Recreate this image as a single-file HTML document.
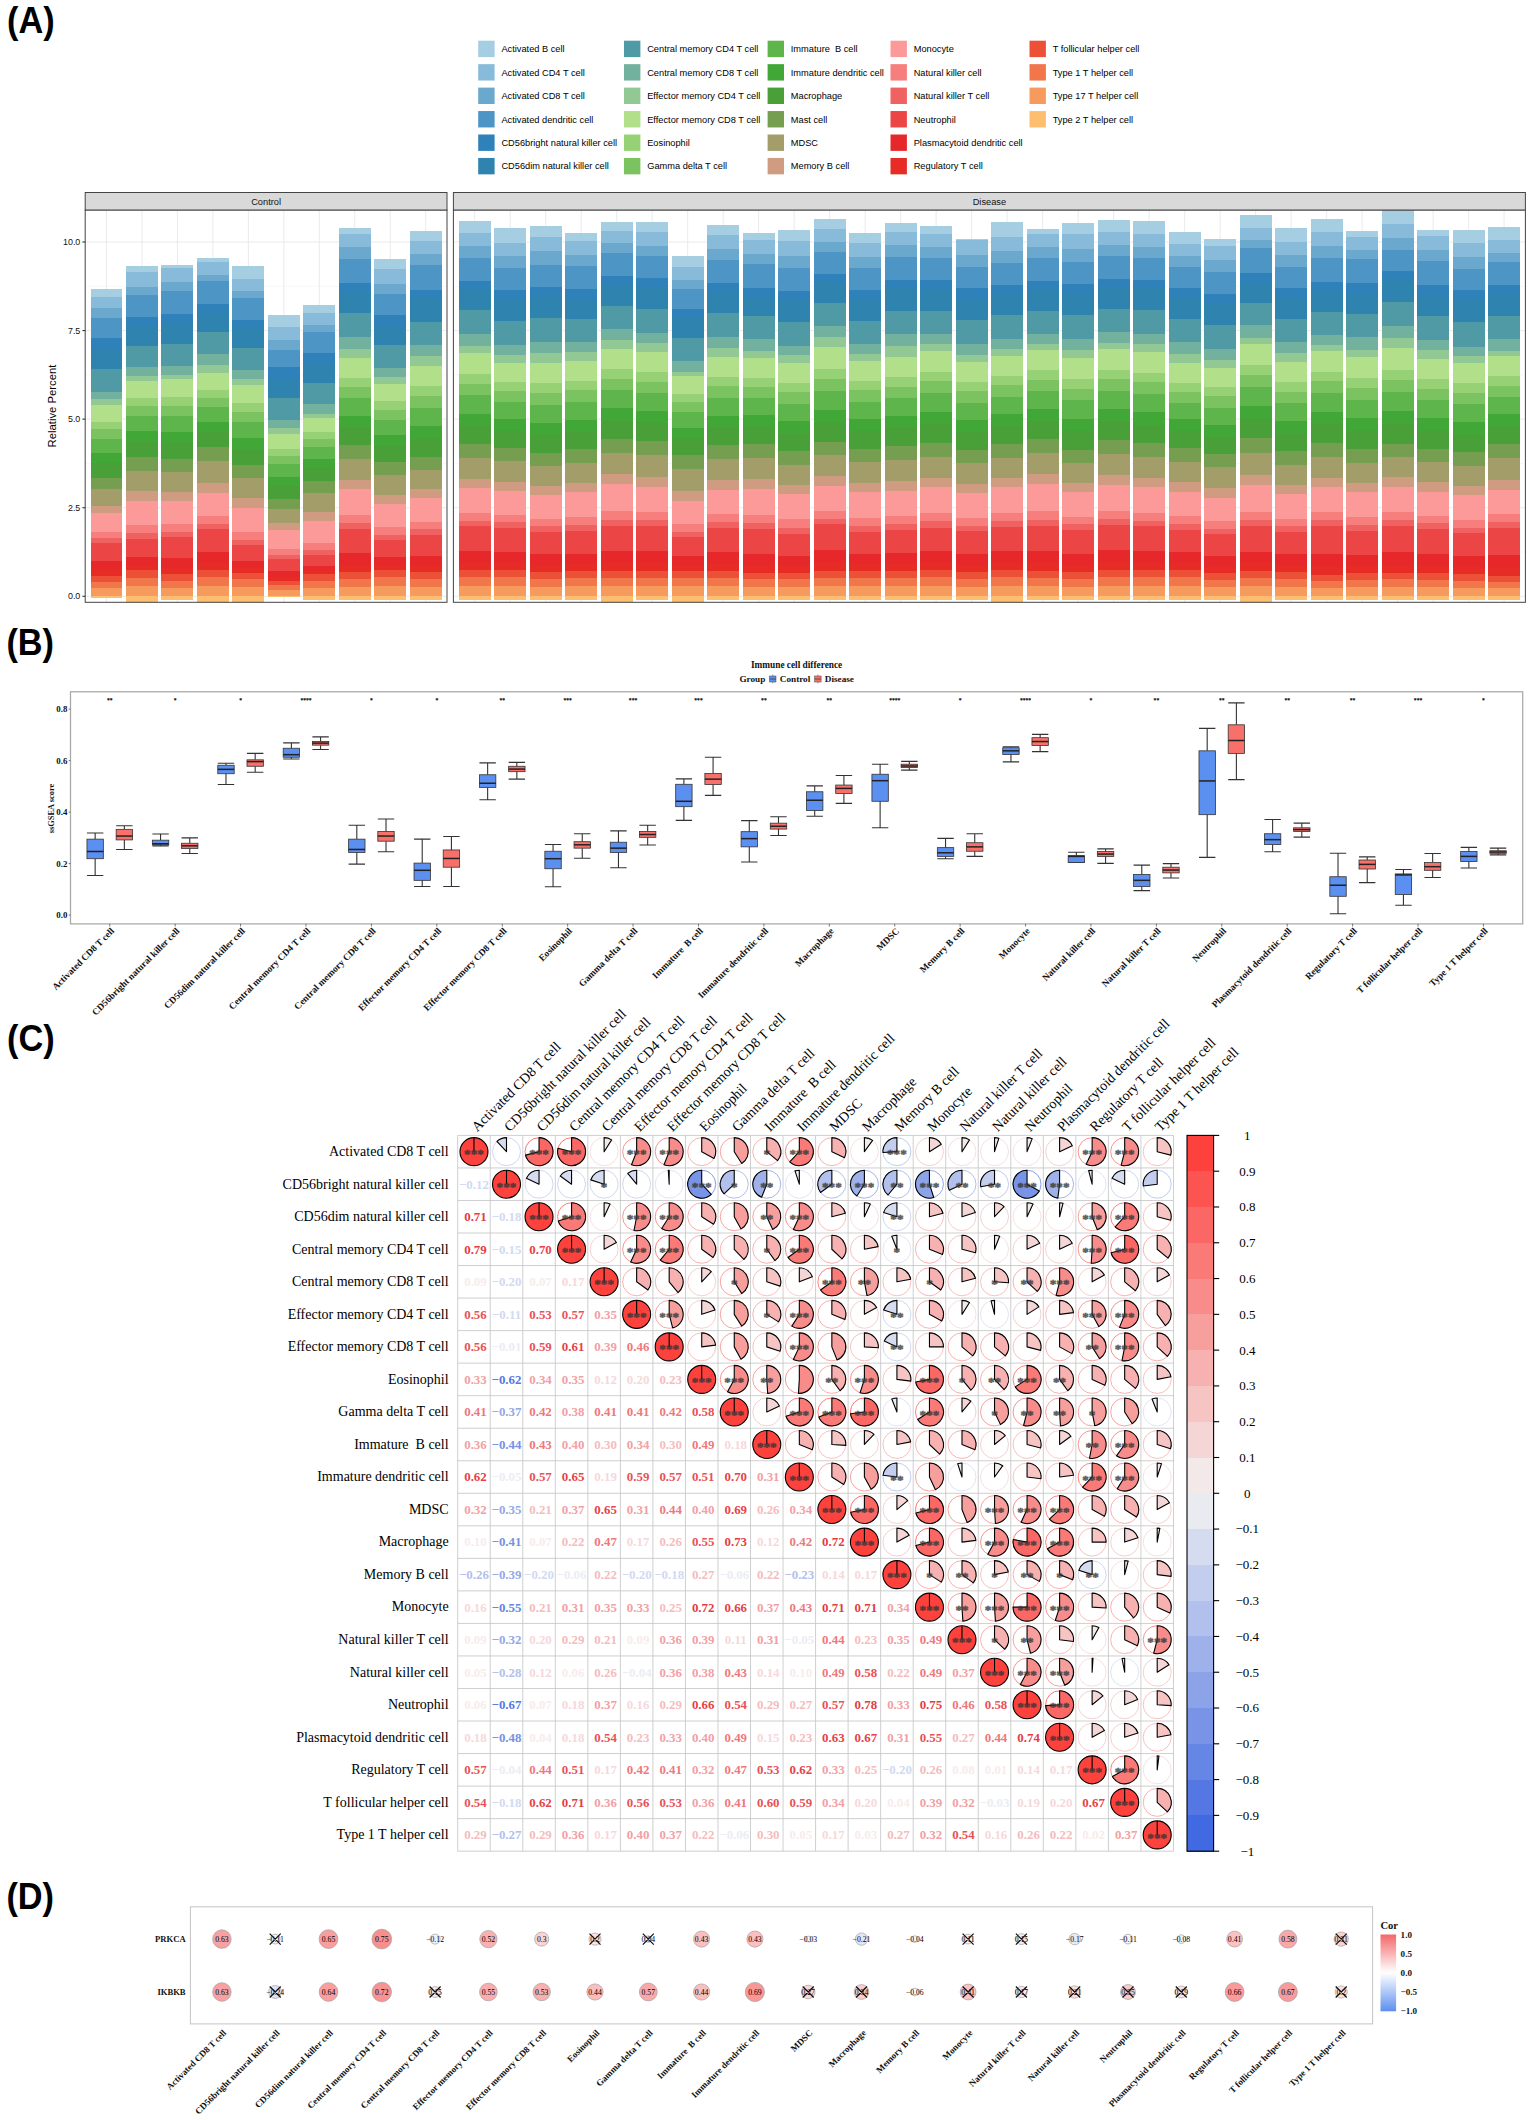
<!DOCTYPE html>
<html lang="en">
<head>
<meta charset="utf-8">
<title>Immune cell infiltration figure</title>
<style>
html,body{margin:0;padding:0;background:#fff;}
body{width:1535px;height:2120px;overflow:hidden;}
svg{display:block;}
svg{font-family:'Liberation Sans', Arial, sans-serif;fill:#111;}
.pl{font-family:'Liberation Sans', Arial, sans-serif;font-weight:700;font-size:36.4px;fill:#000;}
.sa{font-family:'Liberation Sans', Arial, sans-serif;}
.se{font-family:'Liberation Serif', 'Times New Roman', serif;}
.b{font-weight:700;}
</style>
</head>
<body>
<svg width="1535" height="2120" viewBox="0 0 1535 2120">
<rect x="0" y="0" width="1535" height="2120" fill="#FFFFFF"/>
<text x="7.1" y="33.1" class="pl" textLength="47.6" lengthAdjust="spacingAndGlyphs">(A)</text>
<g class="sa" font-size="9.25" fill="#000">
<rect x="478.2" y="40.7" width="16.4" height="16.4" fill="#A6CEE3"/>
<text x="501.4" y="52.2">Activated B cell</text>
<rect x="478.2" y="64.15" width="16.4" height="16.4" fill="#88BBD9"/>
<text x="501.4" y="75.65">Activated CD4 T cell</text>
<rect x="478.2" y="87.6" width="16.4" height="16.4" fill="#6AA8CE"/>
<text x="501.4" y="99.1">Activated CD8 T cell</text>
<rect x="478.2" y="111.05" width="16.4" height="16.4" fill="#4C95C4"/>
<text x="501.4" y="122.55">Activated dendritic cell</text>
<rect x="478.2" y="134.5" width="16.4" height="16.4" fill="#2E82B9"/>
<text x="501.4" y="146">CD56bright natural killer cell</text>
<rect x="478.2" y="157.95" width="16.4" height="16.4" fill="#2F83AF"/>
<text x="501.4" y="169.45">CD56dim natural killer cell</text>
<rect x="624" y="40.7" width="16.4" height="16.4" fill="#509AA6"/>
<text x="647.2" y="52.2">Central memory CD4 T cell</text>
<rect x="624" y="64.15" width="16.4" height="16.4" fill="#71B19D"/>
<text x="647.2" y="75.65">Central memory CD8 T cell</text>
<rect x="624" y="87.6" width="16.4" height="16.4" fill="#91C893"/>
<text x="647.2" y="99.1">Effector memory CD4 T cell</text>
<rect x="624" y="111.05" width="16.4" height="16.4" fill="#B2DF8A"/>
<text x="647.2" y="122.55">Effector memory CD8 T cell</text>
<rect x="624" y="134.5" width="16.4" height="16.4" fill="#96D175"/>
<text x="647.2" y="146">Eosinophil</text>
<rect x="624" y="157.95" width="16.4" height="16.4" fill="#7AC360"/>
<text x="647.2" y="169.45">Gamma delta T cell</text>
<rect x="767.6" y="40.7" width="16.4" height="16.4" fill="#5DB54B"/>
<text x="790.8" y="52.2">Immature  B cell</text>
<rect x="767.6" y="64.15" width="16.4" height="16.4" fill="#41A736"/>
<text x="790.8" y="75.65">Immature dendritic cell</text>
<rect x="767.6" y="87.6" width="16.4" height="16.4" fill="#499F38"/>
<text x="790.8" y="99.1">Macrophage</text>
<rect x="767.6" y="111.05" width="16.4" height="16.4" fill="#769E50"/>
<text x="790.8" y="122.55">Mast cell</text>
<rect x="767.6" y="134.5" width="16.4" height="16.4" fill="#A29D69"/>
<text x="790.8" y="146">MDSC</text>
<rect x="767.6" y="157.95" width="16.4" height="16.4" fill="#CF9B81"/>
<text x="790.8" y="169.45">Memory B cell</text>
<rect x="890.5" y="40.7" width="16.4" height="16.4" fill="#FB9A99"/>
<text x="913.7" y="52.2">Monocyte</text>
<rect x="890.5" y="64.15" width="16.4" height="16.4" fill="#F67E7D"/>
<text x="913.7" y="75.65">Natural killer cell</text>
<rect x="890.5" y="87.6" width="16.4" height="16.4" fill="#F06161"/>
<text x="913.7" y="99.1">Natural killer T cell</text>
<rect x="890.5" y="111.05" width="16.4" height="16.4" fill="#EB4546"/>
<text x="913.7" y="122.55">Neutrophil</text>
<rect x="890.5" y="134.5" width="16.4" height="16.4" fill="#E6282A"/>
<text x="913.7" y="146">Plasmacytoid dendritic cell</text>
<rect x="890.5" y="157.95" width="16.4" height="16.4" fill="#E62C25"/>
<text x="913.7" y="169.45">Regulatory T cell</text>
<rect x="1029.5" y="40.7" width="16.4" height="16.4" fill="#EC5138"/>
<text x="1052.7" y="52.2">T follicular helper cell</text>
<rect x="1029.5" y="64.15" width="16.4" height="16.4" fill="#F1764A"/>
<text x="1052.7" y="75.65">Type 1 T helper cell</text>
<rect x="1029.5" y="87.6" width="16.4" height="16.4" fill="#F79A5D"/>
<text x="1052.7" y="99.1">Type 17 T helper cell</text>
<rect x="1029.5" y="111.05" width="16.4" height="16.4" fill="#FDBF6F"/>
<text x="1052.7" y="122.55">Type 2 T helper cell</text>
</g>
<defs>
<clipPath id="clipA0"><rect x="85.2" y="210" width="361.8" height="392.3"/></clipPath>
<clipPath id="clipA1"><rect x="453.4" y="210" width="1072" height="392.3"/></clipPath>
</defs>
<rect x="85.2" y="210" width="361.8" height="392.3" fill="#FFFFFF"/>
<path d="M85.2 552.01H447M85.2 463.44H447M85.2 374.86H447M85.2 286.29H447" stroke="#EFEFEF" stroke-width="0.5" fill="none"/>
<path d="M85.2 596.3H447M85.2 507.72H447M85.2 419.15H447M85.2 330.57H447M85.2 242H447M106.48 210V602.3M141.95 210V602.3M177.42 210V602.3M212.89 210V602.3M248.36 210V602.3M283.84 210V602.3M319.31 210V602.3M354.78 210V602.3M390.25 210V602.3M425.72 210V602.3" stroke="#E8E8E8" stroke-width="0.9" fill="none"/>
<g clip-path="url(#clipA0)" shape-rendering="crispEdges">
<rect x="90.52" y="288.97" width="31.92" height="7.91" fill="#A6CEE3"/>
<rect x="90.52" y="296.58" width="31.92" height="11.71" fill="#88BBD9"/>
<rect x="90.52" y="307.99" width="31.92" height="10.29" fill="#6AA8CE"/>
<rect x="90.52" y="317.98" width="31.92" height="20.04" fill="#4C95C4"/>
<rect x="90.52" y="337.72" width="31.92" height="12.19" fill="#2E82B9"/>
<rect x="90.52" y="349.61" width="31.92" height="20.04" fill="#2F83AF"/>
<rect x="90.52" y="369.35" width="31.92" height="22.65" fill="#509AA6"/>
<rect x="90.52" y="391.7" width="31.92" height="7.43" fill="#71B19D"/>
<rect x="90.52" y="398.83" width="31.92" height="6.48" fill="#91C893"/>
<rect x="90.52" y="405.02" width="31.92" height="16.9" fill="#B2DF8A"/>
<rect x="90.52" y="421.62" width="31.92" height="8.03" fill="#96D175"/>
<rect x="90.52" y="429.35" width="31.92" height="9.75" fill="#7AC360"/>
<rect x="90.52" y="438.79" width="31.92" height="14.9" fill="#5DB54B"/>
<rect x="90.52" y="453.39" width="31.92" height="10.32" fill="#41A736"/>
<rect x="90.52" y="463.41" width="31.92" height="14.9" fill="#499F38"/>
<rect x="90.52" y="478.01" width="31.92" height="11.28" fill="#769E50"/>
<rect x="90.52" y="488.99" width="31.92" height="16.91" fill="#A29D69"/>
<rect x="90.52" y="505.6" width="31.92" height="7.9" fill="#CF9B81"/>
<rect x="90.52" y="513.2" width="31.92" height="19.47" fill="#FB9A99"/>
<rect x="90.52" y="532.37" width="31.92" height="6.41" fill="#F67E7D"/>
<rect x="90.52" y="538.49" width="31.92" height="4.75" fill="#F06161"/>
<rect x="90.52" y="542.93" width="31.92" height="18.83" fill="#EB4546"/>
<rect x="90.52" y="561.46" width="31.92" height="9.03" fill="#E6282A"/>
<rect x="90.52" y="570.19" width="31.92" height="5.86" fill="#E62C25"/>
<rect x="90.52" y="575.75" width="31.92" height="6.13" fill="#EC5138"/>
<rect x="90.52" y="581.58" width="31.92" height="6.97" fill="#F1764A"/>
<rect x="90.52" y="588.25" width="31.92" height="8.35" fill="#F79A5D"/>
<rect x="90.52" y="596.3" width="31.92" height="1.72" fill="#FDBF6F"/>
<rect x="125.99" y="266.37" width="31.92" height="6.25" fill="#A6CEE3"/>
<rect x="125.99" y="272.32" width="31.92" height="15.04" fill="#88BBD9"/>
<rect x="125.99" y="287.06" width="31.92" height="8.15" fill="#6AA8CE"/>
<rect x="125.99" y="294.91" width="31.92" height="22.18" fill="#4C95C4"/>
<rect x="125.99" y="316.79" width="31.92" height="9.34" fill="#2E82B9"/>
<rect x="125.99" y="325.83" width="31.92" height="20.04" fill="#2F83AF"/>
<rect x="125.99" y="345.56" width="31.92" height="22.18" fill="#509AA6"/>
<rect x="125.99" y="367.44" width="31.92" height="9.1" fill="#71B19D"/>
<rect x="125.99" y="376.24" width="31.92" height="4.58" fill="#91C893"/>
<rect x="125.99" y="380.52" width="31.92" height="17.66" fill="#B2DF8A"/>
<rect x="125.99" y="397.88" width="31.92" height="8.38" fill="#96D175"/>
<rect x="125.99" y="405.96" width="31.92" height="10.18" fill="#7AC360"/>
<rect x="125.99" y="415.84" width="31.92" height="15.56" fill="#5DB54B"/>
<rect x="125.99" y="431.1" width="31.92" height="10.78" fill="#41A736"/>
<rect x="125.99" y="441.58" width="31.92" height="15.56" fill="#499F38"/>
<rect x="125.99" y="456.84" width="31.92" height="13.95" fill="#769E50"/>
<rect x="125.99" y="470.5" width="31.92" height="20.95" fill="#A29D69"/>
<rect x="125.99" y="491.15" width="31.92" height="9.75" fill="#CF9B81"/>
<rect x="125.99" y="500.6" width="31.92" height="24.99" fill="#FB9A99"/>
<rect x="125.99" y="525.29" width="31.92" height="8.17" fill="#F67E7D"/>
<rect x="125.99" y="533.16" width="31.92" height="6.03" fill="#F06161"/>
<rect x="125.99" y="538.89" width="31.92" height="18.02" fill="#EB4546"/>
<rect x="125.99" y="556.61" width="31.92" height="8.65" fill="#E6282A"/>
<rect x="125.99" y="564.96" width="31.92" height="5.62" fill="#E62C25"/>
<rect x="125.99" y="570.28" width="31.92" height="7.68" fill="#EC5138"/>
<rect x="125.99" y="577.66" width="31.92" height="8.74" fill="#F1764A"/>
<rect x="125.99" y="586.1" width="31.92" height="10.5" fill="#F79A5D"/>
<rect x="125.99" y="596.3" width="31.92" height="9.16" fill="#FDBF6F"/>
<rect x="161.46" y="265.18" width="31.92" height="3.15" fill="#A6CEE3"/>
<rect x="161.46" y="268.04" width="31.92" height="14.57" fill="#88BBD9"/>
<rect x="161.46" y="282.31" width="31.92" height="8.86" fill="#6AA8CE"/>
<rect x="161.46" y="290.87" width="31.92" height="23.84" fill="#4C95C4"/>
<rect x="161.46" y="314.41" width="31.92" height="9.81" fill="#2E82B9"/>
<rect x="161.46" y="323.92" width="31.92" height="20.04" fill="#2F83AF"/>
<rect x="161.46" y="343.66" width="31.92" height="22.18" fill="#509AA6"/>
<rect x="161.46" y="365.54" width="31.92" height="9.34" fill="#71B19D"/>
<rect x="161.46" y="374.58" width="31.92" height="4.58" fill="#91C893"/>
<rect x="161.46" y="378.86" width="31.92" height="18.58" fill="#B2DF8A"/>
<rect x="161.46" y="397.14" width="31.92" height="8.81" fill="#96D175"/>
<rect x="161.46" y="405.65" width="31.92" height="10.7" fill="#7AC360"/>
<rect x="161.46" y="416.05" width="31.92" height="16.37" fill="#5DB54B"/>
<rect x="161.46" y="432.12" width="31.92" height="11.33" fill="#41A736"/>
<rect x="161.46" y="443.15" width="31.92" height="16.37" fill="#499F38"/>
<rect x="161.46" y="459.22" width="31.92" height="13.21" fill="#769E50"/>
<rect x="161.46" y="472.13" width="31.92" height="19.83" fill="#A29D69"/>
<rect x="161.46" y="491.66" width="31.92" height="9.24" fill="#CF9B81"/>
<rect x="161.46" y="500.6" width="31.92" height="24.07" fill="#FB9A99"/>
<rect x="161.46" y="524.37" width="31.92" height="7.88" fill="#F67E7D"/>
<rect x="161.46" y="531.95" width="31.92" height="5.81" fill="#F06161"/>
<rect x="161.46" y="537.46" width="31.92" height="21.11" fill="#EB4546"/>
<rect x="161.46" y="558.27" width="31.92" height="10.11" fill="#E6282A"/>
<rect x="161.46" y="568.08" width="31.92" height="6.54" fill="#E62C25"/>
<rect x="161.46" y="574.32" width="31.92" height="6.54" fill="#EC5138"/>
<rect x="161.46" y="580.56" width="31.92" height="7.43" fill="#F1764A"/>
<rect x="161.46" y="587.69" width="31.92" height="8.91" fill="#F79A5D"/>
<rect x="161.46" y="596.3" width="31.92" height="3.67" fill="#FDBF6F"/>
<rect x="196.93" y="258.05" width="31.92" height="4.58" fill="#A6CEE3"/>
<rect x="196.93" y="262.33" width="31.92" height="13.14" fill="#88BBD9"/>
<rect x="196.93" y="275.17" width="31.92" height="5.77" fill="#6AA8CE"/>
<rect x="196.93" y="280.64" width="31.92" height="24.08" fill="#4C95C4"/>
<rect x="196.93" y="304.42" width="31.92" height="9.34" fill="#2E82B9"/>
<rect x="196.93" y="313.46" width="31.92" height="18.61" fill="#2F83AF"/>
<rect x="196.93" y="331.77" width="31.92" height="22.18" fill="#509AA6"/>
<rect x="196.93" y="353.65" width="31.92" height="11.71" fill="#71B19D"/>
<rect x="196.93" y="365.07" width="31.92" height="7.91" fill="#91C893"/>
<rect x="196.93" y="372.68" width="31.92" height="17.28" fill="#B2DF8A"/>
<rect x="196.93" y="389.66" width="31.92" height="8.2" fill="#96D175"/>
<rect x="196.93" y="397.56" width="31.92" height="9.96" fill="#7AC360"/>
<rect x="196.93" y="407.22" width="31.92" height="15.23" fill="#5DB54B"/>
<rect x="196.93" y="422.15" width="31.92" height="10.55" fill="#41A736"/>
<rect x="196.93" y="432.4" width="31.92" height="15.23" fill="#499F38"/>
<rect x="196.93" y="447.33" width="31.92" height="14.4" fill="#769E50"/>
<rect x="196.93" y="461.43" width="31.92" height="21.63" fill="#A29D69"/>
<rect x="196.93" y="482.76" width="31.92" height="10.06" fill="#CF9B81"/>
<rect x="196.93" y="492.51" width="31.92" height="24.07" fill="#FB9A99"/>
<rect x="196.93" y="516.28" width="31.92" height="7.88" fill="#F67E7D"/>
<rect x="196.93" y="523.86" width="31.92" height="5.81" fill="#F06161"/>
<rect x="196.93" y="529.38" width="31.92" height="22.99" fill="#EB4546"/>
<rect x="196.93" y="552.06" width="31.92" height="11" fill="#E6282A"/>
<rect x="196.93" y="562.76" width="31.92" height="7.11" fill="#E62C25"/>
<rect x="196.93" y="569.57" width="31.92" height="7.89" fill="#EC5138"/>
<rect x="196.93" y="577.15" width="31.92" height="8.97" fill="#F1764A"/>
<rect x="196.93" y="585.82" width="31.92" height="10.78" fill="#F79A5D"/>
<rect x="196.93" y="596.3" width="31.92" height="9.16" fill="#FDBF6F"/>
<rect x="232.4" y="266.37" width="31.92" height="12.67" fill="#A6CEE3"/>
<rect x="232.4" y="278.74" width="31.92" height="12.19" fill="#88BBD9"/>
<rect x="232.4" y="290.63" width="31.92" height="7.67" fill="#6AA8CE"/>
<rect x="232.4" y="298" width="31.92" height="22.18" fill="#4C95C4"/>
<rect x="232.4" y="319.88" width="31.92" height="8.62" fill="#2E82B9"/>
<rect x="232.4" y="328.2" width="31.92" height="20.51" fill="#2F83AF"/>
<rect x="232.4" y="348.42" width="31.92" height="22.18" fill="#509AA6"/>
<rect x="232.4" y="370.3" width="31.92" height="8.86" fill="#71B19D"/>
<rect x="232.4" y="378.86" width="31.92" height="6.25" fill="#91C893"/>
<rect x="232.4" y="384.8" width="31.92" height="18.52" fill="#B2DF8A"/>
<rect x="232.4" y="403.03" width="31.92" height="8.78" fill="#96D175"/>
<rect x="232.4" y="411.51" width="31.92" height="10.67" fill="#7AC360"/>
<rect x="232.4" y="421.88" width="31.92" height="16.32" fill="#5DB54B"/>
<rect x="232.4" y="437.91" width="31.92" height="11.3" fill="#41A736"/>
<rect x="232.4" y="448.9" width="31.92" height="16.32" fill="#499F38"/>
<rect x="232.4" y="464.93" width="31.92" height="13.66" fill="#769E50"/>
<rect x="232.4" y="478.28" width="31.92" height="20.5" fill="#A29D69"/>
<rect x="232.4" y="498.49" width="31.92" height="9.55" fill="#CF9B81"/>
<rect x="232.4" y="507.73" width="31.92" height="24.53" fill="#FB9A99"/>
<rect x="232.4" y="531.97" width="31.92" height="8.03" fill="#F67E7D"/>
<rect x="232.4" y="539.69" width="31.92" height="5.92" fill="#F06161"/>
<rect x="232.4" y="545.31" width="31.92" height="15.74" fill="#EB4546"/>
<rect x="232.4" y="560.75" width="31.92" height="7.58" fill="#E6282A"/>
<rect x="232.4" y="568.03" width="31.92" height="4.93" fill="#E62C25"/>
<rect x="232.4" y="572.66" width="31.92" height="7.01" fill="#EC5138"/>
<rect x="232.4" y="579.37" width="31.92" height="7.97" fill="#F1764A"/>
<rect x="232.4" y="587.03" width="31.92" height="9.57" fill="#F79A5D"/>
<rect x="232.4" y="596.3" width="31.92" height="9.16" fill="#FDBF6F"/>
<rect x="267.87" y="315.12" width="31.92" height="12.19" fill="#A6CEE3"/>
<rect x="267.87" y="327.02" width="31.92" height="13.38" fill="#88BBD9"/>
<rect x="267.87" y="340.1" width="31.92" height="9.81" fill="#6AA8CE"/>
<rect x="267.87" y="349.61" width="31.92" height="18.14" fill="#4C95C4"/>
<rect x="267.87" y="367.44" width="31.92" height="11.71" fill="#2E82B9"/>
<rect x="267.87" y="378.86" width="31.92" height="19.32" fill="#2F83AF"/>
<rect x="267.87" y="397.88" width="31.92" height="22.18" fill="#509AA6"/>
<rect x="267.87" y="419.76" width="31.92" height="8.62" fill="#71B19D"/>
<rect x="267.87" y="428.09" width="31.92" height="6.25" fill="#91C893"/>
<rect x="267.87" y="434.03" width="31.92" height="15.17" fill="#B2DF8A"/>
<rect x="267.87" y="448.9" width="31.92" height="7.22" fill="#96D175"/>
<rect x="267.87" y="455.82" width="31.92" height="8.76" fill="#7AC360"/>
<rect x="267.87" y="464.29" width="31.92" height="13.38" fill="#5DB54B"/>
<rect x="267.87" y="477.36" width="31.92" height="9.27" fill="#41A736"/>
<rect x="267.87" y="486.34" width="31.92" height="13.38" fill="#499F38"/>
<rect x="267.87" y="499.41" width="31.92" height="9.8" fill="#769E50"/>
<rect x="267.87" y="508.91" width="31.92" height="14.67" fill="#A29D69"/>
<rect x="267.87" y="523.28" width="31.92" height="6.88" fill="#CF9B81"/>
<rect x="267.87" y="529.85" width="31.92" height="19.16" fill="#FB9A99"/>
<rect x="267.87" y="548.71" width="31.92" height="6.31" fill="#F67E7D"/>
<rect x="267.87" y="554.73" width="31.92" height="4.67" fill="#F06161"/>
<rect x="267.87" y="559.1" width="31.92" height="12.38" fill="#EB4546"/>
<rect x="267.87" y="571.18" width="31.92" height="6" fill="#E6282A"/>
<rect x="267.87" y="576.88" width="31.92" height="3.92" fill="#E62C25"/>
<rect x="267.87" y="580.51" width="31.92" height="4.78" fill="#EC5138"/>
<rect x="267.87" y="584.99" width="31.92" height="5.42" fill="#F1764A"/>
<rect x="267.87" y="590.11" width="31.92" height="6.49" fill="#F79A5D"/>
<rect x="267.87" y="596.3" width="31.92" height="0.3" fill="#FDBF6F"/>
<rect x="303.34" y="304.9" width="31.92" height="8.15" fill="#A6CEE3"/>
<rect x="303.34" y="312.75" width="31.92" height="12.67" fill="#88BBD9"/>
<rect x="303.34" y="325.11" width="31.92" height="7.43" fill="#6AA8CE"/>
<rect x="303.34" y="332.25" width="31.92" height="20.75" fill="#4C95C4"/>
<rect x="303.34" y="352.7" width="31.92" height="10.29" fill="#2E82B9"/>
<rect x="303.34" y="362.69" width="31.92" height="20.51" fill="#2F83AF"/>
<rect x="303.34" y="382.9" width="31.92" height="21.7" fill="#509AA6"/>
<rect x="303.34" y="404.3" width="31.92" height="9.81" fill="#71B19D"/>
<rect x="303.34" y="413.82" width="31.92" height="4.34" fill="#91C893"/>
<rect x="303.34" y="417.86" width="31.92" height="14.58" fill="#B2DF8A"/>
<rect x="303.34" y="432.14" width="31.92" height="6.95" fill="#96D175"/>
<rect x="303.34" y="438.78" width="31.92" height="8.42" fill="#7AC360"/>
<rect x="303.34" y="446.9" width="31.92" height="12.85" fill="#5DB54B"/>
<rect x="303.34" y="459.46" width="31.92" height="8.91" fill="#41A736"/>
<rect x="303.34" y="468.07" width="31.92" height="12.85" fill="#499F38"/>
<rect x="303.34" y="480.62" width="31.92" height="12.84" fill="#769E50"/>
<rect x="303.34" y="493.16" width="31.92" height="19.27" fill="#A29D69"/>
<rect x="303.34" y="512.13" width="31.92" height="8.98" fill="#CF9B81"/>
<rect x="303.34" y="520.81" width="31.92" height="22.54" fill="#FB9A99"/>
<rect x="303.34" y="543.05" width="31.92" height="7.39" fill="#F67E7D"/>
<rect x="303.34" y="550.14" width="31.92" height="5.46" fill="#F06161"/>
<rect x="303.34" y="555.3" width="31.92" height="11.04" fill="#EB4546"/>
<rect x="303.34" y="566.04" width="31.92" height="5.36" fill="#E6282A"/>
<rect x="303.34" y="571.1" width="31.92" height="3.52" fill="#E62C25"/>
<rect x="303.34" y="574.32" width="31.92" height="6.54" fill="#EC5138"/>
<rect x="303.34" y="580.56" width="31.92" height="7.43" fill="#F1764A"/>
<rect x="303.34" y="587.69" width="31.92" height="8.91" fill="#F79A5D"/>
<rect x="303.34" y="596.3" width="31.92" height="3.67" fill="#FDBF6F"/>
<rect x="338.81" y="227.85" width="31.92" height="6.25" fill="#A6CEE3"/>
<rect x="338.81" y="233.79" width="31.92" height="13.86" fill="#88BBD9"/>
<rect x="338.81" y="247.35" width="31.92" height="11.48" fill="#6AA8CE"/>
<rect x="338.81" y="258.53" width="31.92" height="24.32" fill="#4C95C4"/>
<rect x="338.81" y="282.54" width="31.92" height="9.81" fill="#2E82B9"/>
<rect x="338.81" y="292.06" width="31.92" height="20.99" fill="#2F83AF"/>
<rect x="338.81" y="312.75" width="31.92" height="24.08" fill="#509AA6"/>
<rect x="338.81" y="336.53" width="31.92" height="12.9" fill="#71B19D"/>
<rect x="338.81" y="349.13" width="31.92" height="9.1" fill="#91C893"/>
<rect x="338.81" y="357.93" width="31.92" height="20.2" fill="#B2DF8A"/>
<rect x="338.81" y="377.83" width="31.92" height="9.56" fill="#96D175"/>
<rect x="338.81" y="387.1" width="31.92" height="11.62" fill="#7AC360"/>
<rect x="338.81" y="398.42" width="31.92" height="17.8" fill="#5DB54B"/>
<rect x="338.81" y="415.92" width="31.92" height="12.31" fill="#41A736"/>
<rect x="338.81" y="427.93" width="31.92" height="17.8" fill="#499F38"/>
<rect x="338.81" y="445.43" width="31.92" height="13.88" fill="#769E50"/>
<rect x="338.81" y="459.01" width="31.92" height="20.84" fill="#A29D69"/>
<rect x="338.81" y="479.55" width="31.92" height="9.7" fill="#CF9B81"/>
<rect x="338.81" y="488.95" width="31.92" height="25.91" fill="#FB9A99"/>
<rect x="338.81" y="514.56" width="31.92" height="8.47" fill="#F67E7D"/>
<rect x="338.81" y="522.72" width="31.92" height="6.24" fill="#F06161"/>
<rect x="338.81" y="528.66" width="31.92" height="24.73" fill="#EB4546"/>
<rect x="338.81" y="553.1" width="31.92" height="11.82" fill="#E6282A"/>
<rect x="338.81" y="564.61" width="31.92" height="7.63" fill="#E62C25"/>
<rect x="338.81" y="571.94" width="31.92" height="7.21" fill="#EC5138"/>
<rect x="338.81" y="578.86" width="31.92" height="8.2" fill="#F1764A"/>
<rect x="338.81" y="586.76" width="31.92" height="9.84" fill="#F79A5D"/>
<rect x="338.81" y="596.3" width="31.92" height="3.67" fill="#FDBF6F"/>
<rect x="374.29" y="258.53" width="31.92" height="11.24" fill="#A6CEE3"/>
<rect x="374.29" y="269.46" width="31.92" height="14.33" fill="#88BBD9"/>
<rect x="374.29" y="283.5" width="31.92" height="11" fill="#6AA8CE"/>
<rect x="374.29" y="294.2" width="31.92" height="20.75" fill="#4C95C4"/>
<rect x="374.29" y="314.65" width="31.92" height="10.29" fill="#2E82B9"/>
<rect x="374.29" y="324.64" width="31.92" height="20.51" fill="#2F83AF"/>
<rect x="374.29" y="344.85" width="31.92" height="23.37" fill="#509AA6"/>
<rect x="374.29" y="367.92" width="31.92" height="9.34" fill="#71B19D"/>
<rect x="374.29" y="376.96" width="31.92" height="6.96" fill="#91C893"/>
<rect x="374.29" y="383.61" width="31.92" height="18.04" fill="#B2DF8A"/>
<rect x="374.29" y="401.35" width="31.92" height="8.56" fill="#96D175"/>
<rect x="374.29" y="409.61" width="31.92" height="10.39" fill="#7AC360"/>
<rect x="374.29" y="419.7" width="31.92" height="15.9" fill="#5DB54B"/>
<rect x="374.29" y="435.3" width="31.92" height="11" fill="#41A736"/>
<rect x="374.29" y="446" width="31.92" height="15.9" fill="#499F38"/>
<rect x="374.29" y="461.6" width="31.92" height="13.66" fill="#769E50"/>
<rect x="374.29" y="474.95" width="31.92" height="20.5" fill="#A29D69"/>
<rect x="374.29" y="495.16" width="31.92" height="9.55" fill="#CF9B81"/>
<rect x="374.29" y="504.41" width="31.92" height="23.15" fill="#FB9A99"/>
<rect x="374.29" y="527.26" width="31.92" height="7.59" fill="#F67E7D"/>
<rect x="374.29" y="534.54" width="31.92" height="5.6" fill="#F06161"/>
<rect x="374.29" y="539.84" width="31.92" height="17.08" fill="#EB4546"/>
<rect x="374.29" y="556.62" width="31.92" height="8.21" fill="#E6282A"/>
<rect x="374.29" y="564.53" width="31.92" height="5.33" fill="#E62C25"/>
<rect x="374.29" y="569.57" width="31.92" height="7.89" fill="#EC5138"/>
<rect x="374.29" y="577.15" width="31.92" height="8.97" fill="#F1764A"/>
<rect x="374.29" y="585.82" width="31.92" height="10.78" fill="#F79A5D"/>
<rect x="374.29" y="596.3" width="31.92" height="3.67" fill="#FDBF6F"/>
<rect x="409.76" y="231.18" width="31.92" height="10.05" fill="#A6CEE3"/>
<rect x="409.76" y="240.93" width="31.92" height="13.38" fill="#88BBD9"/>
<rect x="409.76" y="254.01" width="31.92" height="11.48" fill="#6AA8CE"/>
<rect x="409.76" y="265.18" width="31.92" height="24.79" fill="#4C95C4"/>
<rect x="409.76" y="289.68" width="31.92" height="9.1" fill="#2E82B9"/>
<rect x="409.76" y="298.48" width="31.92" height="23.61" fill="#2F83AF"/>
<rect x="409.76" y="321.78" width="31.92" height="23.37" fill="#509AA6"/>
<rect x="409.76" y="344.85" width="31.92" height="11" fill="#71B19D"/>
<rect x="409.76" y="355.55" width="31.92" height="10.53" fill="#91C893"/>
<rect x="409.76" y="365.78" width="31.92" height="21.01" fill="#B2DF8A"/>
<rect x="409.76" y="386.49" width="31.92" height="9.94" fill="#96D175"/>
<rect x="409.76" y="396.13" width="31.92" height="12.08" fill="#7AC360"/>
<rect x="409.76" y="407.92" width="31.92" height="18.51" fill="#5DB54B"/>
<rect x="409.76" y="426.13" width="31.92" height="12.8" fill="#41A736"/>
<rect x="409.76" y="438.63" width="31.92" height="18.51" fill="#499F38"/>
<rect x="409.76" y="456.84" width="31.92" height="13.28" fill="#769E50"/>
<rect x="409.76" y="469.83" width="31.92" height="19.94" fill="#A29D69"/>
<rect x="409.76" y="489.47" width="31.92" height="9.29" fill="#CF9B81"/>
<rect x="409.76" y="498.46" width="31.92" height="23.61" fill="#FB9A99"/>
<rect x="409.76" y="521.77" width="31.92" height="7.73" fill="#F67E7D"/>
<rect x="409.76" y="529.2" width="31.92" height="5.71" fill="#F06161"/>
<rect x="409.76" y="534.61" width="31.92" height="21.51" fill="#EB4546"/>
<rect x="409.76" y="555.82" width="31.92" height="10.3" fill="#E6282A"/>
<rect x="409.76" y="565.82" width="31.92" height="6.66" fill="#E62C25"/>
<rect x="409.76" y="572.18" width="31.92" height="7.14" fill="#EC5138"/>
<rect x="409.76" y="579.03" width="31.92" height="8.12" fill="#F1764A"/>
<rect x="409.76" y="586.85" width="31.92" height="9.75" fill="#F79A5D"/>
<rect x="409.76" y="596.3" width="31.92" height="3.67" fill="#FDBF6F"/>
</g>
<rect x="85.2" y="210" width="361.8" height="392.3" fill="none" stroke="#444444" stroke-width="1"/>
<rect x="85.2" y="192.5" width="361.8" height="17.5" fill="#D9D9D9" stroke="#444444" stroke-width="1"/>
<text class="sa" x="266.1" y="204.6" font-size="9.25" text-anchor="middle" fill="#111">Control</text>
<rect x="453.4" y="210" width="1072" height="392.3" fill="#FFFFFF"/>
<path d="M453.4 552.01H1525.4M453.4 463.44H1525.4M453.4 374.86H1525.4M453.4 286.29H1525.4" stroke="#EFEFEF" stroke-width="0.5" fill="none"/>
<path d="M453.4 596.3H1525.4M453.4 507.72H1525.4M453.4 419.15H1525.4M453.4 330.57H1525.4M453.4 242H1525.4M474.7 210V602.3M510.19 210V602.3M545.69 210V602.3M581.19 210V602.3M616.68 210V602.3M652.18 210V602.3M687.68 210V602.3M723.17 210V602.3M758.67 210V602.3M794.17 210V602.3M829.66 210V602.3M865.16 210V602.3M900.66 210V602.3M936.15 210V602.3M971.65 210V602.3M1007.15 210V602.3M1042.65 210V602.3M1078.14 210V602.3M1113.64 210V602.3M1149.14 210V602.3M1184.63 210V602.3M1220.13 210V602.3M1255.63 210V602.3M1291.12 210V602.3M1326.62 210V602.3M1362.12 210V602.3M1397.61 210V602.3M1433.11 210V602.3M1468.61 210V602.3M1504.1 210V602.3" stroke="#E8E8E8" stroke-width="0.9" fill="none"/>
<g clip-path="url(#clipA1)" shape-rendering="crispEdges">
<rect x="458.72" y="221.18" width="31.95" height="11.71" fill="#A6CEE3"/>
<rect x="458.72" y="232.59" width="31.95" height="13.86" fill="#88BBD9"/>
<rect x="458.72" y="246.15" width="31.95" height="11.71" fill="#6AA8CE"/>
<rect x="458.72" y="257.56" width="31.95" height="23.37" fill="#4C95C4"/>
<rect x="458.72" y="280.63" width="31.95" height="9.34" fill="#2E82B9"/>
<rect x="458.72" y="289.67" width="31.95" height="20.51" fill="#2F83AF"/>
<rect x="458.72" y="309.88" width="31.95" height="24.56" fill="#509AA6"/>
<rect x="458.72" y="334.14" width="31.95" height="12.19" fill="#71B19D"/>
<rect x="458.72" y="346.03" width="31.95" height="7.67" fill="#91C893"/>
<rect x="458.72" y="353.4" width="31.95" height="20.93" fill="#B2DF8A"/>
<rect x="458.72" y="374.03" width="31.95" height="9.91" fill="#96D175"/>
<rect x="458.72" y="383.64" width="31.95" height="12.04" fill="#7AC360"/>
<rect x="458.72" y="395.38" width="31.95" height="18.44" fill="#5DB54B"/>
<rect x="458.72" y="413.52" width="31.95" height="12.75" fill="#41A736"/>
<rect x="458.72" y="425.97" width="31.95" height="18.44" fill="#499F38"/>
<rect x="458.72" y="444.11" width="31.95" height="14.12" fill="#769E50"/>
<rect x="458.72" y="457.94" width="31.95" height="21.21" fill="#A29D69"/>
<rect x="458.72" y="478.85" width="31.95" height="9.87" fill="#CF9B81"/>
<rect x="458.72" y="488.42" width="31.95" height="24.67" fill="#FB9A99"/>
<rect x="458.72" y="512.78" width="31.95" height="8.07" fill="#F67E7D"/>
<rect x="458.72" y="520.55" width="31.95" height="5.95" fill="#F06161"/>
<rect x="458.72" y="526.2" width="31.95" height="25.01" fill="#EB4546"/>
<rect x="458.72" y="550.92" width="31.95" height="11.95" fill="#E6282A"/>
<rect x="458.72" y="562.57" width="31.95" height="7.71" fill="#E62C25"/>
<rect x="458.72" y="569.98" width="31.95" height="7.77" fill="#EC5138"/>
<rect x="458.72" y="577.45" width="31.95" height="8.84" fill="#F1764A"/>
<rect x="458.72" y="585.99" width="31.95" height="10.61" fill="#F79A5D"/>
<rect x="458.72" y="596.3" width="31.95" height="3.67" fill="#FDBF6F"/>
<rect x="494.22" y="228.31" width="31.95" height="15.28" fill="#A6CEE3"/>
<rect x="494.22" y="243.29" width="31.95" height="12.9" fill="#88BBD9"/>
<rect x="494.22" y="255.9" width="31.95" height="12.19" fill="#6AA8CE"/>
<rect x="494.22" y="267.79" width="31.95" height="22.89" fill="#4C95C4"/>
<rect x="494.22" y="290.38" width="31.95" height="9.81" fill="#2E82B9"/>
<rect x="494.22" y="299.89" width="31.95" height="21.47" fill="#2F83AF"/>
<rect x="494.22" y="321.06" width="31.95" height="24.32" fill="#509AA6"/>
<rect x="494.22" y="345.08" width="31.95" height="9.81" fill="#71B19D"/>
<rect x="494.22" y="354.59" width="31.95" height="8.62" fill="#91C893"/>
<rect x="494.22" y="362.91" width="31.95" height="19.66" fill="#B2DF8A"/>
<rect x="494.22" y="382.27" width="31.95" height="9.31" fill="#96D175"/>
<rect x="494.22" y="391.28" width="31.95" height="11.31" fill="#7AC360"/>
<rect x="494.22" y="402.3" width="31.95" height="17.32" fill="#5DB54B"/>
<rect x="494.22" y="419.32" width="31.95" height="11.98" fill="#41A736"/>
<rect x="494.22" y="431" width="31.95" height="17.32" fill="#499F38"/>
<rect x="494.22" y="448.02" width="31.95" height="13.72" fill="#769E50"/>
<rect x="494.22" y="461.44" width="31.95" height="20.59" fill="#A29D69"/>
<rect x="494.22" y="481.73" width="31.95" height="9.59" fill="#CF9B81"/>
<rect x="494.22" y="491.02" width="31.95" height="24.16" fill="#FB9A99"/>
<rect x="494.22" y="514.88" width="31.95" height="7.91" fill="#F67E7D"/>
<rect x="494.22" y="522.49" width="31.95" height="5.83" fill="#F06161"/>
<rect x="494.22" y="528.03" width="31.95" height="23.98" fill="#EB4546"/>
<rect x="494.22" y="551.71" width="31.95" height="11.47" fill="#E6282A"/>
<rect x="494.22" y="562.87" width="31.95" height="7.41" fill="#E62C25"/>
<rect x="494.22" y="569.98" width="31.95" height="7.77" fill="#EC5138"/>
<rect x="494.22" y="577.45" width="31.95" height="8.84" fill="#F1764A"/>
<rect x="494.22" y="585.99" width="31.95" height="10.61" fill="#F79A5D"/>
<rect x="494.22" y="596.3" width="31.95" height="3.67" fill="#FDBF6F"/>
<rect x="529.72" y="226.17" width="31.95" height="10.76" fill="#A6CEE3"/>
<rect x="529.72" y="236.63" width="31.95" height="14.57" fill="#88BBD9"/>
<rect x="529.72" y="250.9" width="31.95" height="14.57" fill="#6AA8CE"/>
<rect x="529.72" y="265.17" width="31.95" height="21.7" fill="#4C95C4"/>
<rect x="529.72" y="286.58" width="31.95" height="9.34" fill="#2E82B9"/>
<rect x="529.72" y="295.61" width="31.95" height="22.89" fill="#2F83AF"/>
<rect x="529.72" y="318.2" width="31.95" height="24.08" fill="#509AA6"/>
<rect x="529.72" y="341.99" width="31.95" height="11" fill="#71B19D"/>
<rect x="529.72" y="352.69" width="31.95" height="10.53" fill="#91C893"/>
<rect x="529.72" y="362.91" width="31.95" height="20.84" fill="#B2DF8A"/>
<rect x="529.72" y="383.46" width="31.95" height="9.86" fill="#96D175"/>
<rect x="529.72" y="393.02" width="31.95" height="11.99" fill="#7AC360"/>
<rect x="529.72" y="404.71" width="31.95" height="18.36" fill="#5DB54B"/>
<rect x="529.72" y="422.77" width="31.95" height="12.7" fill="#41A736"/>
<rect x="529.72" y="435.17" width="31.95" height="18.36" fill="#499F38"/>
<rect x="529.72" y="453.24" width="31.95" height="13.31" fill="#769E50"/>
<rect x="529.72" y="466.24" width="31.95" height="19.98" fill="#A29D69"/>
<rect x="529.72" y="485.92" width="31.95" height="9.31" fill="#CF9B81"/>
<rect x="529.72" y="494.93" width="31.95" height="24.16" fill="#FB9A99"/>
<rect x="529.72" y="518.79" width="31.95" height="7.91" fill="#F67E7D"/>
<rect x="529.72" y="526.4" width="31.95" height="5.83" fill="#F06161"/>
<rect x="529.72" y="531.93" width="31.95" height="22.81" fill="#EB4546"/>
<rect x="529.72" y="554.44" width="31.95" height="10.91" fill="#E6282A"/>
<rect x="529.72" y="565.05" width="31.95" height="7.05" fill="#E62C25"/>
<rect x="529.72" y="571.8" width="31.95" height="7.25" fill="#EC5138"/>
<rect x="529.72" y="578.76" width="31.95" height="8.24" fill="#F1764A"/>
<rect x="529.72" y="586.7" width="31.95" height="9.9" fill="#F79A5D"/>
<rect x="529.72" y="596.3" width="31.95" height="3.67" fill="#FDBF6F"/>
<rect x="565.21" y="232.59" width="31.95" height="8.62" fill="#A6CEE3"/>
<rect x="565.21" y="240.92" width="31.95" height="14.57" fill="#88BBD9"/>
<rect x="565.21" y="255.18" width="31.95" height="11" fill="#6AA8CE"/>
<rect x="565.21" y="265.89" width="31.95" height="23.61" fill="#4C95C4"/>
<rect x="565.21" y="289.19" width="31.95" height="10.29" fill="#2E82B9"/>
<rect x="565.21" y="299.18" width="31.95" height="20.04" fill="#2F83AF"/>
<rect x="565.21" y="318.92" width="31.95" height="23.37" fill="#509AA6"/>
<rect x="565.21" y="341.99" width="31.95" height="10.29" fill="#71B19D"/>
<rect x="565.21" y="351.97" width="31.95" height="9.34" fill="#91C893"/>
<rect x="565.21" y="361.01" width="31.95" height="20.39" fill="#B2DF8A"/>
<rect x="565.21" y="381.1" width="31.95" height="9.65" fill="#96D175"/>
<rect x="565.21" y="390.45" width="31.95" height="11.73" fill="#7AC360"/>
<rect x="565.21" y="401.88" width="31.95" height="17.96" fill="#5DB54B"/>
<rect x="565.21" y="419.54" width="31.95" height="12.42" fill="#41A736"/>
<rect x="565.21" y="431.66" width="31.95" height="17.96" fill="#499F38"/>
<rect x="565.21" y="449.33" width="31.95" height="13.72" fill="#769E50"/>
<rect x="565.21" y="462.74" width="31.95" height="20.59" fill="#A29D69"/>
<rect x="565.21" y="483.04" width="31.95" height="9.59" fill="#CF9B81"/>
<rect x="565.21" y="492.32" width="31.95" height="25.17" fill="#FB9A99"/>
<rect x="565.21" y="517.19" width="31.95" height="8.23" fill="#F67E7D"/>
<rect x="565.21" y="525.12" width="31.95" height="6.07" fill="#F06161"/>
<rect x="565.21" y="530.89" width="31.95" height="22.95" fill="#EB4546"/>
<rect x="565.21" y="553.55" width="31.95" height="10.98" fill="#E6282A"/>
<rect x="565.21" y="564.23" width="31.95" height="7.1" fill="#E62C25"/>
<rect x="565.21" y="571.02" width="31.95" height="7.47" fill="#EC5138"/>
<rect x="565.21" y="578.2" width="31.95" height="8.5" fill="#F1764A"/>
<rect x="565.21" y="586.39" width="31.95" height="10.21" fill="#F79A5D"/>
<rect x="565.21" y="596.3" width="31.95" height="3.67" fill="#FDBF6F"/>
<rect x="600.71" y="222.37" width="31.95" height="9.34" fill="#A6CEE3"/>
<rect x="600.71" y="231.4" width="31.95" height="12.19" fill="#88BBD9"/>
<rect x="600.71" y="243.29" width="31.95" height="9.81" fill="#6AA8CE"/>
<rect x="600.71" y="252.81" width="31.95" height="23.61" fill="#4C95C4"/>
<rect x="600.71" y="276.11" width="31.95" height="9.1" fill="#2E82B9"/>
<rect x="600.71" y="284.91" width="31.95" height="20.99" fill="#2F83AF"/>
<rect x="600.71" y="305.6" width="31.95" height="23.61" fill="#509AA6"/>
<rect x="600.71" y="328.91" width="31.95" height="11.48" fill="#71B19D"/>
<rect x="600.71" y="340.08" width="31.95" height="8.86" fill="#91C893"/>
<rect x="600.71" y="348.64" width="31.95" height="20.83" fill="#B2DF8A"/>
<rect x="600.71" y="369.17" width="31.95" height="9.86" fill="#96D175"/>
<rect x="600.71" y="378.73" width="31.95" height="11.98" fill="#7AC360"/>
<rect x="600.71" y="390.41" width="31.95" height="18.35" fill="#5DB54B"/>
<rect x="600.71" y="408.46" width="31.95" height="12.69" fill="#41A736"/>
<rect x="600.71" y="420.85" width="31.95" height="18.35" fill="#499F38"/>
<rect x="600.71" y="438.9" width="31.95" height="14.37" fill="#769E50"/>
<rect x="600.71" y="452.97" width="31.95" height="21.58" fill="#A29D69"/>
<rect x="600.71" y="474.25" width="31.95" height="10.04" fill="#CF9B81"/>
<rect x="600.71" y="483.99" width="31.95" height="27.52" fill="#FB9A99"/>
<rect x="600.71" y="511.21" width="31.95" height="8.98" fill="#F67E7D"/>
<rect x="600.71" y="519.89" width="31.95" height="6.61" fill="#F06161"/>
<rect x="600.71" y="526.2" width="31.95" height="25.31" fill="#EB4546"/>
<rect x="600.71" y="551.21" width="31.95" height="12.09" fill="#E6282A"/>
<rect x="600.71" y="563" width="31.95" height="7.8" fill="#E62C25"/>
<rect x="600.71" y="570.5" width="31.95" height="7.62" fill="#EC5138"/>
<rect x="600.71" y="577.82" width="31.95" height="8.67" fill="#F1764A"/>
<rect x="600.71" y="586.19" width="31.95" height="10.41" fill="#F79A5D"/>
<rect x="600.71" y="596.3" width="31.95" height="9.16" fill="#FDBF6F"/>
<rect x="636.21" y="221.89" width="31.95" height="10.29" fill="#A6CEE3"/>
<rect x="636.21" y="231.88" width="31.95" height="14.09" fill="#88BBD9"/>
<rect x="636.21" y="245.67" width="31.95" height="11" fill="#6AA8CE"/>
<rect x="636.21" y="256.37" width="31.95" height="22.18" fill="#4C95C4"/>
<rect x="636.21" y="278.25" width="31.95" height="8.62" fill="#2E82B9"/>
<rect x="636.21" y="286.58" width="31.95" height="22.42" fill="#2F83AF"/>
<rect x="636.21" y="308.69" width="31.95" height="24.56" fill="#509AA6"/>
<rect x="636.21" y="332.95" width="31.95" height="10.53" fill="#71B19D"/>
<rect x="636.21" y="343.17" width="31.95" height="9.34" fill="#91C893"/>
<rect x="636.21" y="352.21" width="31.95" height="20.49" fill="#B2DF8A"/>
<rect x="636.21" y="372.4" width="31.95" height="9.7" fill="#96D175"/>
<rect x="636.21" y="381.8" width="31.95" height="11.79" fill="#7AC360"/>
<rect x="636.21" y="393.29" width="31.95" height="18.06" fill="#5DB54B"/>
<rect x="636.21" y="411.05" width="31.95" height="12.48" fill="#41A736"/>
<rect x="636.21" y="423.23" width="31.95" height="18.06" fill="#499F38"/>
<rect x="636.21" y="440.99" width="31.95" height="14.53" fill="#769E50"/>
<rect x="636.21" y="455.22" width="31.95" height="21.82" fill="#A29D69"/>
<rect x="636.21" y="476.74" width="31.95" height="10.15" fill="#CF9B81"/>
<rect x="636.21" y="486.59" width="31.95" height="25.84" fill="#FB9A99"/>
<rect x="636.21" y="512.13" width="31.95" height="8.44" fill="#F67E7D"/>
<rect x="636.21" y="520.28" width="31.95" height="6.22" fill="#F06161"/>
<rect x="636.21" y="526.2" width="31.95" height="25.31" fill="#EB4546"/>
<rect x="636.21" y="551.21" width="31.95" height="12.09" fill="#E6282A"/>
<rect x="636.21" y="563" width="31.95" height="7.8" fill="#E62C25"/>
<rect x="636.21" y="570.5" width="31.95" height="7.62" fill="#EC5138"/>
<rect x="636.21" y="577.82" width="31.95" height="8.67" fill="#F1764A"/>
<rect x="636.21" y="586.19" width="31.95" height="10.41" fill="#F79A5D"/>
<rect x="636.21" y="596.3" width="31.95" height="3.67" fill="#FDBF6F"/>
<rect x="671.7" y="255.66" width="31.95" height="11.71" fill="#A6CEE3"/>
<rect x="671.7" y="267.07" width="31.95" height="13.38" fill="#88BBD9"/>
<rect x="671.7" y="280.15" width="31.95" height="9.34" fill="#6AA8CE"/>
<rect x="671.7" y="289.19" width="31.95" height="20.51" fill="#4C95C4"/>
<rect x="671.7" y="309.41" width="31.95" height="9.1" fill="#2E82B9"/>
<rect x="671.7" y="318.2" width="31.95" height="20.51" fill="#2F83AF"/>
<rect x="671.7" y="338.42" width="31.95" height="22.42" fill="#509AA6"/>
<rect x="671.7" y="360.54" width="31.95" height="11.95" fill="#71B19D"/>
<rect x="671.7" y="372.19" width="31.95" height="4.1" fill="#91C893"/>
<rect x="671.7" y="375.99" width="31.95" height="18.17" fill="#B2DF8A"/>
<rect x="671.7" y="393.86" width="31.95" height="8.62" fill="#96D175"/>
<rect x="671.7" y="402.17" width="31.95" height="10.46" fill="#7AC360"/>
<rect x="671.7" y="412.34" width="31.95" height="16.01" fill="#5DB54B"/>
<rect x="671.7" y="428.05" width="31.95" height="11.08" fill="#41A736"/>
<rect x="671.7" y="438.83" width="31.95" height="16.01" fill="#499F38"/>
<rect x="671.7" y="454.54" width="31.95" height="14.69" fill="#769E50"/>
<rect x="671.7" y="468.93" width="31.95" height="22.07" fill="#A29D69"/>
<rect x="671.7" y="490.7" width="31.95" height="10.26" fill="#CF9B81"/>
<rect x="671.7" y="500.66" width="31.95" height="23.99" fill="#FB9A99"/>
<rect x="671.7" y="524.36" width="31.95" height="7.85" fill="#F67E7D"/>
<rect x="671.7" y="531.91" width="31.95" height="5.79" fill="#F06161"/>
<rect x="671.7" y="537.41" width="31.95" height="18.98" fill="#EB4546"/>
<rect x="671.7" y="556.09" width="31.95" height="9.11" fill="#E6282A"/>
<rect x="671.7" y="564.9" width="31.95" height="5.9" fill="#E62C25"/>
<rect x="671.7" y="570.5" width="31.95" height="7.62" fill="#EC5138"/>
<rect x="671.7" y="577.82" width="31.95" height="8.67" fill="#F1764A"/>
<rect x="671.7" y="586.19" width="31.95" height="10.41" fill="#F79A5D"/>
<rect x="671.7" y="596.3" width="31.95" height="9.16" fill="#FDBF6F"/>
<rect x="707.2" y="224.98" width="31.95" height="10.29" fill="#A6CEE3"/>
<rect x="707.2" y="234.97" width="31.95" height="14.57" fill="#88BBD9"/>
<rect x="707.2" y="249.24" width="31.95" height="11.48" fill="#6AA8CE"/>
<rect x="707.2" y="260.42" width="31.95" height="22.89" fill="#4C95C4"/>
<rect x="707.2" y="283.01" width="31.95" height="9.34" fill="#2E82B9"/>
<rect x="707.2" y="292.05" width="31.95" height="21.7" fill="#2F83AF"/>
<rect x="707.2" y="313.45" width="31.95" height="24.08" fill="#509AA6"/>
<rect x="707.2" y="337.23" width="31.95" height="11" fill="#71B19D"/>
<rect x="707.2" y="347.93" width="31.95" height="9.34" fill="#91C893"/>
<rect x="707.2" y="356.97" width="31.95" height="20.42" fill="#B2DF8A"/>
<rect x="707.2" y="377.09" width="31.95" height="9.67" fill="#96D175"/>
<rect x="707.2" y="386.45" width="31.95" height="11.75" fill="#7AC360"/>
<rect x="707.2" y="397.9" width="31.95" height="17.99" fill="#5DB54B"/>
<rect x="707.2" y="415.59" width="31.95" height="12.44" fill="#41A736"/>
<rect x="707.2" y="427.73" width="31.95" height="17.99" fill="#499F38"/>
<rect x="707.2" y="445.42" width="31.95" height="14.12" fill="#769E50"/>
<rect x="707.2" y="459.24" width="31.95" height="21.21" fill="#A29D69"/>
<rect x="707.2" y="480.15" width="31.95" height="9.87" fill="#CF9B81"/>
<rect x="707.2" y="489.72" width="31.95" height="25" fill="#FB9A99"/>
<rect x="707.2" y="514.42" width="31.95" height="8.18" fill="#F67E7D"/>
<rect x="707.2" y="522.3" width="31.95" height="6.03" fill="#F06161"/>
<rect x="707.2" y="528.03" width="31.95" height="24.57" fill="#EB4546"/>
<rect x="707.2" y="552.3" width="31.95" height="11.74" fill="#E6282A"/>
<rect x="707.2" y="563.74" width="31.95" height="7.58" fill="#E62C25"/>
<rect x="707.2" y="571.02" width="31.95" height="7.47" fill="#EC5138"/>
<rect x="707.2" y="578.2" width="31.95" height="8.5" fill="#F1764A"/>
<rect x="707.2" y="586.39" width="31.95" height="10.21" fill="#F79A5D"/>
<rect x="707.2" y="596.3" width="31.95" height="3.67" fill="#FDBF6F"/>
<rect x="742.7" y="233.07" width="31.95" height="7.43" fill="#A6CEE3"/>
<rect x="742.7" y="240.2" width="31.95" height="13.62" fill="#88BBD9"/>
<rect x="742.7" y="253.52" width="31.95" height="10.29" fill="#6AA8CE"/>
<rect x="742.7" y="263.51" width="31.95" height="24.56" fill="#4C95C4"/>
<rect x="742.7" y="287.76" width="31.95" height="9.34" fill="#2E82B9"/>
<rect x="742.7" y="296.8" width="31.95" height="19.8" fill="#2F83AF"/>
<rect x="742.7" y="316.3" width="31.95" height="23.13" fill="#509AA6"/>
<rect x="742.7" y="339.13" width="31.95" height="11.95" fill="#71B19D"/>
<rect x="742.7" y="350.78" width="31.95" height="7.43" fill="#91C893"/>
<rect x="742.7" y="357.92" width="31.95" height="19.91" fill="#B2DF8A"/>
<rect x="742.7" y="377.52" width="31.95" height="9.43" fill="#96D175"/>
<rect x="742.7" y="386.65" width="31.95" height="11.45" fill="#7AC360"/>
<rect x="742.7" y="397.81" width="31.95" height="17.54" fill="#5DB54B"/>
<rect x="742.7" y="415.04" width="31.95" height="12.13" fill="#41A736"/>
<rect x="742.7" y="426.88" width="31.95" height="17.54" fill="#499F38"/>
<rect x="742.7" y="444.11" width="31.95" height="14.37" fill="#769E50"/>
<rect x="742.7" y="458.18" width="31.95" height="21.58" fill="#A29D69"/>
<rect x="742.7" y="479.46" width="31.95" height="10.04" fill="#CF9B81"/>
<rect x="742.7" y="489.2" width="31.95" height="25.84" fill="#FB9A99"/>
<rect x="742.7" y="514.74" width="31.95" height="8.44" fill="#F67E7D"/>
<rect x="742.7" y="522.88" width="31.95" height="6.22" fill="#F06161"/>
<rect x="742.7" y="528.81" width="31.95" height="25.01" fill="#EB4546"/>
<rect x="742.7" y="553.52" width="31.95" height="11.95" fill="#E6282A"/>
<rect x="742.7" y="565.17" width="31.95" height="7.71" fill="#E62C25"/>
<rect x="742.7" y="572.59" width="31.95" height="7.03" fill="#EC5138"/>
<rect x="742.7" y="579.32" width="31.95" height="7.99" fill="#F1764A"/>
<rect x="742.7" y="587.01" width="31.95" height="9.59" fill="#F79A5D"/>
<rect x="742.7" y="596.3" width="31.95" height="3.67" fill="#FDBF6F"/>
<rect x="778.19" y="229.74" width="31.95" height="11.48" fill="#A6CEE3"/>
<rect x="778.19" y="240.92" width="31.95" height="15.04" fill="#88BBD9"/>
<rect x="778.19" y="255.66" width="31.95" height="12.9" fill="#6AA8CE"/>
<rect x="778.19" y="268.26" width="31.95" height="22.89" fill="#4C95C4"/>
<rect x="778.19" y="290.86" width="31.95" height="9.81" fill="#2E82B9"/>
<rect x="778.19" y="300.37" width="31.95" height="22.18" fill="#2F83AF"/>
<rect x="778.19" y="322.25" width="31.95" height="24.08" fill="#509AA6"/>
<rect x="778.19" y="346.03" width="31.95" height="9.34" fill="#71B19D"/>
<rect x="778.19" y="355.07" width="31.95" height="7.91" fill="#91C893"/>
<rect x="778.19" y="362.68" width="31.95" height="20.48" fill="#B2DF8A"/>
<rect x="778.19" y="382.86" width="31.95" height="9.7" fill="#96D175"/>
<rect x="778.19" y="392.25" width="31.95" height="11.78" fill="#7AC360"/>
<rect x="778.19" y="403.74" width="31.95" height="18.05" fill="#5DB54B"/>
<rect x="778.19" y="421.48" width="31.95" height="12.48" fill="#41A736"/>
<rect x="778.19" y="433.66" width="31.95" height="18.05" fill="#499F38"/>
<rect x="778.19" y="451.41" width="31.95" height="13.47" fill="#769E50"/>
<rect x="778.19" y="464.58" width="31.95" height="20.23" fill="#A29D69"/>
<rect x="778.19" y="484.51" width="31.95" height="9.42" fill="#CF9B81"/>
<rect x="778.19" y="493.63" width="31.95" height="26.01" fill="#FB9A99"/>
<rect x="778.19" y="519.34" width="31.95" height="8.5" fill="#F67E7D"/>
<rect x="778.19" y="527.54" width="31.95" height="6.26" fill="#F06161"/>
<rect x="778.19" y="533.5" width="31.95" height="22.37" fill="#EB4546"/>
<rect x="778.19" y="555.56" width="31.95" height="10.7" fill="#E6282A"/>
<rect x="778.19" y="565.97" width="31.95" height="6.92" fill="#E62C25"/>
<rect x="778.19" y="572.59" width="31.95" height="7.03" fill="#EC5138"/>
<rect x="778.19" y="579.32" width="31.95" height="7.99" fill="#F1764A"/>
<rect x="778.19" y="587.01" width="31.95" height="9.59" fill="#F79A5D"/>
<rect x="778.19" y="596.3" width="31.95" height="3.67" fill="#FDBF6F"/>
<rect x="813.69" y="219.04" width="31.95" height="9.81" fill="#A6CEE3"/>
<rect x="813.69" y="228.55" width="31.95" height="13.38" fill="#88BBD9"/>
<rect x="813.69" y="241.63" width="31.95" height="10.76" fill="#6AA8CE"/>
<rect x="813.69" y="252.09" width="31.95" height="21.7" fill="#4C95C4"/>
<rect x="813.69" y="273.5" width="31.95" height="8.86" fill="#2E82B9"/>
<rect x="813.69" y="282.06" width="31.95" height="20.99" fill="#2F83AF"/>
<rect x="813.69" y="302.75" width="31.95" height="23.61" fill="#509AA6"/>
<rect x="813.69" y="326.05" width="31.95" height="11.48" fill="#71B19D"/>
<rect x="813.69" y="337.23" width="31.95" height="10.29" fill="#91C893"/>
<rect x="813.69" y="347.22" width="31.95" height="21.75" fill="#B2DF8A"/>
<rect x="813.69" y="368.66" width="31.95" height="10.28" fill="#96D175"/>
<rect x="813.69" y="378.65" width="31.95" height="12.5" fill="#7AC360"/>
<rect x="813.69" y="390.85" width="31.95" height="19.16" fill="#5DB54B"/>
<rect x="813.69" y="409.71" width="31.95" height="13.24" fill="#41A736"/>
<rect x="813.69" y="422.65" width="31.95" height="19.16" fill="#499F38"/>
<rect x="813.69" y="441.51" width="31.95" height="14.12" fill="#769E50"/>
<rect x="813.69" y="455.33" width="31.95" height="21.21" fill="#A29D69"/>
<rect x="813.69" y="476.24" width="31.95" height="9.87" fill="#CF9B81"/>
<rect x="813.69" y="485.81" width="31.95" height="25.17" fill="#FB9A99"/>
<rect x="813.69" y="510.68" width="31.95" height="8.23" fill="#F67E7D"/>
<rect x="813.69" y="518.61" width="31.95" height="6.07" fill="#F06161"/>
<rect x="813.69" y="524.38" width="31.95" height="26.34" fill="#EB4546"/>
<rect x="813.69" y="550.41" width="31.95" height="12.58" fill="#E6282A"/>
<rect x="813.69" y="562.69" width="31.95" height="8.11" fill="#E62C25"/>
<rect x="813.69" y="570.5" width="31.95" height="7.62" fill="#EC5138"/>
<rect x="813.69" y="577.82" width="31.95" height="8.67" fill="#F1764A"/>
<rect x="813.69" y="586.19" width="31.95" height="10.41" fill="#F79A5D"/>
<rect x="813.69" y="596.3" width="31.95" height="3.67" fill="#FDBF6F"/>
<rect x="849.19" y="233.31" width="31.95" height="9.81" fill="#A6CEE3"/>
<rect x="849.19" y="242.82" width="31.95" height="14.57" fill="#88BBD9"/>
<rect x="849.19" y="257.09" width="31.95" height="11" fill="#6AA8CE"/>
<rect x="849.19" y="267.79" width="31.95" height="22.65" fill="#4C95C4"/>
<rect x="849.19" y="290.14" width="31.95" height="9.81" fill="#2E82B9"/>
<rect x="849.19" y="299.66" width="31.95" height="21.23" fill="#2F83AF"/>
<rect x="849.19" y="320.58" width="31.95" height="24.08" fill="#509AA6"/>
<rect x="849.19" y="344.36" width="31.95" height="10.29" fill="#71B19D"/>
<rect x="849.19" y="354.35" width="31.95" height="6.96" fill="#91C893"/>
<rect x="849.19" y="361.01" width="31.95" height="20.27" fill="#B2DF8A"/>
<rect x="849.19" y="380.98" width="31.95" height="9.6" fill="#96D175"/>
<rect x="849.19" y="390.28" width="31.95" height="11.66" fill="#7AC360"/>
<rect x="849.19" y="401.64" width="31.95" height="17.86" fill="#5DB54B"/>
<rect x="849.19" y="419.2" width="31.95" height="12.35" fill="#41A736"/>
<rect x="849.19" y="431.25" width="31.95" height="17.86" fill="#499F38"/>
<rect x="849.19" y="448.81" width="31.95" height="13.88" fill="#769E50"/>
<rect x="849.19" y="462.38" width="31.95" height="20.84" fill="#A29D69"/>
<rect x="849.19" y="482.92" width="31.95" height="9.7" fill="#CF9B81"/>
<rect x="849.19" y="492.32" width="31.95" height="26.01" fill="#FB9A99"/>
<rect x="849.19" y="518.03" width="31.95" height="8.5" fill="#F67E7D"/>
<rect x="849.19" y="526.23" width="31.95" height="6.26" fill="#F06161"/>
<rect x="849.19" y="532.19" width="31.95" height="22.22" fill="#EB4546"/>
<rect x="849.19" y="554.11" width="31.95" height="10.63" fill="#E6282A"/>
<rect x="849.19" y="564.45" width="31.95" height="6.88" fill="#E62C25"/>
<rect x="849.19" y="571.02" width="31.95" height="7.47" fill="#EC5138"/>
<rect x="849.19" y="578.2" width="31.95" height="8.5" fill="#F1764A"/>
<rect x="849.19" y="586.39" width="31.95" height="10.21" fill="#F79A5D"/>
<rect x="849.19" y="596.3" width="31.95" height="3.67" fill="#FDBF6F"/>
<rect x="884.68" y="223.08" width="31.95" height="9.34" fill="#A6CEE3"/>
<rect x="884.68" y="232.12" width="31.95" height="13.38" fill="#88BBD9"/>
<rect x="884.68" y="245.2" width="31.95" height="12.19" fill="#6AA8CE"/>
<rect x="884.68" y="257.09" width="31.95" height="22.89" fill="#4C95C4"/>
<rect x="884.68" y="279.68" width="31.95" height="9.1" fill="#2E82B9"/>
<rect x="884.68" y="288.48" width="31.95" height="22.42" fill="#2F83AF"/>
<rect x="884.68" y="310.59" width="31.95" height="23.37" fill="#509AA6"/>
<rect x="884.68" y="333.66" width="31.95" height="12.67" fill="#71B19D"/>
<rect x="884.68" y="346.03" width="31.95" height="11.24" fill="#91C893"/>
<rect x="884.68" y="356.97" width="31.95" height="20.54" fill="#B2DF8A"/>
<rect x="884.68" y="377.2" width="31.95" height="9.72" fill="#96D175"/>
<rect x="884.68" y="386.62" width="31.95" height="11.81" fill="#7AC360"/>
<rect x="884.68" y="398.14" width="31.95" height="18.09" fill="#5DB54B"/>
<rect x="884.68" y="415.93" width="31.95" height="12.51" fill="#41A736"/>
<rect x="884.68" y="428.14" width="31.95" height="18.09" fill="#499F38"/>
<rect x="884.68" y="445.94" width="31.95" height="14.2" fill="#769E50"/>
<rect x="884.68" y="459.84" width="31.95" height="21.33" fill="#A29D69"/>
<rect x="884.68" y="480.87" width="31.95" height="9.93" fill="#CF9B81"/>
<rect x="884.68" y="490.5" width="31.95" height="25.84" fill="#FB9A99"/>
<rect x="884.68" y="516.04" width="31.95" height="8.44" fill="#F67E7D"/>
<rect x="884.68" y="524.19" width="31.95" height="6.22" fill="#F06161"/>
<rect x="884.68" y="530.11" width="31.95" height="23.1" fill="#EB4546"/>
<rect x="884.68" y="552.91" width="31.95" height="11.05" fill="#E6282A"/>
<rect x="884.68" y="563.66" width="31.95" height="7.14" fill="#E62C25"/>
<rect x="884.68" y="570.5" width="31.95" height="7.62" fill="#EC5138"/>
<rect x="884.68" y="577.82" width="31.95" height="8.67" fill="#F1764A"/>
<rect x="884.68" y="586.19" width="31.95" height="10.41" fill="#F79A5D"/>
<rect x="884.68" y="596.3" width="31.95" height="3.67" fill="#FDBF6F"/>
<rect x="920.18" y="226.17" width="31.95" height="8.39" fill="#A6CEE3"/>
<rect x="920.18" y="234.26" width="31.95" height="12.9" fill="#88BBD9"/>
<rect x="920.18" y="246.86" width="31.95" height="11" fill="#6AA8CE"/>
<rect x="920.18" y="257.56" width="31.95" height="22.42" fill="#4C95C4"/>
<rect x="920.18" y="279.68" width="31.95" height="9.81" fill="#2E82B9"/>
<rect x="920.18" y="289.19" width="31.95" height="21.7" fill="#2F83AF"/>
<rect x="920.18" y="310.59" width="31.95" height="23.84" fill="#509AA6"/>
<rect x="920.18" y="334.14" width="31.95" height="10.05" fill="#71B19D"/>
<rect x="920.18" y="343.89" width="31.95" height="7.2" fill="#91C893"/>
<rect x="920.18" y="350.78" width="31.95" height="21.23" fill="#B2DF8A"/>
<rect x="920.18" y="371.72" width="31.95" height="10.04" fill="#96D175"/>
<rect x="920.18" y="381.46" width="31.95" height="12.21" fill="#7AC360"/>
<rect x="920.18" y="393.37" width="31.95" height="18.71" fill="#5DB54B"/>
<rect x="920.18" y="411.78" width="31.95" height="12.93" fill="#41A736"/>
<rect x="920.18" y="424.41" width="31.95" height="18.71" fill="#499F38"/>
<rect x="920.18" y="442.81" width="31.95" height="14.12" fill="#769E50"/>
<rect x="920.18" y="456.63" width="31.95" height="21.21" fill="#A29D69"/>
<rect x="920.18" y="477.54" width="31.95" height="9.87" fill="#CF9B81"/>
<rect x="920.18" y="487.11" width="31.95" height="26.35" fill="#FB9A99"/>
<rect x="920.18" y="513.16" width="31.95" height="8.6" fill="#F67E7D"/>
<rect x="920.18" y="521.46" width="31.95" height="6.34" fill="#F06161"/>
<rect x="920.18" y="527.5" width="31.95" height="24.28" fill="#EB4546"/>
<rect x="920.18" y="551.48" width="31.95" height="11.6" fill="#E6282A"/>
<rect x="920.18" y="562.79" width="31.95" height="7.49" fill="#E62C25"/>
<rect x="920.18" y="569.98" width="31.95" height="7.77" fill="#EC5138"/>
<rect x="920.18" y="577.45" width="31.95" height="8.84" fill="#F1764A"/>
<rect x="920.18" y="585.99" width="31.95" height="10.61" fill="#F79A5D"/>
<rect x="920.18" y="596.3" width="31.95" height="3.67" fill="#FDBF6F"/>
<rect x="955.68" y="239.25" width="31.95" height="1.01" fill="#A6CEE3"/>
<rect x="955.68" y="239.96" width="31.95" height="15.04" fill="#88BBD9"/>
<rect x="955.68" y="254.71" width="31.95" height="12.19" fill="#6AA8CE"/>
<rect x="955.68" y="266.6" width="31.95" height="22.18" fill="#4C95C4"/>
<rect x="955.68" y="288.48" width="31.95" height="11" fill="#2E82B9"/>
<rect x="955.68" y="299.18" width="31.95" height="20.99" fill="#2F83AF"/>
<rect x="955.68" y="319.87" width="31.95" height="24.32" fill="#509AA6"/>
<rect x="955.68" y="343.89" width="31.95" height="11.48" fill="#71B19D"/>
<rect x="955.68" y="355.07" width="31.95" height="7.43" fill="#91C893"/>
<rect x="955.68" y="362.2" width="31.95" height="20.24" fill="#B2DF8A"/>
<rect x="955.68" y="382.14" width="31.95" height="9.58" fill="#96D175"/>
<rect x="955.68" y="391.42" width="31.95" height="11.64" fill="#7AC360"/>
<rect x="955.68" y="402.76" width="31.95" height="17.83" fill="#5DB54B"/>
<rect x="955.68" y="420.29" width="31.95" height="12.33" fill="#41A736"/>
<rect x="955.68" y="432.32" width="31.95" height="17.83" fill="#499F38"/>
<rect x="955.68" y="449.85" width="31.95" height="13.72" fill="#769E50"/>
<rect x="955.68" y="463.26" width="31.95" height="20.59" fill="#A29D69"/>
<rect x="955.68" y="483.56" width="31.95" height="9.59" fill="#CF9B81"/>
<rect x="955.68" y="492.85" width="31.95" height="25.17" fill="#FB9A99"/>
<rect x="955.68" y="517.72" width="31.95" height="8.23" fill="#F67E7D"/>
<rect x="955.68" y="525.65" width="31.95" height="6.07" fill="#F06161"/>
<rect x="955.68" y="531.41" width="31.95" height="23.1" fill="#EB4546"/>
<rect x="955.68" y="554.21" width="31.95" height="11.05" fill="#E6282A"/>
<rect x="955.68" y="564.96" width="31.95" height="7.14" fill="#E62C25"/>
<rect x="955.68" y="571.8" width="31.95" height="7.25" fill="#EC5138"/>
<rect x="955.68" y="578.76" width="31.95" height="8.24" fill="#F1764A"/>
<rect x="955.68" y="586.7" width="31.95" height="9.9" fill="#F79A5D"/>
<rect x="955.68" y="596.3" width="31.95" height="3.67" fill="#FDBF6F"/>
<rect x="991.17" y="221.89" width="31.95" height="15.04" fill="#A6CEE3"/>
<rect x="991.17" y="236.63" width="31.95" height="14.57" fill="#88BBD9"/>
<rect x="991.17" y="250.9" width="31.95" height="12.19" fill="#6AA8CE"/>
<rect x="991.17" y="262.79" width="31.95" height="22.89" fill="#4C95C4"/>
<rect x="991.17" y="285.39" width="31.95" height="9.34" fill="#2E82B9"/>
<rect x="991.17" y="294.42" width="31.95" height="20.99" fill="#2F83AF"/>
<rect x="991.17" y="315.11" width="31.95" height="24.08" fill="#509AA6"/>
<rect x="991.17" y="338.89" width="31.95" height="10.53" fill="#71B19D"/>
<rect x="991.17" y="349.12" width="31.95" height="6.96" fill="#91C893"/>
<rect x="991.17" y="355.78" width="31.95" height="20.39" fill="#B2DF8A"/>
<rect x="991.17" y="375.87" width="31.95" height="9.65" fill="#96D175"/>
<rect x="991.17" y="385.22" width="31.95" height="11.73" fill="#7AC360"/>
<rect x="991.17" y="396.66" width="31.95" height="17.97" fill="#5DB54B"/>
<rect x="991.17" y="414.32" width="31.95" height="12.42" fill="#41A736"/>
<rect x="991.17" y="426.45" width="31.95" height="17.97" fill="#499F38"/>
<rect x="991.17" y="444.11" width="31.95" height="13.72" fill="#769E50"/>
<rect x="991.17" y="457.53" width="31.95" height="20.59" fill="#A29D69"/>
<rect x="991.17" y="477.82" width="31.95" height="9.59" fill="#CF9B81"/>
<rect x="991.17" y="487.11" width="31.95" height="26.01" fill="#FB9A99"/>
<rect x="991.17" y="512.82" width="31.95" height="8.5" fill="#F67E7D"/>
<rect x="991.17" y="521.02" width="31.95" height="6.26" fill="#F06161"/>
<rect x="991.17" y="526.98" width="31.95" height="24.57" fill="#EB4546"/>
<rect x="991.17" y="551.26" width="31.95" height="11.74" fill="#E6282A"/>
<rect x="991.17" y="562.7" width="31.95" height="7.58" fill="#E62C25"/>
<rect x="991.17" y="569.98" width="31.95" height="7.77" fill="#EC5138"/>
<rect x="991.17" y="577.45" width="31.95" height="8.84" fill="#F1764A"/>
<rect x="991.17" y="585.99" width="31.95" height="10.61" fill="#F79A5D"/>
<rect x="991.17" y="596.3" width="31.95" height="9.16" fill="#FDBF6F"/>
<rect x="1026.67" y="229.02" width="31.95" height="5.06" fill="#A6CEE3"/>
<rect x="1026.67" y="233.78" width="31.95" height="13.86" fill="#88BBD9"/>
<rect x="1026.67" y="247.34" width="31.95" height="10.53" fill="#6AA8CE"/>
<rect x="1026.67" y="257.56" width="31.95" height="24.08" fill="#4C95C4"/>
<rect x="1026.67" y="281.34" width="31.95" height="9.34" fill="#2E82B9"/>
<rect x="1026.67" y="290.38" width="31.95" height="20.99" fill="#2F83AF"/>
<rect x="1026.67" y="311.07" width="31.95" height="23.37" fill="#509AA6"/>
<rect x="1026.67" y="334.14" width="31.95" height="10.05" fill="#71B19D"/>
<rect x="1026.67" y="343.89" width="31.95" height="6.72" fill="#91C893"/>
<rect x="1026.67" y="350.31" width="31.95" height="20.45" fill="#B2DF8A"/>
<rect x="1026.67" y="370.46" width="31.95" height="9.68" fill="#96D175"/>
<rect x="1026.67" y="379.84" width="31.95" height="11.77" fill="#7AC360"/>
<rect x="1026.67" y="391.31" width="31.95" height="18.02" fill="#5DB54B"/>
<rect x="1026.67" y="409.02" width="31.95" height="12.46" fill="#41A736"/>
<rect x="1026.67" y="421.18" width="31.95" height="18.02" fill="#499F38"/>
<rect x="1026.67" y="438.9" width="31.95" height="14.37" fill="#769E50"/>
<rect x="1026.67" y="452.97" width="31.95" height="21.58" fill="#A29D69"/>
<rect x="1026.67" y="474.25" width="31.95" height="10.04" fill="#CF9B81"/>
<rect x="1026.67" y="483.99" width="31.95" height="27.52" fill="#FB9A99"/>
<rect x="1026.67" y="511.21" width="31.95" height="8.98" fill="#F67E7D"/>
<rect x="1026.67" y="519.89" width="31.95" height="6.61" fill="#F06161"/>
<rect x="1026.67" y="526.2" width="31.95" height="25.31" fill="#EB4546"/>
<rect x="1026.67" y="551.21" width="31.95" height="12.09" fill="#E6282A"/>
<rect x="1026.67" y="563" width="31.95" height="7.8" fill="#E62C25"/>
<rect x="1026.67" y="570.5" width="31.95" height="7.62" fill="#EC5138"/>
<rect x="1026.67" y="577.82" width="31.95" height="8.67" fill="#F1764A"/>
<rect x="1026.67" y="586.19" width="31.95" height="10.41" fill="#F79A5D"/>
<rect x="1026.67" y="596.3" width="31.95" height="3.67" fill="#FDBF6F"/>
<rect x="1062.17" y="223.08" width="31.95" height="11.71" fill="#A6CEE3"/>
<rect x="1062.17" y="234.49" width="31.95" height="15.04" fill="#88BBD9"/>
<rect x="1062.17" y="249.24" width="31.95" height="12.9" fill="#6AA8CE"/>
<rect x="1062.17" y="261.84" width="31.95" height="22.65" fill="#4C95C4"/>
<rect x="1062.17" y="284.2" width="31.95" height="9.81" fill="#2E82B9"/>
<rect x="1062.17" y="293.71" width="31.95" height="21.94" fill="#2F83AF"/>
<rect x="1062.17" y="315.35" width="31.95" height="24.08" fill="#509AA6"/>
<rect x="1062.17" y="339.13" width="31.95" height="11" fill="#71B19D"/>
<rect x="1062.17" y="349.83" width="31.95" height="8.39" fill="#91C893"/>
<rect x="1062.17" y="357.92" width="31.95" height="21.21" fill="#B2DF8A"/>
<rect x="1062.17" y="378.83" width="31.95" height="10.03" fill="#96D175"/>
<rect x="1062.17" y="388.56" width="31.95" height="12.2" fill="#7AC360"/>
<rect x="1062.17" y="400.46" width="31.95" height="18.69" fill="#5DB54B"/>
<rect x="1062.17" y="418.84" width="31.95" height="12.92" fill="#41A736"/>
<rect x="1062.17" y="431.46" width="31.95" height="18.69" fill="#499F38"/>
<rect x="1062.17" y="449.85" width="31.95" height="13.39" fill="#769E50"/>
<rect x="1062.17" y="462.94" width="31.95" height="20.1" fill="#A29D69"/>
<rect x="1062.17" y="482.74" width="31.95" height="9.36" fill="#CF9B81"/>
<rect x="1062.17" y="491.8" width="31.95" height="25" fill="#FB9A99"/>
<rect x="1062.17" y="516.51" width="31.95" height="8.18" fill="#F67E7D"/>
<rect x="1062.17" y="524.38" width="31.95" height="6.03" fill="#F06161"/>
<rect x="1062.17" y="530.11" width="31.95" height="23.84" fill="#EB4546"/>
<rect x="1062.17" y="553.65" width="31.95" height="11.4" fill="#E6282A"/>
<rect x="1062.17" y="564.74" width="31.95" height="7.36" fill="#E62C25"/>
<rect x="1062.17" y="571.8" width="31.95" height="7.25" fill="#EC5138"/>
<rect x="1062.17" y="578.76" width="31.95" height="8.24" fill="#F1764A"/>
<rect x="1062.17" y="586.7" width="31.95" height="9.9" fill="#F79A5D"/>
<rect x="1062.17" y="596.3" width="31.95" height="3.67" fill="#FDBF6F"/>
<rect x="1097.66" y="219.99" width="31.95" height="12.19" fill="#A6CEE3"/>
<rect x="1097.66" y="231.88" width="31.95" height="13.38" fill="#88BBD9"/>
<rect x="1097.66" y="244.96" width="31.95" height="11" fill="#6AA8CE"/>
<rect x="1097.66" y="255.66" width="31.95" height="23.61" fill="#4C95C4"/>
<rect x="1097.66" y="278.97" width="31.95" height="8.62" fill="#2E82B9"/>
<rect x="1097.66" y="287.29" width="31.95" height="21.7" fill="#2F83AF"/>
<rect x="1097.66" y="308.69" width="31.95" height="24.08" fill="#509AA6"/>
<rect x="1097.66" y="332.47" width="31.95" height="11" fill="#71B19D"/>
<rect x="1097.66" y="343.17" width="31.95" height="6.25" fill="#91C893"/>
<rect x="1097.66" y="349.12" width="31.95" height="21.02" fill="#B2DF8A"/>
<rect x="1097.66" y="369.84" width="31.95" height="9.94" fill="#96D175"/>
<rect x="1097.66" y="379.48" width="31.95" height="12.09" fill="#7AC360"/>
<rect x="1097.66" y="391.27" width="31.95" height="18.52" fill="#5DB54B"/>
<rect x="1097.66" y="409.49" width="31.95" height="12.8" fill="#41A736"/>
<rect x="1097.66" y="421.99" width="31.95" height="18.52" fill="#499F38"/>
<rect x="1097.66" y="440.21" width="31.95" height="14.12" fill="#769E50"/>
<rect x="1097.66" y="454.03" width="31.95" height="21.21" fill="#A29D69"/>
<rect x="1097.66" y="474.94" width="31.95" height="9.87" fill="#CF9B81"/>
<rect x="1097.66" y="484.51" width="31.95" height="26.35" fill="#FB9A99"/>
<rect x="1097.66" y="510.55" width="31.95" height="8.6" fill="#F67E7D"/>
<rect x="1097.66" y="518.86" width="31.95" height="6.34" fill="#F06161"/>
<rect x="1097.66" y="524.9" width="31.95" height="25.75" fill="#EB4546"/>
<rect x="1097.66" y="550.35" width="31.95" height="12.3" fill="#E6282A"/>
<rect x="1097.66" y="562.35" width="31.95" height="7.93" fill="#E62C25"/>
<rect x="1097.66" y="569.98" width="31.95" height="7.77" fill="#EC5138"/>
<rect x="1097.66" y="577.45" width="31.95" height="8.84" fill="#F1764A"/>
<rect x="1097.66" y="585.99" width="31.95" height="10.61" fill="#F79A5D"/>
<rect x="1097.66" y="596.3" width="31.95" height="3.67" fill="#FDBF6F"/>
<rect x="1133.16" y="220.7" width="31.95" height="13.38" fill="#A6CEE3"/>
<rect x="1133.16" y="233.78" width="31.95" height="13.38" fill="#88BBD9"/>
<rect x="1133.16" y="246.86" width="31.95" height="11" fill="#6AA8CE"/>
<rect x="1133.16" y="257.56" width="31.95" height="22.89" fill="#4C95C4"/>
<rect x="1133.16" y="280.15" width="31.95" height="8.62" fill="#2E82B9"/>
<rect x="1133.16" y="288.48" width="31.95" height="22.18" fill="#2F83AF"/>
<rect x="1133.16" y="310.36" width="31.95" height="23.61" fill="#509AA6"/>
<rect x="1133.16" y="333.66" width="31.95" height="10.53" fill="#71B19D"/>
<rect x="1133.16" y="343.89" width="31.95" height="8.39" fill="#91C893"/>
<rect x="1133.16" y="351.97" width="31.95" height="21.02" fill="#B2DF8A"/>
<rect x="1133.16" y="372.69" width="31.95" height="9.95" fill="#96D175"/>
<rect x="1133.16" y="382.34" width="31.95" height="12.09" fill="#7AC360"/>
<rect x="1133.16" y="394.13" width="31.95" height="18.52" fill="#5DB54B"/>
<rect x="1133.16" y="412.35" width="31.95" height="12.8" fill="#41A736"/>
<rect x="1133.16" y="424.85" width="31.95" height="18.52" fill="#499F38"/>
<rect x="1133.16" y="443.07" width="31.95" height="14.12" fill="#769E50"/>
<rect x="1133.16" y="456.89" width="31.95" height="21.21" fill="#A29D69"/>
<rect x="1133.16" y="477.8" width="31.95" height="9.87" fill="#CF9B81"/>
<rect x="1133.16" y="487.37" width="31.95" height="25.51" fill="#FB9A99"/>
<rect x="1133.16" y="512.58" width="31.95" height="8.34" fill="#F67E7D"/>
<rect x="1133.16" y="520.62" width="31.95" height="6.15" fill="#F06161"/>
<rect x="1133.16" y="526.46" width="31.95" height="24.87" fill="#EB4546"/>
<rect x="1133.16" y="551.03" width="31.95" height="11.88" fill="#E6282A"/>
<rect x="1133.16" y="562.61" width="31.95" height="7.67" fill="#E62C25"/>
<rect x="1133.16" y="569.98" width="31.95" height="7.77" fill="#EC5138"/>
<rect x="1133.16" y="577.45" width="31.95" height="8.84" fill="#F1764A"/>
<rect x="1133.16" y="585.99" width="31.95" height="10.61" fill="#F79A5D"/>
<rect x="1133.16" y="596.3" width="31.95" height="3.67" fill="#FDBF6F"/>
<rect x="1168.66" y="232.12" width="31.95" height="11.95" fill="#A6CEE3"/>
<rect x="1168.66" y="243.77" width="31.95" height="12.43" fill="#88BBD9"/>
<rect x="1168.66" y="255.9" width="31.95" height="11.48" fill="#6AA8CE"/>
<rect x="1168.66" y="267.07" width="31.95" height="20.99" fill="#4C95C4"/>
<rect x="1168.66" y="287.76" width="31.95" height="10.53" fill="#2E82B9"/>
<rect x="1168.66" y="297.99" width="31.95" height="20.99" fill="#2F83AF"/>
<rect x="1168.66" y="318.68" width="31.95" height="24.08" fill="#509AA6"/>
<rect x="1168.66" y="342.46" width="31.95" height="11.71" fill="#71B19D"/>
<rect x="1168.66" y="353.88" width="31.95" height="9.81" fill="#91C893"/>
<rect x="1168.66" y="363.39" width="31.95" height="19.55" fill="#B2DF8A"/>
<rect x="1168.66" y="382.64" width="31.95" height="9.26" fill="#96D175"/>
<rect x="1168.66" y="391.6" width="31.95" height="11.25" fill="#7AC360"/>
<rect x="1168.66" y="402.55" width="31.95" height="17.23" fill="#5DB54B"/>
<rect x="1168.66" y="419.48" width="31.95" height="11.92" fill="#41A736"/>
<rect x="1168.66" y="431.1" width="31.95" height="17.23" fill="#499F38"/>
<rect x="1168.66" y="448.02" width="31.95" height="13.88" fill="#769E50"/>
<rect x="1168.66" y="461.6" width="31.95" height="20.84" fill="#A29D69"/>
<rect x="1168.66" y="482.14" width="31.95" height="9.7" fill="#CF9B81"/>
<rect x="1168.66" y="491.54" width="31.95" height="25.17" fill="#FB9A99"/>
<rect x="1168.66" y="516.41" width="31.95" height="8.23" fill="#F67E7D"/>
<rect x="1168.66" y="524.34" width="31.95" height="6.07" fill="#F06161"/>
<rect x="1168.66" y="530.11" width="31.95" height="22.66" fill="#EB4546"/>
<rect x="1168.66" y="552.47" width="31.95" height="10.84" fill="#E6282A"/>
<rect x="1168.66" y="563.01" width="31.95" height="7.01" fill="#E62C25"/>
<rect x="1168.66" y="569.72" width="31.95" height="7.84" fill="#EC5138"/>
<rect x="1168.66" y="577.26" width="31.95" height="8.92" fill="#F1764A"/>
<rect x="1168.66" y="585.88" width="31.95" height="10.72" fill="#F79A5D"/>
<rect x="1168.66" y="596.3" width="31.95" height="3.67" fill="#FDBF6F"/>
<rect x="1204.15" y="239.25" width="31.95" height="6.72" fill="#A6CEE3"/>
<rect x="1204.15" y="245.67" width="31.95" height="15.04" fill="#88BBD9"/>
<rect x="1204.15" y="260.42" width="31.95" height="11.71" fill="#6AA8CE"/>
<rect x="1204.15" y="271.83" width="31.95" height="22.18" fill="#4C95C4"/>
<rect x="1204.15" y="293.71" width="31.95" height="10.05" fill="#2E82B9"/>
<rect x="1204.15" y="303.46" width="31.95" height="21.7" fill="#2F83AF"/>
<rect x="1204.15" y="324.86" width="31.95" height="24.08" fill="#509AA6"/>
<rect x="1204.15" y="348.64" width="31.95" height="11.95" fill="#71B19D"/>
<rect x="1204.15" y="360.3" width="31.95" height="7.67" fill="#91C893"/>
<rect x="1204.15" y="367.67" width="31.95" height="19.88" fill="#B2DF8A"/>
<rect x="1204.15" y="387.25" width="31.95" height="9.42" fill="#96D175"/>
<rect x="1204.15" y="396.37" width="31.95" height="11.44" fill="#7AC360"/>
<rect x="1204.15" y="407.51" width="31.95" height="17.52" fill="#5DB54B"/>
<rect x="1204.15" y="424.72" width="31.95" height="12.12" fill="#41A736"/>
<rect x="1204.15" y="436.54" width="31.95" height="17.52" fill="#499F38"/>
<rect x="1204.15" y="453.76" width="31.95" height="13.96" fill="#769E50"/>
<rect x="1204.15" y="467.42" width="31.95" height="20.96" fill="#A29D69"/>
<rect x="1204.15" y="488.08" width="31.95" height="9.76" fill="#CF9B81"/>
<rect x="1204.15" y="497.54" width="31.95" height="23.99" fill="#FB9A99"/>
<rect x="1204.15" y="521.23" width="31.95" height="7.85" fill="#F67E7D"/>
<rect x="1204.15" y="528.78" width="31.95" height="5.79" fill="#F06161"/>
<rect x="1204.15" y="534.28" width="31.95" height="22.22" fill="#EB4546"/>
<rect x="1204.15" y="556.2" width="31.95" height="10.63" fill="#E6282A"/>
<rect x="1204.15" y="566.53" width="31.95" height="6.88" fill="#E62C25"/>
<rect x="1204.15" y="573.11" width="31.95" height="6.88" fill="#EC5138"/>
<rect x="1204.15" y="579.69" width="31.95" height="7.82" fill="#F1764A"/>
<rect x="1204.15" y="587.21" width="31.95" height="9.39" fill="#F79A5D"/>
<rect x="1204.15" y="596.3" width="31.95" height="3.67" fill="#FDBF6F"/>
<rect x="1239.65" y="215.23" width="31.95" height="12.9" fill="#A6CEE3"/>
<rect x="1239.65" y="227.84" width="31.95" height="12.9" fill="#88BBD9"/>
<rect x="1239.65" y="240.44" width="31.95" height="7.91" fill="#6AA8CE"/>
<rect x="1239.65" y="248.05" width="31.95" height="25.27" fill="#4C95C4"/>
<rect x="1239.65" y="273.02" width="31.95" height="9.81" fill="#2E82B9"/>
<rect x="1239.65" y="282.53" width="31.95" height="20.51" fill="#2F83AF"/>
<rect x="1239.65" y="302.75" width="31.95" height="22.89" fill="#509AA6"/>
<rect x="1239.65" y="325.34" width="31.95" height="13.38" fill="#71B19D"/>
<rect x="1239.65" y="338.42" width="31.95" height="5.77" fill="#91C893"/>
<rect x="1239.65" y="343.89" width="31.95" height="21.73" fill="#B2DF8A"/>
<rect x="1239.65" y="365.32" width="31.95" height="10.28" fill="#96D175"/>
<rect x="1239.65" y="375.3" width="31.95" height="12.49" fill="#7AC360"/>
<rect x="1239.65" y="387.49" width="31.95" height="19.15" fill="#5DB54B"/>
<rect x="1239.65" y="406.34" width="31.95" height="13.23" fill="#41A736"/>
<rect x="1239.65" y="419.27" width="31.95" height="19.15" fill="#499F38"/>
<rect x="1239.65" y="438.12" width="31.95" height="14.93" fill="#769E50"/>
<rect x="1239.65" y="452.76" width="31.95" height="22.44" fill="#A29D69"/>
<rect x="1239.65" y="474.9" width="31.95" height="10.43" fill="#CF9B81"/>
<rect x="1239.65" y="485.03" width="31.95" height="26.85" fill="#FB9A99"/>
<rect x="1239.65" y="511.58" width="31.95" height="8.77" fill="#F67E7D"/>
<rect x="1239.65" y="520.04" width="31.95" height="6.46" fill="#F06161"/>
<rect x="1239.65" y="526.2" width="31.95" height="25.6" fill="#EB4546"/>
<rect x="1239.65" y="551.5" width="31.95" height="12.23" fill="#E6282A"/>
<rect x="1239.65" y="563.43" width="31.95" height="7.89" fill="#E62C25"/>
<rect x="1239.65" y="571.02" width="31.95" height="7.47" fill="#EC5138"/>
<rect x="1239.65" y="578.2" width="31.95" height="8.5" fill="#F1764A"/>
<rect x="1239.65" y="586.39" width="31.95" height="10.21" fill="#F79A5D"/>
<rect x="1239.65" y="596.3" width="31.95" height="9.16" fill="#FDBF6F"/>
<rect x="1275.15" y="227.84" width="31.95" height="14.09" fill="#A6CEE3"/>
<rect x="1275.15" y="241.63" width="31.95" height="13.38" fill="#88BBD9"/>
<rect x="1275.15" y="254.71" width="31.95" height="12.19" fill="#6AA8CE"/>
<rect x="1275.15" y="266.6" width="31.95" height="21.47" fill="#4C95C4"/>
<rect x="1275.15" y="287.76" width="31.95" height="9.34" fill="#2E82B9"/>
<rect x="1275.15" y="296.8" width="31.95" height="22.18" fill="#2F83AF"/>
<rect x="1275.15" y="318.68" width="31.95" height="24.08" fill="#509AA6"/>
<rect x="1275.15" y="342.46" width="31.95" height="11" fill="#71B19D"/>
<rect x="1275.15" y="353.16" width="31.95" height="9.34" fill="#91C893"/>
<rect x="1275.15" y="362.2" width="31.95" height="20.59" fill="#B2DF8A"/>
<rect x="1275.15" y="382.49" width="31.95" height="9.75" fill="#96D175"/>
<rect x="1275.15" y="391.94" width="31.95" height="11.85" fill="#7AC360"/>
<rect x="1275.15" y="403.48" width="31.95" height="18.14" fill="#5DB54B"/>
<rect x="1275.15" y="421.32" width="31.95" height="12.54" fill="#41A736"/>
<rect x="1275.15" y="433.57" width="31.95" height="18.14" fill="#499F38"/>
<rect x="1275.15" y="451.41" width="31.95" height="13.63" fill="#769E50"/>
<rect x="1275.15" y="464.75" width="31.95" height="20.47" fill="#A29D69"/>
<rect x="1275.15" y="484.92" width="31.95" height="9.53" fill="#CF9B81"/>
<rect x="1275.15" y="494.15" width="31.95" height="24.67" fill="#FB9A99"/>
<rect x="1275.15" y="518.51" width="31.95" height="8.07" fill="#F67E7D"/>
<rect x="1275.15" y="526.28" width="31.95" height="5.95" fill="#F06161"/>
<rect x="1275.15" y="531.93" width="31.95" height="22.81" fill="#EB4546"/>
<rect x="1275.15" y="554.44" width="31.95" height="10.91" fill="#E6282A"/>
<rect x="1275.15" y="565.05" width="31.95" height="7.05" fill="#E62C25"/>
<rect x="1275.15" y="571.8" width="31.95" height="7.25" fill="#EC5138"/>
<rect x="1275.15" y="578.76" width="31.95" height="8.24" fill="#F1764A"/>
<rect x="1275.15" y="586.7" width="31.95" height="9.9" fill="#F79A5D"/>
<rect x="1275.15" y="596.3" width="31.95" height="3.67" fill="#FDBF6F"/>
<rect x="1310.65" y="219.04" width="31.95" height="13.14" fill="#A6CEE3"/>
<rect x="1310.65" y="231.88" width="31.95" height="14.09" fill="#88BBD9"/>
<rect x="1310.65" y="245.67" width="31.95" height="12.19" fill="#6AA8CE"/>
<rect x="1310.65" y="257.56" width="31.95" height="24.79" fill="#4C95C4"/>
<rect x="1310.65" y="282.06" width="31.95" height="9.1" fill="#2E82B9"/>
<rect x="1310.65" y="290.86" width="31.95" height="20.99" fill="#2F83AF"/>
<rect x="1310.65" y="311.55" width="31.95" height="23.61" fill="#509AA6"/>
<rect x="1310.65" y="334.85" width="31.95" height="10.29" fill="#71B19D"/>
<rect x="1310.65" y="344.84" width="31.95" height="6.25" fill="#91C893"/>
<rect x="1310.65" y="350.78" width="31.95" height="21.23" fill="#B2DF8A"/>
<rect x="1310.65" y="371.72" width="31.95" height="10.04" fill="#96D175"/>
<rect x="1310.65" y="381.46" width="31.95" height="12.21" fill="#7AC360"/>
<rect x="1310.65" y="393.37" width="31.95" height="18.71" fill="#5DB54B"/>
<rect x="1310.65" y="411.78" width="31.95" height="12.93" fill="#41A736"/>
<rect x="1310.65" y="424.41" width="31.95" height="18.71" fill="#499F38"/>
<rect x="1310.65" y="442.81" width="31.95" height="14.12" fill="#769E50"/>
<rect x="1310.65" y="456.63" width="31.95" height="21.21" fill="#A29D69"/>
<rect x="1310.65" y="477.54" width="31.95" height="9.87" fill="#CF9B81"/>
<rect x="1310.65" y="487.11" width="31.95" height="25.51" fill="#FB9A99"/>
<rect x="1310.65" y="512.32" width="31.95" height="8.34" fill="#F67E7D"/>
<rect x="1310.65" y="520.36" width="31.95" height="6.15" fill="#F06161"/>
<rect x="1310.65" y="526.2" width="31.95" height="27.96" fill="#EB4546"/>
<rect x="1310.65" y="553.86" width="31.95" height="13.34" fill="#E6282A"/>
<rect x="1310.65" y="566.9" width="31.95" height="8.6" fill="#E62C25"/>
<rect x="1310.65" y="575.19" width="31.95" height="6.29" fill="#EC5138"/>
<rect x="1310.65" y="581.18" width="31.95" height="7.15" fill="#F1764A"/>
<rect x="1310.65" y="588.03" width="31.95" height="8.57" fill="#F79A5D"/>
<rect x="1310.65" y="596.3" width="31.95" height="3.67" fill="#FDBF6F"/>
<rect x="1346.14" y="230.69" width="31.95" height="6.96" fill="#A6CEE3"/>
<rect x="1346.14" y="237.35" width="31.95" height="12.9" fill="#88BBD9"/>
<rect x="1346.14" y="249.95" width="31.95" height="9.57" fill="#6AA8CE"/>
<rect x="1346.14" y="259.23" width="31.95" height="24.08" fill="#4C95C4"/>
<rect x="1346.14" y="283.01" width="31.95" height="10.53" fill="#2E82B9"/>
<rect x="1346.14" y="293.23" width="31.95" height="20.99" fill="#2F83AF"/>
<rect x="1346.14" y="313.92" width="31.95" height="23.61" fill="#509AA6"/>
<rect x="1346.14" y="337.23" width="31.95" height="13.38" fill="#71B19D"/>
<rect x="1346.14" y="350.31" width="31.95" height="7.43" fill="#91C893"/>
<rect x="1346.14" y="357.44" width="31.95" height="21.2" fill="#B2DF8A"/>
<rect x="1346.14" y="378.34" width="31.95" height="10.03" fill="#96D175"/>
<rect x="1346.14" y="388.07" width="31.95" height="12.19" fill="#7AC360"/>
<rect x="1346.14" y="399.96" width="31.95" height="18.68" fill="#5DB54B"/>
<rect x="1346.14" y="418.34" width="31.95" height="12.91" fill="#41A736"/>
<rect x="1346.14" y="430.95" width="31.95" height="18.68" fill="#499F38"/>
<rect x="1346.14" y="449.33" width="31.95" height="13.72" fill="#769E50"/>
<rect x="1346.14" y="462.74" width="31.95" height="20.59" fill="#A29D69"/>
<rect x="1346.14" y="483.04" width="31.95" height="9.59" fill="#CF9B81"/>
<rect x="1346.14" y="492.32" width="31.95" height="25" fill="#FB9A99"/>
<rect x="1346.14" y="517.03" width="31.95" height="8.18" fill="#F67E7D"/>
<rect x="1346.14" y="524.9" width="31.95" height="6.03" fill="#F06161"/>
<rect x="1346.14" y="530.63" width="31.95" height="24.28" fill="#EB4546"/>
<rect x="1346.14" y="554.61" width="31.95" height="11.6" fill="#E6282A"/>
<rect x="1346.14" y="565.91" width="31.95" height="7.49" fill="#E62C25"/>
<rect x="1346.14" y="573.11" width="31.95" height="6.88" fill="#EC5138"/>
<rect x="1346.14" y="579.69" width="31.95" height="7.82" fill="#F1764A"/>
<rect x="1346.14" y="587.21" width="31.95" height="9.39" fill="#F79A5D"/>
<rect x="1346.14" y="596.3" width="31.95" height="3.67" fill="#FDBF6F"/>
<rect x="1381.64" y="207.15" width="31.95" height="17.42" fill="#A6CEE3"/>
<rect x="1381.64" y="224.27" width="31.95" height="14.09" fill="#88BBD9"/>
<rect x="1381.64" y="238.06" width="31.95" height="12.19" fill="#6AA8CE"/>
<rect x="1381.64" y="249.95" width="31.95" height="21.47" fill="#4C95C4"/>
<rect x="1381.64" y="271.12" width="31.95" height="9.34" fill="#2E82B9"/>
<rect x="1381.64" y="280.15" width="31.95" height="22.18" fill="#2F83AF"/>
<rect x="1381.64" y="302.03" width="31.95" height="24.08" fill="#509AA6"/>
<rect x="1381.64" y="325.81" width="31.95" height="12.9" fill="#71B19D"/>
<rect x="1381.64" y="338.42" width="31.95" height="9.81" fill="#91C893"/>
<rect x="1381.64" y="347.93" width="31.95" height="22.06" fill="#B2DF8A"/>
<rect x="1381.64" y="369.69" width="31.95" height="10.43" fill="#96D175"/>
<rect x="1381.64" y="379.82" width="31.95" height="12.68" fill="#7AC360"/>
<rect x="1381.64" y="392.2" width="31.95" height="19.43" fill="#5DB54B"/>
<rect x="1381.64" y="411.33" width="31.95" height="13.43" fill="#41A736"/>
<rect x="1381.64" y="424.46" width="31.95" height="19.43" fill="#499F38"/>
<rect x="1381.64" y="443.59" width="31.95" height="13.72" fill="#769E50"/>
<rect x="1381.64" y="457.01" width="31.95" height="20.59" fill="#A29D69"/>
<rect x="1381.64" y="477.3" width="31.95" height="9.59" fill="#CF9B81"/>
<rect x="1381.64" y="486.59" width="31.95" height="25.84" fill="#FB9A99"/>
<rect x="1381.64" y="512.13" width="31.95" height="8.44" fill="#F67E7D"/>
<rect x="1381.64" y="520.28" width="31.95" height="6.22" fill="#F06161"/>
<rect x="1381.64" y="526.2" width="31.95" height="26.49" fill="#EB4546"/>
<rect x="1381.64" y="552.39" width="31.95" height="12.64" fill="#E6282A"/>
<rect x="1381.64" y="564.73" width="31.95" height="8.16" fill="#E62C25"/>
<rect x="1381.64" y="572.59" width="31.95" height="7.03" fill="#EC5138"/>
<rect x="1381.64" y="579.32" width="31.95" height="7.99" fill="#F1764A"/>
<rect x="1381.64" y="587.01" width="31.95" height="9.59" fill="#F79A5D"/>
<rect x="1381.64" y="596.3" width="31.95" height="3.67" fill="#FDBF6F"/>
<rect x="1417.14" y="230.21" width="31.95" height="6.25" fill="#A6CEE3"/>
<rect x="1417.14" y="236.16" width="31.95" height="14.57" fill="#88BBD9"/>
<rect x="1417.14" y="250.43" width="31.95" height="11" fill="#6AA8CE"/>
<rect x="1417.14" y="261.13" width="31.95" height="24.08" fill="#4C95C4"/>
<rect x="1417.14" y="284.91" width="31.95" height="10.29" fill="#2E82B9"/>
<rect x="1417.14" y="294.9" width="31.95" height="21.23" fill="#2F83AF"/>
<rect x="1417.14" y="315.83" width="31.95" height="24.08" fill="#509AA6"/>
<rect x="1417.14" y="339.61" width="31.95" height="11" fill="#71B19D"/>
<rect x="1417.14" y="350.31" width="31.95" height="8.62" fill="#91C893"/>
<rect x="1417.14" y="358.63" width="31.95" height="20.81" fill="#B2DF8A"/>
<rect x="1417.14" y="379.14" width="31.95" height="9.85" fill="#96D175"/>
<rect x="1417.14" y="388.69" width="31.95" height="11.97" fill="#7AC360"/>
<rect x="1417.14" y="400.36" width="31.95" height="18.33" fill="#5DB54B"/>
<rect x="1417.14" y="418.39" width="31.95" height="12.68" fill="#41A736"/>
<rect x="1417.14" y="430.77" width="31.95" height="18.33" fill="#499F38"/>
<rect x="1417.14" y="448.81" width="31.95" height="13.63" fill="#769E50"/>
<rect x="1417.14" y="462.14" width="31.95" height="20.47" fill="#A29D69"/>
<rect x="1417.14" y="482.31" width="31.95" height="9.53" fill="#CF9B81"/>
<rect x="1417.14" y="491.54" width="31.95" height="24.33" fill="#FB9A99"/>
<rect x="1417.14" y="515.57" width="31.95" height="7.96" fill="#F67E7D"/>
<rect x="1417.14" y="523.23" width="31.95" height="5.87" fill="#F06161"/>
<rect x="1417.14" y="528.81" width="31.95" height="25.31" fill="#EB4546"/>
<rect x="1417.14" y="553.82" width="31.95" height="12.09" fill="#E6282A"/>
<rect x="1417.14" y="565.6" width="31.95" height="7.8" fill="#E62C25"/>
<rect x="1417.14" y="573.11" width="31.95" height="6.88" fill="#EC5138"/>
<rect x="1417.14" y="579.69" width="31.95" height="7.82" fill="#F1764A"/>
<rect x="1417.14" y="587.21" width="31.95" height="9.39" fill="#F79A5D"/>
<rect x="1417.14" y="596.3" width="31.95" height="3.67" fill="#FDBF6F"/>
<rect x="1452.63" y="229.5" width="31.95" height="13.38" fill="#A6CEE3"/>
<rect x="1452.63" y="242.58" width="31.95" height="14.81" fill="#88BBD9"/>
<rect x="1452.63" y="257.09" width="31.95" height="12.67" fill="#6AA8CE"/>
<rect x="1452.63" y="269.45" width="31.95" height="20.99" fill="#4C95C4"/>
<rect x="1452.63" y="290.14" width="31.95" height="10.05" fill="#2E82B9"/>
<rect x="1452.63" y="299.89" width="31.95" height="22.18" fill="#2F83AF"/>
<rect x="1452.63" y="321.77" width="31.95" height="25.27" fill="#509AA6"/>
<rect x="1452.63" y="346.74" width="31.95" height="9.34" fill="#71B19D"/>
<rect x="1452.63" y="355.78" width="31.95" height="7.43" fill="#91C893"/>
<rect x="1452.63" y="362.91" width="31.95" height="20.67" fill="#B2DF8A"/>
<rect x="1452.63" y="383.28" width="31.95" height="9.78" fill="#96D175"/>
<rect x="1452.63" y="392.76" width="31.95" height="11.89" fill="#7AC360"/>
<rect x="1452.63" y="404.35" width="31.95" height="18.21" fill="#5DB54B"/>
<rect x="1452.63" y="422.26" width="31.95" height="12.59" fill="#41A736"/>
<rect x="1452.63" y="434.55" width="31.95" height="18.21" fill="#499F38"/>
<rect x="1452.63" y="452.45" width="31.95" height="13.55" fill="#769E50"/>
<rect x="1452.63" y="465.71" width="31.95" height="20.35" fill="#A29D69"/>
<rect x="1452.63" y="485.76" width="31.95" height="9.47" fill="#CF9B81"/>
<rect x="1452.63" y="494.93" width="31.95" height="25" fill="#FB9A99"/>
<rect x="1452.63" y="519.63" width="31.95" height="8.18" fill="#F67E7D"/>
<rect x="1452.63" y="527.51" width="31.95" height="6.03" fill="#F06161"/>
<rect x="1452.63" y="533.24" width="31.95" height="23.54" fill="#EB4546"/>
<rect x="1452.63" y="556.48" width="31.95" height="11.26" fill="#E6282A"/>
<rect x="1452.63" y="567.44" width="31.95" height="7.27" fill="#E62C25"/>
<rect x="1452.63" y="574.41" width="31.95" height="6.51" fill="#EC5138"/>
<rect x="1452.63" y="580.62" width="31.95" height="7.4" fill="#F1764A"/>
<rect x="1452.63" y="587.72" width="31.95" height="8.88" fill="#F79A5D"/>
<rect x="1452.63" y="596.3" width="31.95" height="3.67" fill="#FDBF6F"/>
<rect x="1488.13" y="226.65" width="31.95" height="13.38" fill="#A6CEE3"/>
<rect x="1488.13" y="239.73" width="31.95" height="13.38" fill="#88BBD9"/>
<rect x="1488.13" y="252.81" width="31.95" height="9.34" fill="#6AA8CE"/>
<rect x="1488.13" y="261.84" width="31.95" height="23.84" fill="#4C95C4"/>
<rect x="1488.13" y="285.39" width="31.95" height="9.34" fill="#2E82B9"/>
<rect x="1488.13" y="294.42" width="31.95" height="21.7" fill="#2F83AF"/>
<rect x="1488.13" y="315.83" width="31.95" height="23.61" fill="#509AA6"/>
<rect x="1488.13" y="339.13" width="31.95" height="11.95" fill="#71B19D"/>
<rect x="1488.13" y="350.78" width="31.95" height="5.77" fill="#91C893"/>
<rect x="1488.13" y="356.25" width="31.95" height="20.28" fill="#B2DF8A"/>
<rect x="1488.13" y="376.24" width="31.95" height="9.6" fill="#96D175"/>
<rect x="1488.13" y="385.54" width="31.95" height="11.67" fill="#7AC360"/>
<rect x="1488.13" y="396.91" width="31.95" height="17.87" fill="#5DB54B"/>
<rect x="1488.13" y="414.48" width="31.95" height="12.36" fill="#41A736"/>
<rect x="1488.13" y="426.54" width="31.95" height="17.87" fill="#499F38"/>
<rect x="1488.13" y="444.11" width="31.95" height="14.53" fill="#769E50"/>
<rect x="1488.13" y="458.34" width="31.95" height="21.82" fill="#A29D69"/>
<rect x="1488.13" y="479.87" width="31.95" height="10.15" fill="#CF9B81"/>
<rect x="1488.13" y="489.72" width="31.95" height="24.67" fill="#FB9A99"/>
<rect x="1488.13" y="514.08" width="31.95" height="8.07" fill="#F67E7D"/>
<rect x="1488.13" y="521.85" width="31.95" height="5.95" fill="#F06161"/>
<rect x="1488.13" y="527.5" width="31.95" height="27.51" fill="#EB4546"/>
<rect x="1488.13" y="554.72" width="31.95" height="13.13" fill="#E6282A"/>
<rect x="1488.13" y="567.55" width="31.95" height="8.46" fill="#E62C25"/>
<rect x="1488.13" y="575.71" width="31.95" height="6.14" fill="#EC5138"/>
<rect x="1488.13" y="581.56" width="31.95" height="6.98" fill="#F1764A"/>
<rect x="1488.13" y="588.23" width="31.95" height="8.37" fill="#F79A5D"/>
<rect x="1488.13" y="596.3" width="31.95" height="3.67" fill="#FDBF6F"/>
</g>
<rect x="453.4" y="210" width="1072" height="392.3" fill="none" stroke="#444444" stroke-width="1"/>
<rect x="453.4" y="192.5" width="1072" height="17.5" fill="#D9D9D9" stroke="#444444" stroke-width="1"/>
<text class="sa" x="989.4" y="204.6" font-size="9.25" text-anchor="middle" fill="#111">Disease</text>
<g class="sa" font-size="8.9" text-anchor="end" fill="#111">
<text x="80.3" y="599.4">0.0</text>
<path d="M82.4 596.3H85.2" stroke="#333" stroke-width="1.1"/>
<text x="80.3" y="510.82">2.5</text>
<path d="M82.4 507.72H85.2" stroke="#333" stroke-width="1.1"/>
<text x="80.3" y="422.25">5.0</text>
<path d="M82.4 419.15H85.2" stroke="#333" stroke-width="1.1"/>
<text x="80.3" y="333.67">7.5</text>
<path d="M82.4 330.57H85.2" stroke="#333" stroke-width="1.1"/>
<text x="80.3" y="245.1">10.0</text>
<path d="M82.4 242H85.2" stroke="#333" stroke-width="1.1"/>
</g>
<text class="sa" font-size="11.3" text-anchor="middle" transform="translate(56.4 406) rotate(-90)" fill="#000">Relative Percent</text>
<text x="6.4" y="655.2" class="pl" textLength="47.6" lengthAdjust="spacingAndGlyphs">(B)</text>
<text class="se b" x="796.6" y="667.5" font-size="9.3" text-anchor="middle">Immune cell difference</text>
<g class="se b" font-size="9.2">
<text x="739.4" y="682.3">Group</text>
<path d="M772.8 674.6V683.4" stroke="#444" stroke-width="0.6"/><rect x="769.6" y="676" width="6.4" height="6" fill="#5B8FF0" stroke="#444" stroke-width="0.5"/><path d="M769.6 679H776" stroke="#333" stroke-width="0.7"/>
<text x="779.8" y="682.3">Control</text>
<path d="M817.9 674.6V683.4" stroke="#444" stroke-width="0.6"/><rect x="814.7" y="676" width="6.4" height="6" fill="#F8706A" stroke="#444" stroke-width="0.5"/><path d="M814.7 679H821.1" stroke="#333" stroke-width="0.7"/>
<text x="824.8" y="682.3">Disease</text>
</g>
<rect x="70.5" y="691.8" width="1452.2" height="232.1" fill="#FFFFFF" stroke="#A8A8A8" stroke-width="1.25"/>
<g class="se b" font-size="8.9" text-anchor="end">
<text x="67.4" y="918.3">0.0</text>
<path d="M68.7 915.1H70.5" stroke="#555" stroke-width="0.8"/>
<text x="67.4" y="866.8">0.2</text>
<path d="M68.7 863.6H70.5" stroke="#555" stroke-width="0.8"/>
<text x="67.4" y="815.3">0.4</text>
<path d="M68.7 812.1H70.5" stroke="#555" stroke-width="0.8"/>
<text x="67.4" y="763.8">0.6</text>
<path d="M68.7 760.6H70.5" stroke="#555" stroke-width="0.8"/>
<text x="67.4" y="712.3">0.8</text>
<path d="M68.7 709.1H70.5" stroke="#555" stroke-width="0.8"/>
</g>
<text class="se b" font-size="8.4" text-anchor="middle" transform="translate(54.0 808.5) rotate(-90)">ssGSEA score</text>
<path d="M109.75 923.9V926.5" stroke="#555" stroke-width="0.8"/>
<text class="se b" x="109.75" y="701.9" font-size="5.6" text-anchor="middle" stroke="#111" stroke-width="0.15">**</text>
<path d="M95.15 832.96V839.14M95.15 858.71V875.45M86.95 832.96H103.35M86.95 875.45H103.35" stroke="#333" stroke-width="1.1" fill="none"/>
<rect x="86.95" y="839.14" width="16.4" height="19.57" fill="#5B8FF0" stroke="#333" stroke-width="0.8"/>
<path d="M86.95 851.5H103.35" stroke="#222" stroke-width="1.5"/>
<path d="M124.35 825.75V829.35M124.35 839.91V849.44M116.15 825.75H132.55M116.15 849.44H132.55" stroke="#333" stroke-width="1.1" fill="none"/>
<rect x="116.15" y="829.35" width="16.4" height="10.56" fill="#F8706A" stroke="#333" stroke-width="0.8"/>
<path d="M116.15 836.05H132.55" stroke="#222" stroke-width="1.5"/>
<path d="M175.16 923.9V926.5" stroke="#555" stroke-width="0.8"/>
<text class="se b" x="175.16" y="701.9" font-size="5.6" text-anchor="middle" stroke="#111" stroke-width="0.15">*</text>
<path d="M160.56 833.99V840.17M160.56 844.8V845.83M152.36 833.99H168.76M152.36 845.83H168.76" stroke="#333" stroke-width="1.1" fill="none"/>
<rect x="152.36" y="840.17" width="16.4" height="4.63" fill="#5B8FF0" stroke="#333" stroke-width="0.8"/>
<path d="M152.36 843.77H168.76" stroke="#222" stroke-width="1.5"/>
<path d="M189.76 837.85V843.26M189.76 848.41V853.56M181.56 837.85H197.96M181.56 853.56H197.96" stroke="#333" stroke-width="1.1" fill="none"/>
<rect x="181.56" y="843.26" width="16.4" height="5.15" fill="#F8706A" stroke="#333" stroke-width="0.8"/>
<path d="M181.56 845.83H197.96" stroke="#222" stroke-width="1.5"/>
<path d="M240.58 923.9V926.5" stroke="#555" stroke-width="0.8"/>
<text class="se b" x="240.58" y="701.9" font-size="5.6" text-anchor="middle" stroke="#111" stroke-width="0.15">*</text>
<path d="M225.98 763.18V765.24M225.98 773.73V784.55M217.78 763.18H234.18M217.78 784.55H234.18" stroke="#333" stroke-width="1.1" fill="none"/>
<rect x="217.78" y="765.24" width="16.4" height="8.5" fill="#5B8FF0" stroke="#333" stroke-width="0.8"/>
<path d="M217.78 769.36H234.18" stroke="#222" stroke-width="1.5"/>
<path d="M255.18 753.39V759.83M255.18 766.27V772.19M246.98 753.39H263.38M246.98 772.19H263.38" stroke="#333" stroke-width="1.1" fill="none"/>
<rect x="246.98" y="759.83" width="16.4" height="6.44" fill="#F8706A" stroke="#333" stroke-width="0.8"/>
<path d="M246.98 761.63H263.38" stroke="#222" stroke-width="1.5"/>
<path d="M305.99 923.9V926.5" stroke="#555" stroke-width="0.8"/>
<text class="se b" x="305.99" y="701.9" font-size="5.6" text-anchor="middle" stroke="#111" stroke-width="0.15">****</text>
<path d="M291.39 742.83V748.24M291.39 757.25V759.06M283.19 742.83H299.59M283.19 759.06H299.59" stroke="#333" stroke-width="1.1" fill="none"/>
<rect x="283.19" y="748.24" width="16.4" height="9.01" fill="#5B8FF0" stroke="#333" stroke-width="0.8"/>
<path d="M283.19 754.68H299.59" stroke="#222" stroke-width="1.5"/>
<path d="M320.59 736.91V741.55M320.59 745.15V749.53M312.39 736.91H328.79M312.39 749.53H328.79" stroke="#333" stroke-width="1.1" fill="none"/>
<rect x="312.39" y="741.55" width="16.4" height="3.6" fill="#F8706A" stroke="#333" stroke-width="0.8"/>
<path d="M312.39 743.09H328.79" stroke="#222" stroke-width="1.5"/>
<path d="M371.41 923.9V926.5" stroke="#555" stroke-width="0.8"/>
<text class="se b" x="371.41" y="701.9" font-size="5.6" text-anchor="middle" stroke="#111" stroke-width="0.15">*</text>
<path d="M356.81 825.23V839.14M356.81 852.53V864.12M348.61 825.23H365.01M348.61 864.12H365.01" stroke="#333" stroke-width="1.1" fill="none"/>
<rect x="348.61" y="839.14" width="16.4" height="13.39" fill="#5B8FF0" stroke="#333" stroke-width="0.8"/>
<path d="M348.61 849.44H365.01" stroke="#222" stroke-width="1.5"/>
<path d="M386.01 819.05V831.41M386.01 841.2V851.75M377.81 819.05H394.21M377.81 851.75H394.21" stroke="#333" stroke-width="1.1" fill="none"/>
<rect x="377.81" y="831.41" width="16.4" height="9.78" fill="#F8706A" stroke="#333" stroke-width="0.8"/>
<path d="M377.81 836.05H394.21" stroke="#222" stroke-width="1.5"/>
<path d="M436.82 923.9V926.5" stroke="#555" stroke-width="0.8"/>
<text class="se b" x="436.82" y="701.9" font-size="5.6" text-anchor="middle" stroke="#111" stroke-width="0.15">*</text>
<path d="M422.22 839.14V863.09M422.22 880.34V886.52M414.02 839.14H430.42M414.02 886.52H430.42" stroke="#333" stroke-width="1.1" fill="none"/>
<rect x="414.02" y="863.09" width="16.4" height="17.25" fill="#5B8FF0" stroke="#333" stroke-width="0.8"/>
<path d="M414.02 870.3H430.42" stroke="#222" stroke-width="1.5"/>
<path d="M451.42 836.56V849.95M451.42 867.21V886.52M443.22 836.56H459.62M443.22 886.52H459.62" stroke="#333" stroke-width="1.1" fill="none"/>
<rect x="443.22" y="849.95" width="16.4" height="17.25" fill="#F8706A" stroke="#333" stroke-width="0.8"/>
<path d="M443.22 858.45H459.62" stroke="#222" stroke-width="1.5"/>
<path d="M502.24 923.9V926.5" stroke="#555" stroke-width="0.8"/>
<text class="se b" x="502.24" y="701.9" font-size="5.6" text-anchor="middle" stroke="#111" stroke-width="0.15">**</text>
<path d="M487.64 762.92V774.76M487.64 787.38V799.74M479.44 762.92H495.84M479.44 799.74H495.84" stroke="#333" stroke-width="1.1" fill="none"/>
<rect x="479.44" y="774.76" width="16.4" height="12.62" fill="#5B8FF0" stroke="#333" stroke-width="0.8"/>
<path d="M479.44 783.26H495.84" stroke="#222" stroke-width="1.5"/>
<path d="M516.84 762.4V766.27M516.84 771.67V779.14M508.64 762.4H525.04M508.64 779.14H525.04" stroke="#333" stroke-width="1.1" fill="none"/>
<rect x="508.64" y="766.27" width="16.4" height="5.41" fill="#F8706A" stroke="#333" stroke-width="0.8"/>
<path d="M508.64 769.1H525.04" stroke="#222" stroke-width="1.5"/>
<path d="M567.65 923.9V926.5" stroke="#555" stroke-width="0.8"/>
<text class="se b" x="567.65" y="701.9" font-size="5.6" text-anchor="middle" stroke="#111" stroke-width="0.15">***</text>
<path d="M553.05 844.55V851.24M553.05 868.75V886.77M544.85 844.55H561.25M544.85 886.77H561.25" stroke="#333" stroke-width="1.1" fill="none"/>
<rect x="544.85" y="851.24" width="16.4" height="17.51" fill="#5B8FF0" stroke="#333" stroke-width="0.8"/>
<path d="M544.85 858.71H561.25" stroke="#222" stroke-width="1.5"/>
<path d="M582.25 833.73V841.71M582.25 848.15V858.19M574.05 833.73H590.45M574.05 858.19H590.45" stroke="#333" stroke-width="1.1" fill="none"/>
<rect x="574.05" y="841.71" width="16.4" height="6.44" fill="#F8706A" stroke="#333" stroke-width="0.8"/>
<path d="M574.05 844.8H590.45" stroke="#222" stroke-width="1.5"/>
<path d="M633.06 923.9V926.5" stroke="#555" stroke-width="0.8"/>
<text class="se b" x="633.06" y="701.9" font-size="5.6" text-anchor="middle" stroke="#111" stroke-width="0.15">***</text>
<path d="M618.46 830.9V842.23M618.46 852.53V867.72M610.26 830.9H626.66M610.26 867.72H626.66" stroke="#333" stroke-width="1.1" fill="none"/>
<rect x="610.26" y="842.23" width="16.4" height="10.3" fill="#5B8FF0" stroke="#333" stroke-width="0.8"/>
<path d="M610.26 848.15H626.66" stroke="#222" stroke-width="1.5"/>
<path d="M647.66 825.23V831.41M647.66 837.34V845.06M639.46 825.23H655.86M639.46 845.06H655.86" stroke="#333" stroke-width="1.1" fill="none"/>
<rect x="639.46" y="831.41" width="16.4" height="5.92" fill="#F8706A" stroke="#333" stroke-width="0.8"/>
<path d="M639.46 834.5H655.86" stroke="#222" stroke-width="1.5"/>
<path d="M698.48 923.9V926.5" stroke="#555" stroke-width="0.8"/>
<text class="se b" x="698.48" y="701.9" font-size="5.6" text-anchor="middle" stroke="#111" stroke-width="0.15">***</text>
<path d="M683.88 778.88V784.29M683.88 806.69V820.34M675.68 778.88H692.08M675.68 820.34H692.08" stroke="#333" stroke-width="1.1" fill="none"/>
<rect x="675.68" y="784.29" width="16.4" height="22.4" fill="#5B8FF0" stroke="#333" stroke-width="0.8"/>
<path d="M675.68 801.29H692.08" stroke="#222" stroke-width="1.5"/>
<path d="M713.08 757.25V773.48M713.08 784.55V795.36M704.88 757.25H721.28M704.88 795.36H721.28" stroke="#333" stroke-width="1.1" fill="none"/>
<rect x="704.88" y="773.48" width="16.4" height="11.07" fill="#F8706A" stroke="#333" stroke-width="0.8"/>
<path d="M704.88 779.14H721.28" stroke="#222" stroke-width="1.5"/>
<path d="M763.89 923.9V926.5" stroke="#555" stroke-width="0.8"/>
<text class="se b" x="763.89" y="701.9" font-size="5.6" text-anchor="middle" stroke="#111" stroke-width="0.15">**</text>
<path d="M749.29 820.6V831.67M749.29 846.86V862.06M741.09 820.6H757.49M741.09 862.06H757.49" stroke="#333" stroke-width="1.1" fill="none"/>
<rect x="741.09" y="831.67" width="16.4" height="15.19" fill="#5B8FF0" stroke="#333" stroke-width="0.8"/>
<path d="M741.09 838.62H757.49" stroke="#222" stroke-width="1.5"/>
<path d="M778.49 816.74V823.17M778.49 829.1V835.53M770.29 816.74H786.69M770.29 835.53H786.69" stroke="#333" stroke-width="1.1" fill="none"/>
<rect x="770.29" y="823.17" width="16.4" height="5.92" fill="#F8706A" stroke="#333" stroke-width="0.8"/>
<path d="M770.29 826.26H786.69" stroke="#222" stroke-width="1.5"/>
<path d="M829.31 923.9V926.5" stroke="#555" stroke-width="0.8"/>
<text class="se b" x="829.31" y="701.9" font-size="5.6" text-anchor="middle" stroke="#111" stroke-width="0.15">**</text>
<path d="M814.71 785.84V791.76M814.71 810.56V816.22M806.51 785.84H822.91M806.51 816.22H822.91" stroke="#333" stroke-width="1.1" fill="none"/>
<rect x="806.51" y="791.76" width="16.4" height="18.8" fill="#5B8FF0" stroke="#333" stroke-width="0.8"/>
<path d="M806.51 800.25H822.91" stroke="#222" stroke-width="1.5"/>
<path d="M843.91 775.54V785.06M843.91 793.56V803.35M835.71 775.54H852.11M835.71 803.35H852.11" stroke="#333" stroke-width="1.1" fill="none"/>
<rect x="835.71" y="785.06" width="16.4" height="8.5" fill="#F8706A" stroke="#333" stroke-width="0.8"/>
<path d="M835.71 788.41H852.11" stroke="#222" stroke-width="1.5"/>
<path d="M894.72 923.9V926.5" stroke="#555" stroke-width="0.8"/>
<text class="se b" x="894.72" y="701.9" font-size="5.6" text-anchor="middle" stroke="#111" stroke-width="0.15">****</text>
<path d="M880.12 764.21V774.25M880.12 801.29V827.81M871.92 764.21H888.32M871.92 827.81H888.32" stroke="#333" stroke-width="1.1" fill="none"/>
<rect x="871.92" y="774.25" width="16.4" height="27.04" fill="#5B8FF0" stroke="#333" stroke-width="0.8"/>
<path d="M871.92 780.69H888.32" stroke="#222" stroke-width="1.5"/>
<path d="M909.32 761.37V764.21M909.32 767.55V770.13M901.12 761.37H917.52M901.12 770.13H917.52" stroke="#333" stroke-width="1.1" fill="none"/>
<rect x="901.12" y="764.21" width="16.4" height="3.35" fill="#F8706A" stroke="#333" stroke-width="0.8"/>
<path d="M901.12 766.01H917.52" stroke="#222" stroke-width="1.5"/>
<path d="M960.14 923.9V926.5" stroke="#555" stroke-width="0.8"/>
<text class="se b" x="960.14" y="701.9" font-size="5.6" text-anchor="middle" stroke="#111" stroke-width="0.15">*</text>
<path d="M945.54 838.37V847.63M945.54 856.39V858.71M937.34 838.37H953.74M937.34 858.71H953.74" stroke="#333" stroke-width="1.1" fill="none"/>
<rect x="937.34" y="847.63" width="16.4" height="8.75" fill="#5B8FF0" stroke="#333" stroke-width="0.8"/>
<path d="M937.34 852.79H953.74" stroke="#222" stroke-width="1.5"/>
<path d="M974.74 833.73V842.74M974.74 851.24V856.39M966.54 833.73H982.94M966.54 856.39H982.94" stroke="#333" stroke-width="1.1" fill="none"/>
<rect x="966.54" y="842.74" width="16.4" height="8.5" fill="#F8706A" stroke="#333" stroke-width="0.8"/>
<path d="M966.54 846.86H982.94" stroke="#222" stroke-width="1.5"/>
<path d="M1025.55 923.9V926.5" stroke="#555" stroke-width="0.8"/>
<text class="se b" x="1025.55" y="701.9" font-size="5.6" text-anchor="middle" stroke="#111" stroke-width="0.15">****</text>
<path d="M1010.95 746.7V747.73M1010.95 754.42V761.89M1002.75 746.7H1019.15M1002.75 761.89H1019.15" stroke="#333" stroke-width="1.1" fill="none"/>
<rect x="1002.75" y="747.73" width="16.4" height="6.7" fill="#5B8FF0" stroke="#333" stroke-width="0.8"/>
<path d="M1002.75 750.82H1019.15" stroke="#222" stroke-width="1.5"/>
<path d="M1040.15 734.34V737.68M1040.15 745.41V751.59M1031.95 734.34H1048.35M1031.95 751.59H1048.35" stroke="#333" stroke-width="1.1" fill="none"/>
<rect x="1031.95" y="737.68" width="16.4" height="7.73" fill="#F8706A" stroke="#333" stroke-width="0.8"/>
<path d="M1031.95 741.55H1048.35" stroke="#222" stroke-width="1.5"/>
<path d="M1090.96 923.9V926.5" stroke="#555" stroke-width="0.8"/>
<text class="se b" x="1090.96" y="701.9" font-size="5.6" text-anchor="middle" stroke="#111" stroke-width="0.15">*</text>
<path d="M1076.36 852.27V855.62M1076.36 862.57V862.57M1068.16 852.27H1084.56M1068.16 862.57H1084.56" stroke="#333" stroke-width="1.1" fill="none"/>
<rect x="1068.16" y="855.62" width="16.4" height="6.95" fill="#5B8FF0" stroke="#333" stroke-width="0.8"/>
<path d="M1068.16 856.39H1084.56" stroke="#222" stroke-width="1.5"/>
<path d="M1105.56 848.92V851.5M1105.56 856.39V863.34M1097.36 848.92H1113.76M1097.36 863.34H1113.76" stroke="#333" stroke-width="1.1" fill="none"/>
<rect x="1097.36" y="851.5" width="16.4" height="4.89" fill="#F8706A" stroke="#333" stroke-width="0.8"/>
<path d="M1097.36 854.07H1113.76" stroke="#222" stroke-width="1.5"/>
<path d="M1156.38 923.9V926.5" stroke="#555" stroke-width="0.8"/>
<text class="se b" x="1156.38" y="701.9" font-size="5.6" text-anchor="middle" stroke="#111" stroke-width="0.15">**</text>
<path d="M1141.78 865.14V874.41M1141.78 886.52V890.64M1133.58 865.14H1149.98M1133.58 890.64H1149.98" stroke="#333" stroke-width="1.1" fill="none"/>
<rect x="1133.58" y="874.41" width="16.4" height="12.1" fill="#5B8FF0" stroke="#333" stroke-width="0.8"/>
<path d="M1133.58 880.34H1149.98" stroke="#222" stroke-width="1.5"/>
<path d="M1170.98 863.6V867.21M1170.98 872.87V878.02M1162.78 863.6H1179.18M1162.78 878.02H1179.18" stroke="#333" stroke-width="1.1" fill="none"/>
<rect x="1162.78" y="867.21" width="16.4" height="5.66" fill="#F8706A" stroke="#333" stroke-width="0.8"/>
<path d="M1162.78 870.04H1179.18" stroke="#222" stroke-width="1.5"/>
<path d="M1221.79 923.9V926.5" stroke="#555" stroke-width="0.8"/>
<text class="se b" x="1221.79" y="701.9" font-size="5.6" text-anchor="middle" stroke="#111" stroke-width="0.15">**</text>
<path d="M1207.19 728.41V750.82M1207.19 814.68V857.42M1198.99 728.41H1215.39M1198.99 857.42H1215.39" stroke="#333" stroke-width="1.1" fill="none"/>
<rect x="1198.99" y="750.82" width="16.4" height="63.86" fill="#5B8FF0" stroke="#333" stroke-width="0.8"/>
<path d="M1198.99 780.94H1215.39" stroke="#222" stroke-width="1.5"/>
<path d="M1236.39 702.92V724.81M1236.39 753.39V779.65M1228.19 702.92H1244.59M1228.19 779.65H1244.59" stroke="#333" stroke-width="1.1" fill="none"/>
<rect x="1228.19" y="724.81" width="16.4" height="28.58" fill="#F8706A" stroke="#333" stroke-width="0.8"/>
<path d="M1228.19 740.51H1244.59" stroke="#222" stroke-width="1.5"/>
<path d="M1287.21 923.9V926.5" stroke="#555" stroke-width="0.8"/>
<text class="se b" x="1287.21" y="701.9" font-size="5.6" text-anchor="middle" stroke="#111" stroke-width="0.15">**</text>
<path d="M1272.61 819.57V833.73M1272.61 844.55V851.75M1264.41 819.57H1280.81M1264.41 851.75H1280.81" stroke="#333" stroke-width="1.1" fill="none"/>
<rect x="1264.41" y="833.73" width="16.4" height="10.82" fill="#5B8FF0" stroke="#333" stroke-width="0.8"/>
<path d="M1264.41 839.65H1280.81" stroke="#222" stroke-width="1.5"/>
<path d="M1301.81 823.17V827.81M1301.81 831.41V837.08M1293.61 823.17H1310.01M1293.61 837.08H1310.01" stroke="#333" stroke-width="1.1" fill="none"/>
<rect x="1293.61" y="827.81" width="16.4" height="3.61" fill="#F8706A" stroke="#333" stroke-width="0.8"/>
<path d="M1293.61 829.61H1310.01" stroke="#222" stroke-width="1.5"/>
<path d="M1352.62 923.9V926.5" stroke="#555" stroke-width="0.8"/>
<text class="se b" x="1352.62" y="701.9" font-size="5.6" text-anchor="middle" stroke="#111" stroke-width="0.15">**</text>
<path d="M1338.02 853.3V876.73M1338.02 896.3V913.81M1329.82 853.3H1346.22M1329.82 913.81H1346.22" stroke="#333" stroke-width="1.1" fill="none"/>
<rect x="1329.82" y="876.73" width="16.4" height="19.57" fill="#5B8FF0" stroke="#333" stroke-width="0.8"/>
<path d="M1329.82 885.23H1346.22" stroke="#222" stroke-width="1.5"/>
<path d="M1367.22 856.9V860M1367.22 869.01V882.65M1359.02 856.9H1375.42M1359.02 882.65H1375.42" stroke="#333" stroke-width="1.1" fill="none"/>
<rect x="1359.02" y="860" width="16.4" height="9.01" fill="#F8706A" stroke="#333" stroke-width="0.8"/>
<path d="M1359.02 864.37H1375.42" stroke="#222" stroke-width="1.5"/>
<path d="M1418.04 923.9V926.5" stroke="#555" stroke-width="0.8"/>
<text class="se b" x="1418.04" y="701.9" font-size="5.6" text-anchor="middle" stroke="#111" stroke-width="0.15">***</text>
<path d="M1403.44 869.52V873.9M1403.44 894.5V905.32M1395.24 869.52H1411.64M1395.24 905.32H1411.64" stroke="#333" stroke-width="1.1" fill="none"/>
<rect x="1395.24" y="873.9" width="16.4" height="20.6" fill="#5B8FF0" stroke="#333" stroke-width="0.8"/>
<path d="M1395.24 874.93H1411.64" stroke="#222" stroke-width="1.5"/>
<path d="M1432.64 853.56V862.57M1432.64 870.3V877.5M1424.44 853.56H1440.84M1424.44 877.5H1440.84" stroke="#333" stroke-width="1.1" fill="none"/>
<rect x="1424.44" y="862.57" width="16.4" height="7.73" fill="#F8706A" stroke="#333" stroke-width="0.8"/>
<path d="M1424.44 866.69H1440.84" stroke="#222" stroke-width="1.5"/>
<path d="M1483.45 923.9V926.5" stroke="#555" stroke-width="0.8"/>
<text class="se b" x="1483.45" y="701.9" font-size="5.6" text-anchor="middle" stroke="#111" stroke-width="0.15">*</text>
<path d="M1468.85 847.38V851.5M1468.85 861.54V867.98M1460.65 847.38H1477.05M1460.65 867.98H1477.05" stroke="#333" stroke-width="1.1" fill="none"/>
<rect x="1460.65" y="851.5" width="16.4" height="10.04" fill="#5B8FF0" stroke="#333" stroke-width="0.8"/>
<path d="M1460.65 856.39H1477.05" stroke="#222" stroke-width="1.5"/>
<path d="M1498.05 848.15V850.73M1498.05 853.3V854.85M1489.85 848.15H1506.25M1489.85 854.85H1506.25" stroke="#333" stroke-width="1.1" fill="none"/>
<rect x="1489.85" y="850.73" width="16.4" height="2.58" fill="#F8706A" stroke="#333" stroke-width="0.8"/>
<path d="M1489.85 852.01H1506.25" stroke="#222" stroke-width="1.5"/>
<g class="se b" font-size="9.4" text-anchor="end">
<text transform="translate(114.75 931.6) rotate(-45)">Activated CD8 T cell</text>
<text transform="translate(180.16 931.6) rotate(-45)">CD56bright natural killer cell</text>
<text transform="translate(245.58 931.6) rotate(-45)">CD56dim natural killer cell</text>
<text transform="translate(310.99 931.6) rotate(-45)">Central memory CD4 T cell</text>
<text transform="translate(376.41 931.6) rotate(-45)">Central memory CD8 T cell</text>
<text transform="translate(441.82 931.6) rotate(-45)">Effector memory CD4 T cell</text>
<text transform="translate(507.24 931.6) rotate(-45)">Effector memory CD8 T cell</text>
<text transform="translate(572.65 931.6) rotate(-45)">Eosinophil</text>
<text transform="translate(638.06 931.6) rotate(-45)">Gamma delta T cell</text>
<text transform="translate(703.48 931.6) rotate(-45)">Immature  B cell</text>
<text transform="translate(768.89 931.6) rotate(-45)">Immature dendritic cell</text>
<text transform="translate(834.31 931.6) rotate(-45)">Macrophage</text>
<text transform="translate(899.72 931.6) rotate(-45)">MDSC</text>
<text transform="translate(965.14 931.6) rotate(-45)">Memory B cell</text>
<text transform="translate(1030.55 931.6) rotate(-45)">Monocyte</text>
<text transform="translate(1095.96 931.6) rotate(-45)">Natural killer cell</text>
<text transform="translate(1161.38 931.6) rotate(-45)">Natural killer T cell</text>
<text transform="translate(1226.79 931.6) rotate(-45)">Neutrophil</text>
<text transform="translate(1292.21 931.6) rotate(-45)">Plasmacytoid dendritic cell</text>
<text transform="translate(1357.62 931.6) rotate(-45)">Regulatory T cell</text>
<text transform="translate(1423.04 931.6) rotate(-45)">T follicular helper cell</text>
<text transform="translate(1488.45 931.6) rotate(-45)">Type 1 T helper cell</text>
</g>
<text x="7" y="1051.2" class="pl" textLength="47.6" lengthAdjust="spacingAndGlyphs">(C)</text>
<path d="M457.7 1135.4V1851.17M457.7 1135.4H1173.47M490.24 1135.4V1851.17M457.7 1167.94H1173.47M522.77 1135.4V1851.17M457.7 1200.47H1173.47M555.3 1135.4V1851.17M457.7 1233.01H1173.47M587.84 1135.4V1851.17M457.7 1265.54H1173.47M620.38 1135.4V1851.17M457.7 1298.08H1173.47M652.91 1135.4V1851.17M457.7 1330.61H1173.47M685.44 1135.4V1851.17M457.7 1363.14H1173.47M717.98 1135.4V1851.17M457.7 1395.68H1173.47M750.51 1135.4V1851.17M457.7 1428.22H1173.47M783.05 1135.4V1851.17M457.7 1460.75H1173.47M815.59 1135.4V1851.17M457.7 1493.29H1173.47M848.12 1135.4V1851.17M457.7 1525.82H1173.47M880.65 1135.4V1851.17M457.7 1558.36H1173.47M913.19 1135.4V1851.17M457.7 1590.89H1173.47M945.72 1135.4V1851.17M457.7 1623.43H1173.47M978.26 1135.4V1851.17M457.7 1655.96H1173.47M1010.79 1135.4V1851.17M457.7 1688.49H1173.47M1043.33 1135.4V1851.17M457.7 1721.03H1173.47M1075.87 1135.4V1851.17M457.7 1753.57H1173.47M1108.4 1135.4V1851.17M457.7 1786.1H1173.47M1140.93 1135.4V1851.17M457.7 1818.63H1173.47M1173.47 1135.4V1851.17M457.7 1851.17H1173.47" stroke="#C6C6C6" stroke-width="0.85" fill="none"/>
<g class="se" font-size="14" fill="#000">
<text x="448.6" y="1155.97" text-anchor="end">Activated CD8 T cell</text>
<text x="448.6" y="1188.5" text-anchor="end">CD56bright natural killer cell</text>
<text x="448.6" y="1221.04" text-anchor="end">CD56dim natural killer cell</text>
<text x="448.6" y="1253.57" text-anchor="end">Central memory CD4 T cell</text>
<text x="448.6" y="1286.11" text-anchor="end">Central memory CD8 T cell</text>
<text x="448.6" y="1318.64" text-anchor="end">Effector memory CD4 T cell</text>
<text x="448.6" y="1351.18" text-anchor="end">Effector memory CD8 T cell</text>
<text x="448.6" y="1383.71" text-anchor="end">Eosinophil</text>
<text x="448.6" y="1416.25" text-anchor="end">Gamma delta T cell</text>
<text x="448.6" y="1448.78" text-anchor="end">Immature  B cell</text>
<text x="448.6" y="1481.32" text-anchor="end">Immature dendritic cell</text>
<text x="448.6" y="1513.85" text-anchor="end">MDSC</text>
<text x="448.6" y="1546.39" text-anchor="end">Macrophage</text>
<text x="448.6" y="1578.92" text-anchor="end">Memory B cell</text>
<text x="448.6" y="1611.46" text-anchor="end">Monocyte</text>
<text x="448.6" y="1643.99" text-anchor="end">Natural killer T cell</text>
<text x="448.6" y="1676.53" text-anchor="end">Natural killer cell</text>
<text x="448.6" y="1709.06" text-anchor="end">Neutrophil</text>
<text x="448.6" y="1741.6" text-anchor="end">Plasmacytoid dendritic cell</text>
<text x="448.6" y="1774.13" text-anchor="end">Regulatory T cell</text>
<text x="448.6" y="1806.67" text-anchor="end">T follicular helper cell</text>
<text x="448.6" y="1839.2" text-anchor="end">Type 1 T helper cell</text>
<text transform="translate(477.17 1132.2) rotate(-45)">Activated CD8 T cell</text>
<text transform="translate(509.7 1132.2) rotate(-45)">CD56bright natural killer cell</text>
<text transform="translate(542.24 1132.2) rotate(-45)">CD56dim natural killer cell</text>
<text transform="translate(574.77 1132.2) rotate(-45)">Central memory CD4 T cell</text>
<text transform="translate(607.31 1132.2) rotate(-45)">Central memory CD8 T cell</text>
<text transform="translate(639.84 1132.2) rotate(-45)">Effector memory CD4 T cell</text>
<text transform="translate(672.38 1132.2) rotate(-45)">Effector memory CD8 T cell</text>
<text transform="translate(704.91 1132.2) rotate(-45)">Eosinophil</text>
<text transform="translate(737.45 1132.2) rotate(-45)">Gamma delta T cell</text>
<text transform="translate(769.98 1132.2) rotate(-45)">Immature  B cell</text>
<text transform="translate(802.52 1132.2) rotate(-45)">Immature dendritic cell</text>
<text transform="translate(835.05 1132.2) rotate(-45)">MDSC</text>
<text transform="translate(867.59 1132.2) rotate(-45)">Macrophage</text>
<text transform="translate(900.12 1132.2) rotate(-45)">Memory B cell</text>
<text transform="translate(932.66 1132.2) rotate(-45)">Monocyte</text>
<text transform="translate(965.19 1132.2) rotate(-45)">Natural killer T cell</text>
<text transform="translate(997.73 1132.2) rotate(-45)">Natural killer cell</text>
<text transform="translate(1030.26 1132.2) rotate(-45)">Neutrophil</text>
<text transform="translate(1062.8 1132.2) rotate(-45)">Plasmacytoid dendritic cell</text>
<text transform="translate(1095.33 1132.2) rotate(-45)">Regulatory T cell</text>
<text transform="translate(1127.87 1132.2) rotate(-45)">T follicular helper cell</text>
<text transform="translate(1160.4 1132.2) rotate(-45)">Type 1 T helper cell</text>
</g>
<g class="se b" font-size="12.9" text-anchor="middle">
<text x="473.97" y="1188.6" fill="#D2D9F2">−0.12</text>
<text x="475.47" y="1221.14" fill="#E33C43">0.71</text>
<text x="506.5" y="1221.14" fill="#D2D9F2">−0.18</text>
<text x="475.47" y="1253.67" fill="#E33C43">0.79</text>
<text x="506.5" y="1253.67" fill="#D2D9F2">−0.15</text>
<text x="540.54" y="1253.67" fill="#E54248">0.70</text>
<text x="475.47" y="1286.21" fill="#F7ECEC">0.09</text>
<text x="506.5" y="1286.21" fill="#D2D9F2">−0.20</text>
<text x="540.54" y="1286.21" fill="#F7ECEC">0.07</text>
<text x="573.07" y="1286.21" fill="#F6D8DA">0.17</text>
<text x="475.47" y="1318.74" fill="#E85157">0.56</text>
<text x="506.5" y="1318.74" fill="#D2D9F2">−0.11</text>
<text x="540.54" y="1318.74" fill="#E85157">0.53</text>
<text x="573.07" y="1318.74" fill="#E85157">0.57</text>
<text x="605.61" y="1318.74" fill="#F2A0A3">0.35</text>
<text x="475.47" y="1351.28" fill="#E85157">0.56</text>
<text x="506.5" y="1351.28" fill="#EBEDF4">−0.01</text>
<text x="540.54" y="1351.28" fill="#E85157">0.59</text>
<text x="573.07" y="1351.28" fill="#E54248">0.61</text>
<text x="605.61" y="1351.28" fill="#F2A0A3">0.39</text>
<text x="638.14" y="1351.28" fill="#EE787C">0.46</text>
<text x="475.47" y="1383.81" fill="#F2A0A3">0.33</text>
<text x="506.5" y="1383.81" fill="#5579E3">−0.62</text>
<text x="540.54" y="1383.81" fill="#F2A0A3">0.34</text>
<text x="573.07" y="1383.81" fill="#F2A0A3">0.35</text>
<text x="605.61" y="1383.81" fill="#F6D8DA">0.12</text>
<text x="638.14" y="1383.81" fill="#F6D8DA">0.20</text>
<text x="670.68" y="1383.81" fill="#F4BCBD">0.23</text>
<text x="475.47" y="1416.35" fill="#EE787C">0.41</text>
<text x="506.5" y="1416.35" fill="#93A7E8">−0.37</text>
<text x="540.54" y="1416.35" fill="#EE787C">0.42</text>
<text x="573.07" y="1416.35" fill="#F2A0A3">0.38</text>
<text x="605.61" y="1416.35" fill="#EE787C">0.41</text>
<text x="638.14" y="1416.35" fill="#EE787C">0.41</text>
<text x="670.68" y="1416.35" fill="#EE787C">0.42</text>
<text x="703.21" y="1416.35" fill="#E85157">0.58</text>
<text x="475.47" y="1448.88" fill="#F2A0A3">0.36</text>
<text x="506.5" y="1448.88" fill="#7491E5">−0.44</text>
<text x="540.54" y="1448.88" fill="#EE787C">0.43</text>
<text x="573.07" y="1448.88" fill="#F2A0A3">0.40</text>
<text x="605.61" y="1448.88" fill="#F4BCBD">0.30</text>
<text x="638.14" y="1448.88" fill="#F2A0A3">0.34</text>
<text x="670.68" y="1448.88" fill="#F4BCBD">0.30</text>
<text x="703.21" y="1448.88" fill="#EE787C">0.49</text>
<text x="735.75" y="1448.88" fill="#F6D8DA">0.18</text>
<text x="475.47" y="1481.42" fill="#E54248">0.62</text>
<text x="506.5" y="1481.42" fill="#EBEDF4">−0.05</text>
<text x="540.54" y="1481.42" fill="#E85157">0.57</text>
<text x="573.07" y="1481.42" fill="#E54248">0.65</text>
<text x="605.61" y="1481.42" fill="#F6D8DA">0.19</text>
<text x="638.14" y="1481.42" fill="#E85157">0.59</text>
<text x="670.68" y="1481.42" fill="#E85157">0.57</text>
<text x="703.21" y="1481.42" fill="#E85157">0.51</text>
<text x="735.75" y="1481.42" fill="#E54248">0.70</text>
<text x="768.28" y="1481.42" fill="#F2A0A3">0.31</text>
<text x="475.47" y="1513.95" fill="#F2A0A3">0.32</text>
<text x="506.5" y="1513.95" fill="#93A7E8">−0.35</text>
<text x="540.54" y="1513.95" fill="#F4BCBD">0.21</text>
<text x="573.07" y="1513.95" fill="#F2A0A3">0.37</text>
<text x="605.61" y="1513.95" fill="#E54248">0.65</text>
<text x="638.14" y="1513.95" fill="#F2A0A3">0.31</text>
<text x="670.68" y="1513.95" fill="#EE787C">0.44</text>
<text x="703.21" y="1513.95" fill="#F2A0A3">0.40</text>
<text x="735.75" y="1513.95" fill="#E54248">0.69</text>
<text x="768.28" y="1513.95" fill="#F4BCBD">0.26</text>
<text x="800.82" y="1513.95" fill="#F2A0A3">0.34</text>
<text x="475.47" y="1546.49" fill="#F7ECEC">0.10</text>
<text x="506.5" y="1546.49" fill="#7491E5">−0.41</text>
<text x="540.54" y="1546.49" fill="#F7ECEC">0.07</text>
<text x="573.07" y="1546.49" fill="#F4BCBD">0.22</text>
<text x="605.61" y="1546.49" fill="#EE787C">0.47</text>
<text x="638.14" y="1546.49" fill="#F6D8DA">0.17</text>
<text x="670.68" y="1546.49" fill="#F4BCBD">0.26</text>
<text x="703.21" y="1546.49" fill="#E85157">0.55</text>
<text x="735.75" y="1546.49" fill="#E33C43">0.73</text>
<text x="768.28" y="1546.49" fill="#F6D8DA">0.12</text>
<text x="800.82" y="1546.49" fill="#EE787C">0.42</text>
<text x="833.35" y="1546.49" fill="#E33C43">0.72</text>
<text x="473.97" y="1579.02" fill="#B2C0ED">−0.26</text>
<text x="506.5" y="1579.02" fill="#93A7E8">−0.39</text>
<text x="539.04" y="1579.02" fill="#D2D9F2">−0.20</text>
<text x="571.57" y="1579.02" fill="#EBEDF4">−0.06</text>
<text x="605.61" y="1579.02" fill="#F4BCBD">0.22</text>
<text x="636.64" y="1579.02" fill="#D2D9F2">−0.20</text>
<text x="669.18" y="1579.02" fill="#D2D9F2">−0.18</text>
<text x="703.21" y="1579.02" fill="#F4BCBD">0.27</text>
<text x="734.25" y="1579.02" fill="#EBEDF4">−0.06</text>
<text x="768.28" y="1579.02" fill="#F4BCBD">0.22</text>
<text x="799.32" y="1579.02" fill="#B2C0ED">−0.23</text>
<text x="833.35" y="1579.02" fill="#F6D8DA">0.14</text>
<text x="865.89" y="1579.02" fill="#F6D8DA">0.17</text>
<text x="475.47" y="1611.56" fill="#F6D8DA">0.16</text>
<text x="506.5" y="1611.56" fill="#6283E4">−0.55</text>
<text x="540.54" y="1611.56" fill="#F4BCBD">0.21</text>
<text x="573.07" y="1611.56" fill="#F2A0A3">0.31</text>
<text x="605.61" y="1611.56" fill="#F2A0A3">0.35</text>
<text x="638.14" y="1611.56" fill="#F2A0A3">0.33</text>
<text x="670.68" y="1611.56" fill="#F4BCBD">0.25</text>
<text x="703.21" y="1611.56" fill="#E33C43">0.72</text>
<text x="735.75" y="1611.56" fill="#E54248">0.66</text>
<text x="768.28" y="1611.56" fill="#F2A0A3">0.37</text>
<text x="800.82" y="1611.56" fill="#EE787C">0.43</text>
<text x="833.35" y="1611.56" fill="#E33C43">0.71</text>
<text x="865.89" y="1611.56" fill="#E33C43">0.71</text>
<text x="898.42" y="1611.56" fill="#F2A0A3">0.34</text>
<text x="475.47" y="1644.09" fill="#F7ECEC">0.09</text>
<text x="506.5" y="1644.09" fill="#93A7E8">−0.32</text>
<text x="540.54" y="1644.09" fill="#F6D8DA">0.20</text>
<text x="573.07" y="1644.09" fill="#F4BCBD">0.29</text>
<text x="605.61" y="1644.09" fill="#F4BCBD">0.21</text>
<text x="638.14" y="1644.09" fill="#F7ECEC">0.09</text>
<text x="670.68" y="1644.09" fill="#F2A0A3">0.36</text>
<text x="703.21" y="1644.09" fill="#F2A0A3">0.39</text>
<text x="735.75" y="1644.09" fill="#F6D8DA">0.11</text>
<text x="768.28" y="1644.09" fill="#F2A0A3">0.31</text>
<text x="799.32" y="1644.09" fill="#EBEDF4">−0.05</text>
<text x="833.35" y="1644.09" fill="#EE787C">0.44</text>
<text x="865.89" y="1644.09" fill="#F4BCBD">0.23</text>
<text x="898.42" y="1644.09" fill="#F2A0A3">0.35</text>
<text x="930.96" y="1644.09" fill="#EE787C">0.49</text>
<text x="475.47" y="1676.63" fill="#F7ECEC">0.05</text>
<text x="506.5" y="1676.63" fill="#B2C0ED">−0.28</text>
<text x="540.54" y="1676.63" fill="#F6D8DA">0.12</text>
<text x="573.07" y="1676.63" fill="#F7ECEC">0.06</text>
<text x="605.61" y="1676.63" fill="#F4BCBD">0.26</text>
<text x="636.64" y="1676.63" fill="#EBEDF4">−0.04</text>
<text x="670.68" y="1676.63" fill="#F2A0A3">0.36</text>
<text x="703.21" y="1676.63" fill="#F2A0A3">0.38</text>
<text x="735.75" y="1676.63" fill="#EE787C">0.43</text>
<text x="768.28" y="1676.63" fill="#F6D8DA">0.14</text>
<text x="800.82" y="1676.63" fill="#F7ECEC">0.10</text>
<text x="833.35" y="1676.63" fill="#EE787C">0.49</text>
<text x="865.89" y="1676.63" fill="#E85157">0.58</text>
<text x="898.42" y="1676.63" fill="#F4BCBD">0.22</text>
<text x="930.96" y="1676.63" fill="#EE787C">0.49</text>
<text x="963.49" y="1676.63" fill="#F2A0A3">0.37</text>
<text x="475.47" y="1709.16" fill="#F7ECEC">0.06</text>
<text x="506.5" y="1709.16" fill="#5579E3">−0.67</text>
<text x="540.54" y="1709.16" fill="#F7ECEC">0.07</text>
<text x="573.07" y="1709.16" fill="#F6D8DA">0.18</text>
<text x="605.61" y="1709.16" fill="#F2A0A3">0.37</text>
<text x="638.14" y="1709.16" fill="#F6D8DA">0.16</text>
<text x="670.68" y="1709.16" fill="#F4BCBD">0.29</text>
<text x="703.21" y="1709.16" fill="#E54248">0.66</text>
<text x="735.75" y="1709.16" fill="#E85157">0.54</text>
<text x="768.28" y="1709.16" fill="#F4BCBD">0.29</text>
<text x="800.82" y="1709.16" fill="#F4BCBD">0.27</text>
<text x="833.35" y="1709.16" fill="#E85157">0.57</text>
<text x="865.89" y="1709.16" fill="#E33C43">0.78</text>
<text x="898.42" y="1709.16" fill="#F2A0A3">0.33</text>
<text x="930.96" y="1709.16" fill="#E33C43">0.75</text>
<text x="963.49" y="1709.16" fill="#EE787C">0.46</text>
<text x="996.03" y="1709.16" fill="#E85157">0.58</text>
<text x="475.47" y="1741.7" fill="#F6D8DA">0.18</text>
<text x="506.5" y="1741.7" fill="#7491E5">−0.48</text>
<text x="540.54" y="1741.7" fill="#F7ECEC">0.04</text>
<text x="573.07" y="1741.7" fill="#F6D8DA">0.18</text>
<text x="605.61" y="1741.7" fill="#E85157">0.54</text>
<text x="638.14" y="1741.7" fill="#F4BCBD">0.23</text>
<text x="670.68" y="1741.7" fill="#F2A0A3">0.33</text>
<text x="703.21" y="1741.7" fill="#F2A0A3">0.40</text>
<text x="735.75" y="1741.7" fill="#EE787C">0.49</text>
<text x="768.28" y="1741.7" fill="#F6D8DA">0.15</text>
<text x="800.82" y="1741.7" fill="#F4BCBD">0.23</text>
<text x="833.35" y="1741.7" fill="#E54248">0.63</text>
<text x="865.89" y="1741.7" fill="#E54248">0.67</text>
<text x="898.42" y="1741.7" fill="#F2A0A3">0.31</text>
<text x="930.96" y="1741.7" fill="#E85157">0.55</text>
<text x="963.49" y="1741.7" fill="#F4BCBD">0.27</text>
<text x="996.03" y="1741.7" fill="#EE787C">0.44</text>
<text x="1028.56" y="1741.7" fill="#E33C43">0.74</text>
<text x="475.47" y="1774.23" fill="#E85157">0.57</text>
<text x="506.5" y="1774.23" fill="#EBEDF4">−0.04</text>
<text x="540.54" y="1774.23" fill="#EE787C">0.44</text>
<text x="573.07" y="1774.23" fill="#E85157">0.51</text>
<text x="605.61" y="1774.23" fill="#F6D8DA">0.17</text>
<text x="638.14" y="1774.23" fill="#EE787C">0.42</text>
<text x="670.68" y="1774.23" fill="#EE787C">0.41</text>
<text x="703.21" y="1774.23" fill="#F2A0A3">0.32</text>
<text x="735.75" y="1774.23" fill="#EE787C">0.47</text>
<text x="768.28" y="1774.23" fill="#E85157">0.53</text>
<text x="800.82" y="1774.23" fill="#E54248">0.62</text>
<text x="833.35" y="1774.23" fill="#F2A0A3">0.33</text>
<text x="865.89" y="1774.23" fill="#F4BCBD">0.25</text>
<text x="896.92" y="1774.23" fill="#D2D9F2">−0.20</text>
<text x="930.96" y="1774.23" fill="#F4BCBD">0.26</text>
<text x="963.49" y="1774.23" fill="#F7ECEC">0.08</text>
<text x="996.03" y="1774.23" fill="#F7ECEC">0.01</text>
<text x="1028.56" y="1774.23" fill="#F6D8DA">0.14</text>
<text x="1061.1" y="1774.23" fill="#F6D8DA">0.17</text>
<text x="475.47" y="1806.77" fill="#E85157">0.54</text>
<text x="506.5" y="1806.77" fill="#D2D9F2">−0.18</text>
<text x="540.54" y="1806.77" fill="#E54248">0.62</text>
<text x="573.07" y="1806.77" fill="#E33C43">0.71</text>
<text x="605.61" y="1806.77" fill="#F2A0A3">0.36</text>
<text x="638.14" y="1806.77" fill="#E85157">0.56</text>
<text x="670.68" y="1806.77" fill="#E85157">0.53</text>
<text x="703.21" y="1806.77" fill="#F2A0A3">0.36</text>
<text x="735.75" y="1806.77" fill="#EE787C">0.41</text>
<text x="768.28" y="1806.77" fill="#E85157">0.60</text>
<text x="800.82" y="1806.77" fill="#E85157">0.59</text>
<text x="833.35" y="1806.77" fill="#F2A0A3">0.34</text>
<text x="865.89" y="1806.77" fill="#F6D8DA">0.20</text>
<text x="898.42" y="1806.77" fill="#F7ECEC">0.04</text>
<text x="930.96" y="1806.77" fill="#F2A0A3">0.39</text>
<text x="963.49" y="1806.77" fill="#F2A0A3">0.32</text>
<text x="994.53" y="1806.77" fill="#EBEDF4">−0.03</text>
<text x="1028.56" y="1806.77" fill="#F6D8DA">0.19</text>
<text x="1061.1" y="1806.77" fill="#F6D8DA">0.20</text>
<text x="1093.63" y="1806.77" fill="#E54248">0.67</text>
<text x="475.47" y="1839.3" fill="#F4BCBD">0.29</text>
<text x="506.5" y="1839.3" fill="#B2C0ED">−0.27</text>
<text x="540.54" y="1839.3" fill="#F4BCBD">0.29</text>
<text x="573.07" y="1839.3" fill="#F2A0A3">0.36</text>
<text x="605.61" y="1839.3" fill="#F6D8DA">0.17</text>
<text x="638.14" y="1839.3" fill="#F2A0A3">0.40</text>
<text x="670.68" y="1839.3" fill="#F2A0A3">0.37</text>
<text x="703.21" y="1839.3" fill="#F4BCBD">0.22</text>
<text x="734.25" y="1839.3" fill="#EBEDF4">−0.06</text>
<text x="768.28" y="1839.3" fill="#F4BCBD">0.30</text>
<text x="800.82" y="1839.3" fill="#F7ECEC">0.05</text>
<text x="833.35" y="1839.3" fill="#F6D8DA">0.17</text>
<text x="865.89" y="1839.3" fill="#F7ECEC">0.03</text>
<text x="898.42" y="1839.3" fill="#F4BCBD">0.27</text>
<text x="930.96" y="1839.3" fill="#F2A0A3">0.32</text>
<text x="963.49" y="1839.3" fill="#E85157">0.54</text>
<text x="996.03" y="1839.3" fill="#F6D8DA">0.16</text>
<text x="1028.56" y="1839.3" fill="#F4BCBD">0.26</text>
<text x="1061.1" y="1839.3" fill="#F4BCBD">0.22</text>
<text x="1093.63" y="1839.3" fill="#F7ECEC">0.02</text>
<text x="1126.17" y="1839.3" fill="#F2A0A3">0.37</text>
</g>
<g><circle cx="506.5" cy="1151.67" r="14" fill="#FFFFFF" stroke="#CAD3EE" stroke-width="0.9"/><circle cx="539.04" cy="1151.67" r="14" fill="#FFFFFF" stroke="#FB6461" stroke-width="0.9"/><circle cx="571.57" cy="1151.67" r="14" fill="#FFFFFF" stroke="#FB6461" stroke-width="0.9"/><circle cx="604.11" cy="1151.67" r="14" fill="#FFFFFF" stroke="#F4DCDB" stroke-width="0.9"/><circle cx="636.64" cy="1151.67" r="14" fill="#FFFFFF" stroke="#F88684" stroke-width="0.9"/><circle cx="669.18" cy="1151.67" r="14" fill="#FFFFFF" stroke="#F88684" stroke-width="0.9"/><circle cx="701.71" cy="1151.67" r="14" fill="#FFFFFF" stroke="#F7A8A7" stroke-width="0.9"/><circle cx="734.25" cy="1151.67" r="14" fill="#FFFFFF" stroke="#F79895" stroke-width="0.9"/><circle cx="766.78" cy="1151.67" r="14" fill="#FFFFFF" stroke="#F7A8A7" stroke-width="0.9"/><circle cx="799.32" cy="1151.67" r="14" fill="#FFFFFF" stroke="#FA7672" stroke-width="0.9"/><circle cx="831.85" cy="1151.67" r="14" fill="#FFFFFF" stroke="#F7A8A7" stroke-width="0.9"/><circle cx="864.39" cy="1151.67" r="14" fill="#FFFFFF" stroke="#F4DCDB" stroke-width="0.9"/><circle cx="896.92" cy="1151.67" r="14" fill="#FFFFFF" stroke="#B9C6ED" stroke-width="0.9"/><circle cx="929.46" cy="1151.67" r="14" fill="#FFFFFF" stroke="#F5CACA" stroke-width="0.9"/><circle cx="961.99" cy="1151.67" r="14" fill="#FFFFFF" stroke="#F4DCDB" stroke-width="0.9"/><circle cx="994.53" cy="1151.67" r="14" fill="#FFFFFF" stroke="#F4DCDB" stroke-width="0.9"/><circle cx="1027.06" cy="1151.67" r="14" fill="#FFFFFF" stroke="#F4DCDB" stroke-width="0.9"/><circle cx="1059.6" cy="1151.67" r="14" fill="#FFFFFF" stroke="#F5CACA" stroke-width="0.9"/><circle cx="1092.13" cy="1151.67" r="14" fill="#FFFFFF" stroke="#F88684" stroke-width="0.9"/><circle cx="1124.67" cy="1151.67" r="14" fill="#FFFFFF" stroke="#F88684" stroke-width="0.9"/><circle cx="1157.2" cy="1151.67" r="14" fill="#FFFFFF" stroke="#F6BAB8" stroke-width="0.9"/><circle cx="539.04" cy="1184.2" r="14" fill="#FFFFFF" stroke="#CAD3EE" stroke-width="0.9"/><circle cx="571.57" cy="1184.2" r="14" fill="#FFFFFF" stroke="#CAD3EE" stroke-width="0.9"/><circle cx="604.11" cy="1184.2" r="14" fill="#FFFFFF" stroke="#CAD3EE" stroke-width="0.9"/><circle cx="636.64" cy="1184.2" r="14" fill="#FFFFFF" stroke="#CAD3EE" stroke-width="0.9"/><circle cx="669.18" cy="1184.2" r="14" fill="#FFFFFF" stroke="#DCE1F0" stroke-width="0.9"/><circle cx="701.71" cy="1184.2" r="14" fill="#FFFFFF" stroke="#7591E6" stroke-width="0.9"/><circle cx="734.25" cy="1184.2" r="14" fill="#FFFFFF" stroke="#A8B9EB" stroke-width="0.9"/><circle cx="766.78" cy="1184.2" r="14" fill="#FFFFFF" stroke="#97ABE9" stroke-width="0.9"/><circle cx="799.32" cy="1184.2" r="14" fill="#FFFFFF" stroke="#DCE1F0" stroke-width="0.9"/><circle cx="831.85" cy="1184.2" r="14" fill="#FFFFFF" stroke="#A8B9EB" stroke-width="0.9"/><circle cx="864.39" cy="1184.2" r="14" fill="#FFFFFF" stroke="#97ABE9" stroke-width="0.9"/><circle cx="896.92" cy="1184.2" r="14" fill="#FFFFFF" stroke="#A8B9EB" stroke-width="0.9"/><circle cx="929.46" cy="1184.2" r="14" fill="#FFFFFF" stroke="#869EE7" stroke-width="0.9"/><circle cx="961.99" cy="1184.2" r="14" fill="#FFFFFF" stroke="#A8B9EB" stroke-width="0.9"/><circle cx="994.53" cy="1184.2" r="14" fill="#FFFFFF" stroke="#B9C6ED" stroke-width="0.9"/><circle cx="1027.06" cy="1184.2" r="14" fill="#FFFFFF" stroke="#7591E6" stroke-width="0.9"/><circle cx="1059.6" cy="1184.2" r="14" fill="#FFFFFF" stroke="#97ABE9" stroke-width="0.9"/><circle cx="1092.13" cy="1184.2" r="14" fill="#FFFFFF" stroke="#DCE1F0" stroke-width="0.9"/><circle cx="1124.67" cy="1184.2" r="14" fill="#FFFFFF" stroke="#CAD3EE" stroke-width="0.9"/><circle cx="1157.2" cy="1184.2" r="14" fill="#FFFFFF" stroke="#B9C6ED" stroke-width="0.9"/><circle cx="571.57" cy="1216.74" r="14" fill="#FFFFFF" stroke="#FA7672" stroke-width="0.9"/><circle cx="604.11" cy="1216.74" r="14" fill="#FFFFFF" stroke="#F4DCDB" stroke-width="0.9"/><circle cx="636.64" cy="1216.74" r="14" fill="#FFFFFF" stroke="#F88684" stroke-width="0.9"/><circle cx="669.18" cy="1216.74" r="14" fill="#FFFFFF" stroke="#F88684" stroke-width="0.9"/><circle cx="701.71" cy="1216.74" r="14" fill="#FFFFFF" stroke="#F7A8A7" stroke-width="0.9"/><circle cx="734.25" cy="1216.74" r="14" fill="#FFFFFF" stroke="#F79895" stroke-width="0.9"/><circle cx="766.78" cy="1216.74" r="14" fill="#FFFFFF" stroke="#F79895" stroke-width="0.9"/><circle cx="799.32" cy="1216.74" r="14" fill="#FFFFFF" stroke="#F88684" stroke-width="0.9"/><circle cx="831.85" cy="1216.74" r="14" fill="#FFFFFF" stroke="#F6BAB8" stroke-width="0.9"/><circle cx="864.39" cy="1216.74" r="14" fill="#FFFFFF" stroke="#F4DCDB" stroke-width="0.9"/><circle cx="896.92" cy="1216.74" r="14" fill="#FFFFFF" stroke="#CAD3EE" stroke-width="0.9"/><circle cx="929.46" cy="1216.74" r="14" fill="#FFFFFF" stroke="#F6BAB8" stroke-width="0.9"/><circle cx="961.99" cy="1216.74" r="14" fill="#FFFFFF" stroke="#F5CACA" stroke-width="0.9"/><circle cx="994.53" cy="1216.74" r="14" fill="#FFFFFF" stroke="#F5CACA" stroke-width="0.9"/><circle cx="1027.06" cy="1216.74" r="14" fill="#FFFFFF" stroke="#F4DCDB" stroke-width="0.9"/><circle cx="1059.6" cy="1216.74" r="14" fill="#FFFFFF" stroke="#F4DCDB" stroke-width="0.9"/><circle cx="1092.13" cy="1216.74" r="14" fill="#FFFFFF" stroke="#F79895" stroke-width="0.9"/><circle cx="1124.67" cy="1216.74" r="14" fill="#FFFFFF" stroke="#FA7672" stroke-width="0.9"/><circle cx="1157.2" cy="1216.74" r="14" fill="#FFFFFF" stroke="#F6BAB8" stroke-width="0.9"/><circle cx="604.11" cy="1249.27" r="14" fill="#FFFFFF" stroke="#F5CACA" stroke-width="0.9"/><circle cx="636.64" cy="1249.27" r="14" fill="#FFFFFF" stroke="#F88684" stroke-width="0.9"/><circle cx="669.18" cy="1249.27" r="14" fill="#FFFFFF" stroke="#FA7672" stroke-width="0.9"/><circle cx="701.71" cy="1249.27" r="14" fill="#FFFFFF" stroke="#F7A8A7" stroke-width="0.9"/><circle cx="734.25" cy="1249.27" r="14" fill="#FFFFFF" stroke="#F7A8A7" stroke-width="0.9"/><circle cx="766.78" cy="1249.27" r="14" fill="#FFFFFF" stroke="#F7A8A7" stroke-width="0.9"/><circle cx="799.32" cy="1249.27" r="14" fill="#FFFFFF" stroke="#FA7672" stroke-width="0.9"/><circle cx="831.85" cy="1249.27" r="14" fill="#FFFFFF" stroke="#F7A8A7" stroke-width="0.9"/><circle cx="864.39" cy="1249.27" r="14" fill="#FFFFFF" stroke="#F6BAB8" stroke-width="0.9"/><circle cx="896.92" cy="1249.27" r="14" fill="#FFFFFF" stroke="#DCE1F0" stroke-width="0.9"/><circle cx="929.46" cy="1249.27" r="14" fill="#FFFFFF" stroke="#F7A8A7" stroke-width="0.9"/><circle cx="961.99" cy="1249.27" r="14" fill="#FFFFFF" stroke="#F6BAB8" stroke-width="0.9"/><circle cx="994.53" cy="1249.27" r="14" fill="#FFFFFF" stroke="#F4DCDB" stroke-width="0.9"/><circle cx="1027.06" cy="1249.27" r="14" fill="#FFFFFF" stroke="#F5CACA" stroke-width="0.9"/><circle cx="1059.6" cy="1249.27" r="14" fill="#FFFFFF" stroke="#F5CACA" stroke-width="0.9"/><circle cx="1092.13" cy="1249.27" r="14" fill="#FFFFFF" stroke="#F88684" stroke-width="0.9"/><circle cx="1124.67" cy="1249.27" r="14" fill="#FFFFFF" stroke="#FB6461" stroke-width="0.9"/><circle cx="1157.2" cy="1249.27" r="14" fill="#FFFFFF" stroke="#F7A8A7" stroke-width="0.9"/><circle cx="636.64" cy="1281.81" r="14" fill="#FFFFFF" stroke="#F7A8A7" stroke-width="0.9"/><circle cx="669.18" cy="1281.81" r="14" fill="#FFFFFF" stroke="#F7A8A7" stroke-width="0.9"/><circle cx="701.71" cy="1281.81" r="14" fill="#FFFFFF" stroke="#F5CACA" stroke-width="0.9"/><circle cx="734.25" cy="1281.81" r="14" fill="#FFFFFF" stroke="#F79895" stroke-width="0.9"/><circle cx="766.78" cy="1281.81" r="14" fill="#FFFFFF" stroke="#F6BAB8" stroke-width="0.9"/><circle cx="799.32" cy="1281.81" r="14" fill="#FFFFFF" stroke="#F5CACA" stroke-width="0.9"/><circle cx="831.85" cy="1281.81" r="14" fill="#FFFFFF" stroke="#FA7672" stroke-width="0.9"/><circle cx="864.39" cy="1281.81" r="14" fill="#FFFFFF" stroke="#F79895" stroke-width="0.9"/><circle cx="896.92" cy="1281.81" r="14" fill="#FFFFFF" stroke="#F6BAB8" stroke-width="0.9"/><circle cx="929.46" cy="1281.81" r="14" fill="#FFFFFF" stroke="#F7A8A7" stroke-width="0.9"/><circle cx="961.99" cy="1281.81" r="14" fill="#FFFFFF" stroke="#F6BAB8" stroke-width="0.9"/><circle cx="994.53" cy="1281.81" r="14" fill="#FFFFFF" stroke="#F6BAB8" stroke-width="0.9"/><circle cx="1027.06" cy="1281.81" r="14" fill="#FFFFFF" stroke="#F7A8A7" stroke-width="0.9"/><circle cx="1059.6" cy="1281.81" r="14" fill="#FFFFFF" stroke="#F88684" stroke-width="0.9"/><circle cx="1092.13" cy="1281.81" r="14" fill="#FFFFFF" stroke="#F5CACA" stroke-width="0.9"/><circle cx="1124.67" cy="1281.81" r="14" fill="#FFFFFF" stroke="#F7A8A7" stroke-width="0.9"/><circle cx="1157.2" cy="1281.81" r="14" fill="#FFFFFF" stroke="#F5CACA" stroke-width="0.9"/><circle cx="669.18" cy="1314.34" r="14" fill="#FFFFFF" stroke="#F79895" stroke-width="0.9"/><circle cx="701.71" cy="1314.34" r="14" fill="#FFFFFF" stroke="#F5CACA" stroke-width="0.9"/><circle cx="734.25" cy="1314.34" r="14" fill="#FFFFFF" stroke="#F79895" stroke-width="0.9"/><circle cx="766.78" cy="1314.34" r="14" fill="#FFFFFF" stroke="#F7A8A7" stroke-width="0.9"/><circle cx="799.32" cy="1314.34" r="14" fill="#FFFFFF" stroke="#F88684" stroke-width="0.9"/><circle cx="831.85" cy="1314.34" r="14" fill="#FFFFFF" stroke="#F7A8A7" stroke-width="0.9"/><circle cx="864.39" cy="1314.34" r="14" fill="#FFFFFF" stroke="#F5CACA" stroke-width="0.9"/><circle cx="896.92" cy="1314.34" r="14" fill="#FFFFFF" stroke="#CAD3EE" stroke-width="0.9"/><circle cx="929.46" cy="1314.34" r="14" fill="#FFFFFF" stroke="#F7A8A7" stroke-width="0.9"/><circle cx="961.99" cy="1314.34" r="14" fill="#FFFFFF" stroke="#F4DCDB" stroke-width="0.9"/><circle cx="994.53" cy="1314.34" r="14" fill="#FFFFFF" stroke="#DCE1F0" stroke-width="0.9"/><circle cx="1027.06" cy="1314.34" r="14" fill="#FFFFFF" stroke="#F5CACA" stroke-width="0.9"/><circle cx="1059.6" cy="1314.34" r="14" fill="#FFFFFF" stroke="#F6BAB8" stroke-width="0.9"/><circle cx="1092.13" cy="1314.34" r="14" fill="#FFFFFF" stroke="#F79895" stroke-width="0.9"/><circle cx="1124.67" cy="1314.34" r="14" fill="#FFFFFF" stroke="#F88684" stroke-width="0.9"/><circle cx="1157.2" cy="1314.34" r="14" fill="#FFFFFF" stroke="#F7A8A7" stroke-width="0.9"/><circle cx="701.71" cy="1346.88" r="14" fill="#FFFFFF" stroke="#F6BAB8" stroke-width="0.9"/><circle cx="734.25" cy="1346.88" r="14" fill="#FFFFFF" stroke="#F79895" stroke-width="0.9"/><circle cx="766.78" cy="1346.88" r="14" fill="#FFFFFF" stroke="#F6BAB8" stroke-width="0.9"/><circle cx="799.32" cy="1346.88" r="14" fill="#FFFFFF" stroke="#F88684" stroke-width="0.9"/><circle cx="831.85" cy="1346.88" r="14" fill="#FFFFFF" stroke="#F79895" stroke-width="0.9"/><circle cx="864.39" cy="1346.88" r="14" fill="#FFFFFF" stroke="#F6BAB8" stroke-width="0.9"/><circle cx="896.92" cy="1346.88" r="14" fill="#FFFFFF" stroke="#CAD3EE" stroke-width="0.9"/><circle cx="929.46" cy="1346.88" r="14" fill="#FFFFFF" stroke="#F6BAB8" stroke-width="0.9"/><circle cx="961.99" cy="1346.88" r="14" fill="#FFFFFF" stroke="#F7A8A7" stroke-width="0.9"/><circle cx="994.53" cy="1346.88" r="14" fill="#FFFFFF" stroke="#F7A8A7" stroke-width="0.9"/><circle cx="1027.06" cy="1346.88" r="14" fill="#FFFFFF" stroke="#F6BAB8" stroke-width="0.9"/><circle cx="1059.6" cy="1346.88" r="14" fill="#FFFFFF" stroke="#F7A8A7" stroke-width="0.9"/><circle cx="1092.13" cy="1346.88" r="14" fill="#FFFFFF" stroke="#F79895" stroke-width="0.9"/><circle cx="1124.67" cy="1346.88" r="14" fill="#FFFFFF" stroke="#F88684" stroke-width="0.9"/><circle cx="1157.2" cy="1346.88" r="14" fill="#FFFFFF" stroke="#F7A8A7" stroke-width="0.9"/><circle cx="734.25" cy="1379.41" r="14" fill="#FFFFFF" stroke="#F88684" stroke-width="0.9"/><circle cx="766.78" cy="1379.41" r="14" fill="#FFFFFF" stroke="#F79895" stroke-width="0.9"/><circle cx="799.32" cy="1379.41" r="14" fill="#FFFFFF" stroke="#F88684" stroke-width="0.9"/><circle cx="831.85" cy="1379.41" r="14" fill="#FFFFFF" stroke="#F7A8A7" stroke-width="0.9"/><circle cx="864.39" cy="1379.41" r="14" fill="#FFFFFF" stroke="#F88684" stroke-width="0.9"/><circle cx="896.92" cy="1379.41" r="14" fill="#FFFFFF" stroke="#F6BAB8" stroke-width="0.9"/><circle cx="929.46" cy="1379.41" r="14" fill="#FFFFFF" stroke="#FB6461" stroke-width="0.9"/><circle cx="961.99" cy="1379.41" r="14" fill="#FFFFFF" stroke="#F7A8A7" stroke-width="0.9"/><circle cx="994.53" cy="1379.41" r="14" fill="#FFFFFF" stroke="#F7A8A7" stroke-width="0.9"/><circle cx="1027.06" cy="1379.41" r="14" fill="#FFFFFF" stroke="#FA7672" stroke-width="0.9"/><circle cx="1059.6" cy="1379.41" r="14" fill="#FFFFFF" stroke="#F7A8A7" stroke-width="0.9"/><circle cx="1092.13" cy="1379.41" r="14" fill="#FFFFFF" stroke="#F7A8A7" stroke-width="0.9"/><circle cx="1124.67" cy="1379.41" r="14" fill="#FFFFFF" stroke="#F7A8A7" stroke-width="0.9"/><circle cx="1157.2" cy="1379.41" r="14" fill="#FFFFFF" stroke="#F6BAB8" stroke-width="0.9"/><circle cx="766.78" cy="1411.95" r="14" fill="#FFFFFF" stroke="#F5CACA" stroke-width="0.9"/><circle cx="799.32" cy="1411.95" r="14" fill="#FFFFFF" stroke="#FA7672" stroke-width="0.9"/><circle cx="831.85" cy="1411.95" r="14" fill="#FFFFFF" stroke="#FA7672" stroke-width="0.9"/><circle cx="864.39" cy="1411.95" r="14" fill="#FFFFFF" stroke="#FB6461" stroke-width="0.9"/><circle cx="896.92" cy="1411.95" r="14" fill="#FFFFFF" stroke="#DCE1F0" stroke-width="0.9"/><circle cx="929.46" cy="1411.95" r="14" fill="#FFFFFF" stroke="#FA7672" stroke-width="0.9"/><circle cx="961.99" cy="1411.95" r="14" fill="#FFFFFF" stroke="#F5CACA" stroke-width="0.9"/><circle cx="994.53" cy="1411.95" r="14" fill="#FFFFFF" stroke="#F79895" stroke-width="0.9"/><circle cx="1027.06" cy="1411.95" r="14" fill="#FFFFFF" stroke="#F88684" stroke-width="0.9"/><circle cx="1059.6" cy="1411.95" r="14" fill="#FFFFFF" stroke="#F79895" stroke-width="0.9"/><circle cx="1092.13" cy="1411.95" r="14" fill="#FFFFFF" stroke="#F79895" stroke-width="0.9"/><circle cx="1124.67" cy="1411.95" r="14" fill="#FFFFFF" stroke="#F79895" stroke-width="0.9"/><circle cx="1157.2" cy="1411.95" r="14" fill="#FFFFFF" stroke="#DCE1F0" stroke-width="0.9"/><circle cx="799.32" cy="1444.48" r="14" fill="#FFFFFF" stroke="#F7A8A7" stroke-width="0.9"/><circle cx="831.85" cy="1444.48" r="14" fill="#FFFFFF" stroke="#F6BAB8" stroke-width="0.9"/><circle cx="864.39" cy="1444.48" r="14" fill="#FFFFFF" stroke="#F5CACA" stroke-width="0.9"/><circle cx="896.92" cy="1444.48" r="14" fill="#FFFFFF" stroke="#F6BAB8" stroke-width="0.9"/><circle cx="929.46" cy="1444.48" r="14" fill="#FFFFFF" stroke="#F7A8A7" stroke-width="0.9"/><circle cx="961.99" cy="1444.48" r="14" fill="#FFFFFF" stroke="#F7A8A7" stroke-width="0.9"/><circle cx="994.53" cy="1444.48" r="14" fill="#FFFFFF" stroke="#F5CACA" stroke-width="0.9"/><circle cx="1027.06" cy="1444.48" r="14" fill="#FFFFFF" stroke="#F6BAB8" stroke-width="0.9"/><circle cx="1059.6" cy="1444.48" r="14" fill="#FFFFFF" stroke="#F5CACA" stroke-width="0.9"/><circle cx="1092.13" cy="1444.48" r="14" fill="#FFFFFF" stroke="#F88684" stroke-width="0.9"/><circle cx="1124.67" cy="1444.48" r="14" fill="#FFFFFF" stroke="#F88684" stroke-width="0.9"/><circle cx="1157.2" cy="1444.48" r="14" fill="#FFFFFF" stroke="#F6BAB8" stroke-width="0.9"/><circle cx="831.85" cy="1477.02" r="14" fill="#FFFFFF" stroke="#F7A8A7" stroke-width="0.9"/><circle cx="864.39" cy="1477.02" r="14" fill="#FFFFFF" stroke="#F79895" stroke-width="0.9"/><circle cx="896.92" cy="1477.02" r="14" fill="#FFFFFF" stroke="#B9C6ED" stroke-width="0.9"/><circle cx="929.46" cy="1477.02" r="14" fill="#FFFFFF" stroke="#F79895" stroke-width="0.9"/><circle cx="961.99" cy="1477.02" r="14" fill="#FFFFFF" stroke="#DCE1F0" stroke-width="0.9"/><circle cx="994.53" cy="1477.02" r="14" fill="#FFFFFF" stroke="#F4DCDB" stroke-width="0.9"/><circle cx="1027.06" cy="1477.02" r="14" fill="#FFFFFF" stroke="#F6BAB8" stroke-width="0.9"/><circle cx="1059.6" cy="1477.02" r="14" fill="#FFFFFF" stroke="#F6BAB8" stroke-width="0.9"/><circle cx="1092.13" cy="1477.02" r="14" fill="#FFFFFF" stroke="#FA7672" stroke-width="0.9"/><circle cx="1124.67" cy="1477.02" r="14" fill="#FFFFFF" stroke="#F88684" stroke-width="0.9"/><circle cx="1157.2" cy="1477.02" r="14" fill="#FFFFFF" stroke="#F4DCDB" stroke-width="0.9"/><circle cx="864.39" cy="1509.55" r="14" fill="#FFFFFF" stroke="#FB6461" stroke-width="0.9"/><circle cx="896.92" cy="1509.55" r="14" fill="#FFFFFF" stroke="#F5CACA" stroke-width="0.9"/><circle cx="929.46" cy="1509.55" r="14" fill="#FFFFFF" stroke="#FB6461" stroke-width="0.9"/><circle cx="961.99" cy="1509.55" r="14" fill="#FFFFFF" stroke="#F79895" stroke-width="0.9"/><circle cx="994.53" cy="1509.55" r="14" fill="#FFFFFF" stroke="#F79895" stroke-width="0.9"/><circle cx="1027.06" cy="1509.55" r="14" fill="#FFFFFF" stroke="#F88684" stroke-width="0.9"/><circle cx="1059.6" cy="1509.55" r="14" fill="#FFFFFF" stroke="#FA7672" stroke-width="0.9"/><circle cx="1092.13" cy="1509.55" r="14" fill="#FFFFFF" stroke="#F7A8A7" stroke-width="0.9"/><circle cx="1124.67" cy="1509.55" r="14" fill="#FFFFFF" stroke="#F7A8A7" stroke-width="0.9"/><circle cx="1157.2" cy="1509.55" r="14" fill="#FFFFFF" stroke="#F5CACA" stroke-width="0.9"/><circle cx="896.92" cy="1542.09" r="14" fill="#FFFFFF" stroke="#F5CACA" stroke-width="0.9"/><circle cx="929.46" cy="1542.09" r="14" fill="#FFFFFF" stroke="#FB6461" stroke-width="0.9"/><circle cx="961.99" cy="1542.09" r="14" fill="#FFFFFF" stroke="#F6BAB8" stroke-width="0.9"/><circle cx="994.53" cy="1542.09" r="14" fill="#FFFFFF" stroke="#F88684" stroke-width="0.9"/><circle cx="1027.06" cy="1542.09" r="14" fill="#FFFFFF" stroke="#FB6461" stroke-width="0.9"/><circle cx="1059.6" cy="1542.09" r="14" fill="#FFFFFF" stroke="#FA7672" stroke-width="0.9"/><circle cx="1092.13" cy="1542.09" r="14" fill="#FFFFFF" stroke="#F6BAB8" stroke-width="0.9"/><circle cx="1124.67" cy="1542.09" r="14" fill="#FFFFFF" stroke="#F5CACA" stroke-width="0.9"/><circle cx="1157.2" cy="1542.09" r="14" fill="#FFFFFF" stroke="#F4DCDB" stroke-width="0.9"/><circle cx="929.46" cy="1574.62" r="14" fill="#FFFFFF" stroke="#F7A8A7" stroke-width="0.9"/><circle cx="961.99" cy="1574.62" r="14" fill="#FFFFFF" stroke="#F7A8A7" stroke-width="0.9"/><circle cx="994.53" cy="1574.62" r="14" fill="#FFFFFF" stroke="#F6BAB8" stroke-width="0.9"/><circle cx="1027.06" cy="1574.62" r="14" fill="#FFFFFF" stroke="#F7A8A7" stroke-width="0.9"/><circle cx="1059.6" cy="1574.62" r="14" fill="#FFFFFF" stroke="#F7A8A7" stroke-width="0.9"/><circle cx="1092.13" cy="1574.62" r="14" fill="#FFFFFF" stroke="#CAD3EE" stroke-width="0.9"/><circle cx="1124.67" cy="1574.62" r="14" fill="#FFFFFF" stroke="#F4DCDB" stroke-width="0.9"/><circle cx="1157.2" cy="1574.62" r="14" fill="#FFFFFF" stroke="#F6BAB8" stroke-width="0.9"/><circle cx="961.99" cy="1607.16" r="14" fill="#FFFFFF" stroke="#F79895" stroke-width="0.9"/><circle cx="994.53" cy="1607.16" r="14" fill="#FFFFFF" stroke="#F79895" stroke-width="0.9"/><circle cx="1027.06" cy="1607.16" r="14" fill="#FFFFFF" stroke="#FB6461" stroke-width="0.9"/><circle cx="1059.6" cy="1607.16" r="14" fill="#FFFFFF" stroke="#F88684" stroke-width="0.9"/><circle cx="1092.13" cy="1607.16" r="14" fill="#FFFFFF" stroke="#F6BAB8" stroke-width="0.9"/><circle cx="1124.67" cy="1607.16" r="14" fill="#FFFFFF" stroke="#F7A8A7" stroke-width="0.9"/><circle cx="1157.2" cy="1607.16" r="14" fill="#FFFFFF" stroke="#F7A8A7" stroke-width="0.9"/><circle cx="994.53" cy="1639.69" r="14" fill="#FFFFFF" stroke="#F7A8A7" stroke-width="0.9"/><circle cx="1027.06" cy="1639.69" r="14" fill="#FFFFFF" stroke="#F79895" stroke-width="0.9"/><circle cx="1059.6" cy="1639.69" r="14" fill="#FFFFFF" stroke="#F6BAB8" stroke-width="0.9"/><circle cx="1092.13" cy="1639.69" r="14" fill="#FFFFFF" stroke="#F4DCDB" stroke-width="0.9"/><circle cx="1124.67" cy="1639.69" r="14" fill="#FFFFFF" stroke="#F7A8A7" stroke-width="0.9"/><circle cx="1157.2" cy="1639.69" r="14" fill="#FFFFFF" stroke="#F88684" stroke-width="0.9"/><circle cx="1027.06" cy="1672.23" r="14" fill="#FFFFFF" stroke="#F88684" stroke-width="0.9"/><circle cx="1059.6" cy="1672.23" r="14" fill="#FFFFFF" stroke="#F79895" stroke-width="0.9"/><circle cx="1092.13" cy="1672.23" r="14" fill="#FFFFFF" stroke="#F4DCDB" stroke-width="0.9"/><circle cx="1124.67" cy="1672.23" r="14" fill="#FFFFFF" stroke="#DCE1F0" stroke-width="0.9"/><circle cx="1157.2" cy="1672.23" r="14" fill="#FFFFFF" stroke="#F5CACA" stroke-width="0.9"/><circle cx="1059.6" cy="1704.76" r="14" fill="#FFFFFF" stroke="#FB6461" stroke-width="0.9"/><circle cx="1092.13" cy="1704.76" r="14" fill="#FFFFFF" stroke="#F5CACA" stroke-width="0.9"/><circle cx="1124.67" cy="1704.76" r="14" fill="#FFFFFF" stroke="#F5CACA" stroke-width="0.9"/><circle cx="1157.2" cy="1704.76" r="14" fill="#FFFFFF" stroke="#F6BAB8" stroke-width="0.9"/><circle cx="1092.13" cy="1737.3" r="14" fill="#FFFFFF" stroke="#F5CACA" stroke-width="0.9"/><circle cx="1124.67" cy="1737.3" r="14" fill="#FFFFFF" stroke="#F5CACA" stroke-width="0.9"/><circle cx="1157.2" cy="1737.3" r="14" fill="#FFFFFF" stroke="#F6BAB8" stroke-width="0.9"/><circle cx="1124.67" cy="1769.83" r="14" fill="#FFFFFF" stroke="#FA7672" stroke-width="0.9"/><circle cx="1157.2" cy="1769.83" r="14" fill="#FFFFFF" stroke="#F4DCDB" stroke-width="0.9"/><circle cx="1157.2" cy="1802.37" r="14" fill="#FFFFFF" stroke="#F7A8A7" stroke-width="0.9"/></g>
<g><circle cx="473.97" cy="1151.67" r="14" fill="#FD423E" stroke="#000" stroke-width="1.1"/><path d="M473.97 1151.67V1137.67" stroke="#000" stroke-width="1.1"/><path d="M506.5 1151.67L506.5 1137.67A14 14 0 0 0 496.92 1141.46Z" fill="#D6DCEF" stroke="#000" stroke-width="1.1" stroke-linejoin="round"/><path d="M539.04 1151.67L539.04 1137.67A14 14 0 1 1 525.48 1155.15Z" fill="#FB6764" stroke="#000" stroke-width="1.1" stroke-linejoin="round"/><path d="M571.57 1151.67L571.57 1137.67A14 14 0 1 1 558.01 1148.19Z" fill="#FB6764" stroke="#000" stroke-width="1.1" stroke-linejoin="round"/><path d="M604.11 1151.67L604.11 1137.67A14 14 0 0 1 611.61 1139.85Z" fill="#F3E9E9" stroke="#000" stroke-width="1.1" stroke-linejoin="round"/><path d="M636.64 1151.67L636.64 1137.67A14 14 0 1 1 631.49 1164.68Z" fill="#F88C8A" stroke="#000" stroke-width="1.1" stroke-linejoin="round"/><path d="M669.18 1151.67L669.18 1137.67A14 14 0 1 1 664.02 1164.68Z" fill="#F88C8A" stroke="#000" stroke-width="1.1" stroke-linejoin="round"/><path d="M701.71 1151.67L701.71 1137.67A14 14 0 0 1 713.98 1158.41Z" fill="#F6B1B0" stroke="#000" stroke-width="1.1" stroke-linejoin="round"/><path d="M734.25 1151.67L734.25 1137.67A14 14 0 0 1 741.75 1163.49Z" fill="#F79F9D" stroke="#000" stroke-width="1.1" stroke-linejoin="round"/><path d="M766.78 1151.67L766.78 1137.67A14 14 0 0 1 777.57 1160.59Z" fill="#F6B1B0" stroke="#000" stroke-width="1.1" stroke-linejoin="round"/><path d="M799.32 1151.67L799.32 1137.67A14 14 0 1 1 789.73 1161.87Z" fill="#FA7A77" stroke="#000" stroke-width="1.1" stroke-linejoin="round"/><path d="M831.85 1151.67L831.85 1137.67A14 14 0 0 1 844.52 1157.63Z" fill="#F6B1B0" stroke="#000" stroke-width="1.1" stroke-linejoin="round"/><path d="M864.39 1151.67L864.39 1137.67A14 14 0 0 1 872.62 1140.34Z" fill="#F3E9E9" stroke="#000" stroke-width="1.1" stroke-linejoin="round"/><path d="M896.92 1151.67L896.92 1137.67A14 14 0 0 0 882.95 1152.55Z" fill="#C3CEEE" stroke="#000" stroke-width="1.1" stroke-linejoin="round"/><path d="M929.46 1151.67L929.46 1137.67A14 14 0 0 1 941.28 1144.17Z" fill="#F4D6D6" stroke="#000" stroke-width="1.1" stroke-linejoin="round"/><path d="M961.99 1151.67L961.99 1137.67A14 14 0 0 1 969.49 1139.85Z" fill="#F3E9E9" stroke="#000" stroke-width="1.1" stroke-linejoin="round"/><path d="M994.53 1151.67L994.53 1137.67A14 14 0 0 1 998.85 1138.35Z" fill="#F3E9E9" stroke="#000" stroke-width="1.1" stroke-linejoin="round"/><path d="M1027.06 1151.67L1027.06 1137.67A14 14 0 0 1 1032.22 1138.65Z" fill="#F3E9E9" stroke="#000" stroke-width="1.1" stroke-linejoin="round"/><path d="M1059.6 1151.67L1059.6 1137.67A14 14 0 0 1 1072.27 1145.71Z" fill="#F4D6D6" stroke="#000" stroke-width="1.1" stroke-linejoin="round"/><path d="M1092.13 1151.67L1092.13 1137.67A14 14 0 1 1 1086.17 1164.34Z" fill="#F88C8A" stroke="#000" stroke-width="1.1" stroke-linejoin="round"/><path d="M1124.67 1151.67L1124.67 1137.67A14 14 0 1 1 1121.19 1165.23Z" fill="#F88C8A" stroke="#000" stroke-width="1.1" stroke-linejoin="round"/><path d="M1157.2 1151.67L1157.2 1137.67A14 14 0 0 1 1170.76 1155.15Z" fill="#F5C4C3" stroke="#000" stroke-width="1.1" stroke-linejoin="round"/><circle cx="506.5" cy="1184.2" r="14" fill="#FD423E" stroke="#000" stroke-width="1.1"/><path d="M506.5 1184.2V1170.2" stroke="#000" stroke-width="1.1"/><path d="M539.04 1184.2L539.04 1170.2A14 14 0 0 0 526.37 1178.24Z" fill="#D6DCEF" stroke="#000" stroke-width="1.1" stroke-linejoin="round"/><path d="M571.57 1184.2L571.57 1170.2A14 14 0 0 0 560.25 1175.97Z" fill="#D6DCEF" stroke="#000" stroke-width="1.1" stroke-linejoin="round"/><path d="M604.11 1184.2L604.11 1170.2A14 14 0 0 0 590.79 1179.88Z" fill="#D6DCEF" stroke="#000" stroke-width="1.1" stroke-linejoin="round"/><path d="M636.64 1184.2L636.64 1170.2A14 14 0 0 0 627.72 1173.42Z" fill="#D6DCEF" stroke="#000" stroke-width="1.1" stroke-linejoin="round"/><path d="M669.18 1184.2L669.18 1170.2A14 14 0 0 0 668.3 1170.23Z" fill="#E9EBF1" stroke="#000" stroke-width="1.1" stroke-linejoin="round"/><path d="M701.71 1184.2L701.71 1170.2A14 14 0 1 0 711.3 1194.41Z" fill="#7994E6" stroke="#000" stroke-width="1.1" stroke-linejoin="round"/><path d="M734.25 1184.2L734.25 1170.2A14 14 0 0 0 724.04 1193.79Z" fill="#B1C0EC" stroke="#000" stroke-width="1.1" stroke-linejoin="round"/><path d="M766.78 1184.2L766.78 1170.2A14 14 0 0 0 761.63 1197.22Z" fill="#9EB1EA" stroke="#000" stroke-width="1.1" stroke-linejoin="round"/><path d="M799.32 1184.2L799.32 1170.2A14 14 0 0 0 794.99 1170.89Z" fill="#E9EBF1" stroke="#000" stroke-width="1.1" stroke-linejoin="round"/><path d="M831.85 1184.2L831.85 1170.2A14 14 0 0 0 820.53 1192.43Z" fill="#B1C0EC" stroke="#000" stroke-width="1.1" stroke-linejoin="round"/><path d="M864.39 1184.2L864.39 1170.2A14 14 0 0 0 856.89 1196.02Z" fill="#9EB1EA" stroke="#000" stroke-width="1.1" stroke-linejoin="round"/><path d="M896.92 1184.2L896.92 1170.2A14 14 0 0 0 888 1194.99Z" fill="#B1C0EC" stroke="#000" stroke-width="1.1" stroke-linejoin="round"/><path d="M929.46 1184.2L929.46 1170.2A14 14 0 1 0 933.78 1197.52Z" fill="#8CA3E8" stroke="#000" stroke-width="1.1" stroke-linejoin="round"/><path d="M961.99 1184.2L961.99 1170.2A14 14 0 0 0 949.32 1190.16Z" fill="#B1C0EC" stroke="#000" stroke-width="1.1" stroke-linejoin="round"/><path d="M994.53 1184.2L994.53 1170.2A14 14 0 0 0 980.78 1186.83Z" fill="#C3CEEE" stroke="#000" stroke-width="1.1" stroke-linejoin="round"/><path d="M1027.06 1184.2L1027.06 1170.2A14 14 0 1 0 1039.33 1190.95Z" fill="#7994E6" stroke="#000" stroke-width="1.1" stroke-linejoin="round"/><path d="M1059.6 1184.2L1059.6 1170.2A14 14 0 0 0 1057.84 1198.09Z" fill="#9EB1EA" stroke="#000" stroke-width="1.1" stroke-linejoin="round"/><path d="M1092.13 1184.2L1092.13 1170.2A14 14 0 0 0 1088.65 1170.64Z" fill="#E9EBF1" stroke="#000" stroke-width="1.1" stroke-linejoin="round"/><path d="M1124.67 1184.2L1124.67 1170.2A14 14 0 0 0 1112 1178.24Z" fill="#D6DCEF" stroke="#000" stroke-width="1.1" stroke-linejoin="round"/><path d="M1157.2 1184.2L1157.2 1170.2A14 14 0 0 0 1143.31 1185.96Z" fill="#C3CEEE" stroke="#000" stroke-width="1.1" stroke-linejoin="round"/><circle cx="539.04" cy="1216.74" r="14" fill="#FD423E" stroke="#000" stroke-width="1.1"/><path d="M539.04 1216.74V1202.74" stroke="#000" stroke-width="1.1"/><path d="M571.57 1216.74L571.57 1202.74A14 14 0 1 1 558.26 1221.06Z" fill="#FA7A77" stroke="#000" stroke-width="1.1" stroke-linejoin="round"/><path d="M604.11 1216.74L604.11 1202.74A14 14 0 0 1 610.07 1204.07Z" fill="#F3E9E9" stroke="#000" stroke-width="1.1" stroke-linejoin="round"/><path d="M636.64 1216.74L636.64 1202.74A14 14 0 1 1 634.02 1230.49Z" fill="#F88C8A" stroke="#000" stroke-width="1.1" stroke-linejoin="round"/><path d="M669.18 1216.74L669.18 1202.74A14 14 0 1 1 661.68 1228.56Z" fill="#F88C8A" stroke="#000" stroke-width="1.1" stroke-linejoin="round"/><path d="M701.71 1216.74L701.71 1202.74A14 14 0 0 1 713.53 1224.24Z" fill="#F6B1B0" stroke="#000" stroke-width="1.1" stroke-linejoin="round"/><path d="M734.25 1216.74L734.25 1202.74A14 14 0 0 1 740.99 1229.01Z" fill="#F79F9D" stroke="#000" stroke-width="1.1" stroke-linejoin="round"/><path d="M766.78 1216.74L766.78 1202.74A14 14 0 0 1 772.74 1229.41Z" fill="#F79F9D" stroke="#000" stroke-width="1.1" stroke-linejoin="round"/><path d="M799.32 1216.74L799.32 1202.74A14 14 0 1 1 793.36 1229.41Z" fill="#F88C8A" stroke="#000" stroke-width="1.1" stroke-linejoin="round"/><path d="M831.85 1216.74L831.85 1202.74A14 14 0 0 1 845.41 1213.26Z" fill="#F5C4C3" stroke="#000" stroke-width="1.1" stroke-linejoin="round"/><path d="M864.39 1216.74L864.39 1202.74A14 14 0 0 1 870.35 1204.07Z" fill="#F3E9E9" stroke="#000" stroke-width="1.1" stroke-linejoin="round"/><path d="M896.92 1216.74L896.92 1202.74A14 14 0 0 0 883.61 1212.41Z" fill="#D6DCEF" stroke="#000" stroke-width="1.1" stroke-linejoin="round"/><path d="M929.46 1216.74L929.46 1202.74A14 14 0 0 1 943.02 1213.26Z" fill="#F5C4C3" stroke="#000" stroke-width="1.1" stroke-linejoin="round"/><path d="M961.99 1216.74L961.99 1202.74A14 14 0 0 1 975.31 1212.41Z" fill="#F4D6D6" stroke="#000" stroke-width="1.1" stroke-linejoin="round"/><path d="M994.53 1216.74L994.53 1202.74A14 14 0 0 1 1004.11 1206.53Z" fill="#F4D6D6" stroke="#000" stroke-width="1.1" stroke-linejoin="round"/><path d="M1027.06 1216.74L1027.06 1202.74A14 14 0 0 1 1033.02 1204.07Z" fill="#F3E9E9" stroke="#000" stroke-width="1.1" stroke-linejoin="round"/><path d="M1059.6 1216.74L1059.6 1202.74A14 14 0 0 1 1063.08 1203.18Z" fill="#F3E9E9" stroke="#000" stroke-width="1.1" stroke-linejoin="round"/><path d="M1092.13 1216.74L1092.13 1202.74A14 14 0 0 1 1097.29 1229.75Z" fill="#F79F9D" stroke="#000" stroke-width="1.1" stroke-linejoin="round"/><path d="M1124.67 1216.74L1124.67 1202.74A14 14 0 1 1 1115.08 1226.94Z" fill="#FA7A77" stroke="#000" stroke-width="1.1" stroke-linejoin="round"/><path d="M1157.2 1216.74L1157.2 1202.74A14 14 0 0 1 1170.76 1220.22Z" fill="#F5C4C3" stroke="#000" stroke-width="1.1" stroke-linejoin="round"/><circle cx="571.57" cy="1249.27" r="14" fill="#FD423E" stroke="#000" stroke-width="1.1"/><path d="M571.57 1249.27V1235.27" stroke="#000" stroke-width="1.1"/><path d="M604.11 1249.27L604.11 1235.27A14 14 0 0 1 616.38 1242.53Z" fill="#F4D6D6" stroke="#000" stroke-width="1.1" stroke-linejoin="round"/><path d="M636.64 1249.27L636.64 1235.27A14 14 0 1 1 630.68 1261.94Z" fill="#F88C8A" stroke="#000" stroke-width="1.1" stroke-linejoin="round"/><path d="M669.18 1249.27L669.18 1235.27A14 14 0 1 1 660.25 1260.06Z" fill="#FA7A77" stroke="#000" stroke-width="1.1" stroke-linejoin="round"/><path d="M701.71 1249.27L701.71 1235.27A14 14 0 0 1 713.04 1257.5Z" fill="#F6B1B0" stroke="#000" stroke-width="1.1" stroke-linejoin="round"/><path d="M734.25 1249.27L734.25 1235.27A14 14 0 0 1 743.83 1259.48Z" fill="#F6B1B0" stroke="#000" stroke-width="1.1" stroke-linejoin="round"/><path d="M766.78 1249.27L766.78 1235.27A14 14 0 0 1 775.01 1260.6Z" fill="#F6B1B0" stroke="#000" stroke-width="1.1" stroke-linejoin="round"/><path d="M799.32 1249.27L799.32 1235.27A14 14 0 1 1 787.99 1257.5Z" fill="#FA7A77" stroke="#000" stroke-width="1.1" stroke-linejoin="round"/><path d="M831.85 1249.27L831.85 1235.27A14 14 0 0 1 842.06 1258.86Z" fill="#F6B1B0" stroke="#000" stroke-width="1.1" stroke-linejoin="round"/><path d="M864.39 1249.27L864.39 1235.27A14 14 0 0 1 878.14 1246.65Z" fill="#F5C4C3" stroke="#000" stroke-width="1.1" stroke-linejoin="round"/><path d="M896.92 1249.27L896.92 1235.27A14 14 0 0 0 891.77 1236.26Z" fill="#E9EBF1" stroke="#000" stroke-width="1.1" stroke-linejoin="round"/><path d="M929.46 1249.27L929.46 1235.27A14 14 0 0 1 942.47 1254.43Z" fill="#F6B1B0" stroke="#000" stroke-width="1.1" stroke-linejoin="round"/><path d="M961.99 1249.27L961.99 1235.27A14 14 0 0 1 975.55 1252.75Z" fill="#F5C4C3" stroke="#000" stroke-width="1.1" stroke-linejoin="round"/><path d="M994.53 1249.27L994.53 1235.27A14 14 0 0 1 999.68 1236.26Z" fill="#F3E9E9" stroke="#000" stroke-width="1.1" stroke-linejoin="round"/><path d="M1027.06 1249.27L1027.06 1235.27A14 14 0 0 1 1039.73 1243.31Z" fill="#F4D6D6" stroke="#000" stroke-width="1.1" stroke-linejoin="round"/><path d="M1059.6 1249.27L1059.6 1235.27A14 14 0 0 1 1072.27 1243.31Z" fill="#F4D6D6" stroke="#000" stroke-width="1.1" stroke-linejoin="round"/><path d="M1092.13 1249.27L1092.13 1235.27A14 14 0 1 1 1091.25 1263.24Z" fill="#F88C8A" stroke="#000" stroke-width="1.1" stroke-linejoin="round"/><path d="M1124.67 1249.27L1124.67 1235.27A14 14 0 1 1 1111.11 1252.75Z" fill="#FB6764" stroke="#000" stroke-width="1.1" stroke-linejoin="round"/><path d="M1157.2 1249.27L1157.2 1235.27A14 14 0 0 1 1167.99 1258.2Z" fill="#F6B1B0" stroke="#000" stroke-width="1.1" stroke-linejoin="round"/><circle cx="604.11" cy="1281.81" r="14" fill="#FD423E" stroke="#000" stroke-width="1.1"/><path d="M604.11 1281.81V1267.81" stroke="#000" stroke-width="1.1"/><path d="M636.64 1281.81L636.64 1267.81A14 14 0 0 1 647.97 1290.04Z" fill="#F6B1B0" stroke="#000" stroke-width="1.1" stroke-linejoin="round"/><path d="M669.18 1281.81L669.18 1267.81A14 14 0 0 1 678.1 1292.59Z" fill="#F6B1B0" stroke="#000" stroke-width="1.1" stroke-linejoin="round"/><path d="M701.71 1281.81L701.71 1267.81A14 14 0 0 1 711.3 1271.6Z" fill="#F4D6D6" stroke="#000" stroke-width="1.1" stroke-linejoin="round"/><path d="M734.25 1281.81L734.25 1267.81A14 14 0 0 1 741.75 1293.63Z" fill="#F79F9D" stroke="#000" stroke-width="1.1" stroke-linejoin="round"/><path d="M766.78 1281.81L766.78 1267.81A14 14 0 0 1 780.1 1286.13Z" fill="#F5C4C3" stroke="#000" stroke-width="1.1" stroke-linejoin="round"/><path d="M799.32 1281.81L799.32 1267.81A14 14 0 0 1 812.33 1276.65Z" fill="#F4D6D6" stroke="#000" stroke-width="1.1" stroke-linejoin="round"/><path d="M831.85 1281.81L831.85 1267.81A14 14 0 1 1 820.53 1290.04Z" fill="#FA7A77" stroke="#000" stroke-width="1.1" stroke-linejoin="round"/><path d="M864.39 1281.81L864.39 1267.81A14 14 0 0 1 867.01 1295.56Z" fill="#F79F9D" stroke="#000" stroke-width="1.1" stroke-linejoin="round"/><path d="M896.92 1281.81L896.92 1267.81A14 14 0 0 1 910.67 1279.18Z" fill="#F5C4C3" stroke="#000" stroke-width="1.1" stroke-linejoin="round"/><path d="M929.46 1281.81L929.46 1267.81A14 14 0 0 1 940.78 1290.04Z" fill="#F6B1B0" stroke="#000" stroke-width="1.1" stroke-linejoin="round"/><path d="M961.99 1281.81L961.99 1267.81A14 14 0 0 1 975.55 1278.33Z" fill="#F5C4C3" stroke="#000" stroke-width="1.1" stroke-linejoin="round"/><path d="M994.53 1281.81L994.53 1267.81A14 14 0 0 1 1008.5 1282.69Z" fill="#F5C4C3" stroke="#000" stroke-width="1.1" stroke-linejoin="round"/><path d="M1027.06 1281.81L1027.06 1267.81A14 14 0 0 1 1037.27 1291.39Z" fill="#F6B1B0" stroke="#000" stroke-width="1.1" stroke-linejoin="round"/><path d="M1059.6 1281.81L1059.6 1267.81A14 14 0 1 1 1056.12 1295.37Z" fill="#F88C8A" stroke="#000" stroke-width="1.1" stroke-linejoin="round"/><path d="M1092.13 1281.81L1092.13 1267.81A14 14 0 0 1 1104.4 1275.06Z" fill="#F4D6D6" stroke="#000" stroke-width="1.1" stroke-linejoin="round"/><path d="M1124.67 1281.81L1124.67 1267.81A14 14 0 0 1 1135.45 1290.73Z" fill="#F6B1B0" stroke="#000" stroke-width="1.1" stroke-linejoin="round"/><path d="M1157.2 1281.81L1157.2 1267.81A14 14 0 0 1 1169.47 1275.06Z" fill="#F4D6D6" stroke="#000" stroke-width="1.1" stroke-linejoin="round"/><circle cx="636.64" cy="1314.34" r="14" fill="#FD423E" stroke="#000" stroke-width="1.1"/><path d="M636.64 1314.34V1300.34" stroke="#000" stroke-width="1.1"/><path d="M669.18 1314.34L669.18 1300.34A14 14 0 0 1 672.66 1327.9Z" fill="#F79F9D" stroke="#000" stroke-width="1.1" stroke-linejoin="round"/><path d="M701.71 1314.34L701.71 1300.34A14 14 0 0 1 715.03 1310.02Z" fill="#F4D6D6" stroke="#000" stroke-width="1.1" stroke-linejoin="round"/><path d="M734.25 1314.34L734.25 1300.34A14 14 0 0 1 741.75 1326.16Z" fill="#F79F9D" stroke="#000" stroke-width="1.1" stroke-linejoin="round"/><path d="M766.78 1314.34L766.78 1300.34A14 14 0 0 1 778.6 1321.84Z" fill="#F6B1B0" stroke="#000" stroke-width="1.1" stroke-linejoin="round"/><path d="M799.32 1314.34L799.32 1300.34A14 14 0 1 1 791.82 1326.16Z" fill="#F88C8A" stroke="#000" stroke-width="1.1" stroke-linejoin="round"/><path d="M831.85 1314.34L831.85 1300.34A14 14 0 0 1 844.87 1319.5Z" fill="#F6B1B0" stroke="#000" stroke-width="1.1" stroke-linejoin="round"/><path d="M864.39 1314.34L864.39 1300.34A14 14 0 0 1 876.66 1307.6Z" fill="#F4D6D6" stroke="#000" stroke-width="1.1" stroke-linejoin="round"/><path d="M896.92 1314.34L896.92 1300.34A14 14 0 0 0 883.61 1310.02Z" fill="#D6DCEF" stroke="#000" stroke-width="1.1" stroke-linejoin="round"/><path d="M929.46 1314.34L929.46 1300.34A14 14 0 0 1 941.73 1321.09Z" fill="#F6B1B0" stroke="#000" stroke-width="1.1" stroke-linejoin="round"/><path d="M961.99 1314.34L961.99 1300.34A14 14 0 0 1 969.49 1302.52Z" fill="#F3E9E9" stroke="#000" stroke-width="1.1" stroke-linejoin="round"/><path d="M994.53 1314.34L994.53 1300.34A14 14 0 0 0 991.05 1300.78Z" fill="#E9EBF1" stroke="#000" stroke-width="1.1" stroke-linejoin="round"/><path d="M1027.06 1314.34L1027.06 1300.34A14 14 0 0 1 1038.88 1306.84Z" fill="#F4D6D6" stroke="#000" stroke-width="1.1" stroke-linejoin="round"/><path d="M1059.6 1314.34L1059.6 1300.34A14 14 0 0 1 1073.49 1312.59Z" fill="#F5C4C3" stroke="#000" stroke-width="1.1" stroke-linejoin="round"/><path d="M1092.13 1314.34L1092.13 1300.34A14 14 0 0 1 1098.88 1326.61Z" fill="#F79F9D" stroke="#000" stroke-width="1.1" stroke-linejoin="round"/><path d="M1124.67 1314.34L1124.67 1300.34A14 14 0 1 1 1119.51 1327.36Z" fill="#F88C8A" stroke="#000" stroke-width="1.1" stroke-linejoin="round"/><path d="M1157.2 1314.34L1157.2 1300.34A14 14 0 0 1 1165.43 1325.67Z" fill="#F6B1B0" stroke="#000" stroke-width="1.1" stroke-linejoin="round"/><circle cx="669.18" cy="1346.88" r="14" fill="#FD423E" stroke="#000" stroke-width="1.1"/><path d="M669.18 1346.88V1332.88" stroke="#000" stroke-width="1.1"/><path d="M701.71 1346.88L701.71 1332.88A14 14 0 0 1 715.6 1345.12Z" fill="#F5C4C3" stroke="#000" stroke-width="1.1" stroke-linejoin="round"/><path d="M734.25 1346.88L734.25 1332.88A14 14 0 0 1 740.99 1359.15Z" fill="#F79F9D" stroke="#000" stroke-width="1.1" stroke-linejoin="round"/><path d="M766.78 1346.88L766.78 1332.88A14 14 0 0 1 780.1 1351.2Z" fill="#F5C4C3" stroke="#000" stroke-width="1.1" stroke-linejoin="round"/><path d="M799.32 1346.88L799.32 1332.88A14 14 0 1 1 793.36 1359.55Z" fill="#F88C8A" stroke="#000" stroke-width="1.1" stroke-linejoin="round"/><path d="M831.85 1346.88L831.85 1332.88A14 14 0 0 1 837.01 1359.89Z" fill="#F79F9D" stroke="#000" stroke-width="1.1" stroke-linejoin="round"/><path d="M864.39 1346.88L864.39 1332.88A14 14 0 0 1 878.36 1347.76Z" fill="#F5C4C3" stroke="#000" stroke-width="1.1" stroke-linejoin="round"/><path d="M896.92 1346.88L896.92 1332.88A14 14 0 0 0 884.25 1340.92Z" fill="#D6DCEF" stroke="#000" stroke-width="1.1" stroke-linejoin="round"/><path d="M929.46 1346.88L929.46 1332.88A14 14 0 0 1 943.46 1346.88Z" fill="#F5C4C3" stroke="#000" stroke-width="1.1" stroke-linejoin="round"/><path d="M961.99 1346.88L961.99 1332.88A14 14 0 0 1 972.78 1355.8Z" fill="#F6B1B0" stroke="#000" stroke-width="1.1" stroke-linejoin="round"/><path d="M994.53 1346.88L994.53 1332.88A14 14 0 0 1 1005.31 1355.8Z" fill="#F6B1B0" stroke="#000" stroke-width="1.1" stroke-linejoin="round"/><path d="M1027.06 1346.88L1027.06 1332.88A14 14 0 0 1 1040.62 1350.36Z" fill="#F5C4C3" stroke="#000" stroke-width="1.1" stroke-linejoin="round"/><path d="M1059.6 1346.88L1059.6 1332.88A14 14 0 0 1 1071.87 1353.62Z" fill="#F6B1B0" stroke="#000" stroke-width="1.1" stroke-linejoin="round"/><path d="M1092.13 1346.88L1092.13 1332.88A14 14 0 0 1 1099.63 1358.7Z" fill="#F79F9D" stroke="#000" stroke-width="1.1" stroke-linejoin="round"/><path d="M1124.67 1346.88L1124.67 1332.88A14 14 0 1 1 1122.04 1360.63Z" fill="#F88C8A" stroke="#000" stroke-width="1.1" stroke-linejoin="round"/><path d="M1157.2 1346.88L1157.2 1332.88A14 14 0 0 1 1167.41 1356.46Z" fill="#F6B1B0" stroke="#000" stroke-width="1.1" stroke-linejoin="round"/><circle cx="701.71" cy="1379.41" r="14" fill="#FD423E" stroke="#000" stroke-width="1.1"/><path d="M701.71 1379.41V1365.41" stroke="#000" stroke-width="1.1"/><path d="M734.25 1379.41L734.25 1365.41A14 14 0 1 1 727.5 1391.68Z" fill="#F88C8A" stroke="#000" stroke-width="1.1" stroke-linejoin="round"/><path d="M766.78 1379.41L766.78 1365.41A14 14 0 0 1 767.66 1393.38Z" fill="#F79F9D" stroke="#000" stroke-width="1.1" stroke-linejoin="round"/><path d="M799.32 1379.41L799.32 1365.41A14 14 0 1 1 798.44 1393.38Z" fill="#F88C8A" stroke="#000" stroke-width="1.1" stroke-linejoin="round"/><path d="M831.85 1379.41L831.85 1365.41A14 14 0 0 1 840.08 1390.74Z" fill="#F6B1B0" stroke="#000" stroke-width="1.1" stroke-linejoin="round"/><path d="M864.39 1379.41L864.39 1365.41A14 14 0 1 1 860.06 1392.73Z" fill="#F88C8A" stroke="#000" stroke-width="1.1" stroke-linejoin="round"/><path d="M896.92 1379.41L896.92 1365.41A14 14 0 0 1 910.81 1381.17Z" fill="#F5C4C3" stroke="#000" stroke-width="1.1" stroke-linejoin="round"/><path d="M929.46 1379.41L929.46 1365.41A14 14 0 1 1 915.71 1382.04Z" fill="#FB6764" stroke="#000" stroke-width="1.1" stroke-linejoin="round"/><path d="M961.99 1379.41L961.99 1365.41A14 14 0 0 1 970.92 1390.2Z" fill="#F6B1B0" stroke="#000" stroke-width="1.1" stroke-linejoin="round"/><path d="M994.53 1379.41L994.53 1365.41A14 14 0 0 1 1004.11 1389.62Z" fill="#F6B1B0" stroke="#000" stroke-width="1.1" stroke-linejoin="round"/><path d="M1027.06 1379.41L1027.06 1365.41A14 14 0 1 1 1015.24 1386.91Z" fill="#FA7A77" stroke="#000" stroke-width="1.1" stroke-linejoin="round"/><path d="M1059.6 1379.41L1059.6 1365.41A14 14 0 0 1 1067.83 1390.74Z" fill="#F6B1B0" stroke="#000" stroke-width="1.1" stroke-linejoin="round"/><path d="M1092.13 1379.41L1092.13 1365.41A14 14 0 0 1 1104.8 1385.37Z" fill="#F6B1B0" stroke="#000" stroke-width="1.1" stroke-linejoin="round"/><path d="M1124.67 1379.41L1124.67 1365.41A14 14 0 0 1 1135.45 1388.34Z" fill="#F6B1B0" stroke="#000" stroke-width="1.1" stroke-linejoin="round"/><path d="M1157.2 1379.41L1157.2 1365.41A14 14 0 0 1 1170.95 1376.79Z" fill="#F5C4C3" stroke="#000" stroke-width="1.1" stroke-linejoin="round"/><circle cx="734.25" cy="1411.95" r="14" fill="#FD423E" stroke="#000" stroke-width="1.1"/><path d="M734.25 1411.95V1397.95" stroke="#000" stroke-width="1.1"/><path d="M766.78 1411.95L766.78 1397.95A14 14 0 0 1 779.45 1405.99Z" fill="#F4D6D6" stroke="#000" stroke-width="1.1" stroke-linejoin="round"/><path d="M799.32 1411.95L799.32 1397.95A14 14 0 1 1 786 1416.27Z" fill="#FA7A77" stroke="#000" stroke-width="1.1" stroke-linejoin="round"/><path d="M831.85 1411.95L831.85 1397.95A14 14 0 1 1 818.84 1417.1Z" fill="#FA7A77" stroke="#000" stroke-width="1.1" stroke-linejoin="round"/><path d="M864.39 1411.95L864.39 1397.95A14 14 0 1 1 850.5 1413.7Z" fill="#FB6764" stroke="#000" stroke-width="1.1" stroke-linejoin="round"/><path d="M896.92 1411.95L896.92 1397.95A14 14 0 0 0 891.77 1398.93Z" fill="#E9EBF1" stroke="#000" stroke-width="1.1" stroke-linejoin="round"/><path d="M929.46 1411.95L929.46 1397.95A14 14 0 1 1 917.64 1419.45Z" fill="#FA7A77" stroke="#000" stroke-width="1.1" stroke-linejoin="round"/><path d="M961.99 1411.95L961.99 1397.95A14 14 0 0 1 970.92 1401.16Z" fill="#F4D6D6" stroke="#000" stroke-width="1.1" stroke-linejoin="round"/><path d="M994.53 1411.95L994.53 1397.95A14 14 0 0 1 1000.49 1424.62Z" fill="#F79F9D" stroke="#000" stroke-width="1.1" stroke-linejoin="round"/><path d="M1027.06 1411.95L1027.06 1397.95A14 14 0 1 1 1023.58 1425.51Z" fill="#F88C8A" stroke="#000" stroke-width="1.1" stroke-linejoin="round"/><path d="M1059.6 1411.95L1059.6 1397.95A14 14 0 0 1 1060.48 1425.92Z" fill="#F79F9D" stroke="#000" stroke-width="1.1" stroke-linejoin="round"/><path d="M1092.13 1411.95L1092.13 1397.95A14 14 0 0 1 1094.76 1425.7Z" fill="#F79F9D" stroke="#000" stroke-width="1.1" stroke-linejoin="round"/><path d="M1124.67 1411.95L1124.67 1397.95A14 14 0 0 1 1132.17 1423.77Z" fill="#F79F9D" stroke="#000" stroke-width="1.1" stroke-linejoin="round"/><path d="M1157.2 1411.95L1157.2 1397.95A14 14 0 0 0 1152.05 1398.93Z" fill="#E9EBF1" stroke="#000" stroke-width="1.1" stroke-linejoin="round"/><circle cx="766.78" cy="1444.48" r="14" fill="#FD423E" stroke="#000" stroke-width="1.1"/><path d="M766.78 1444.48V1430.48" stroke="#000" stroke-width="1.1"/><path d="M799.32 1444.48L799.32 1430.48A14 14 0 0 1 812.33 1449.64Z" fill="#F6B1B0" stroke="#000" stroke-width="1.1" stroke-linejoin="round"/><path d="M831.85 1444.48L831.85 1430.48A14 14 0 0 1 845.82 1445.36Z" fill="#F5C4C3" stroke="#000" stroke-width="1.1" stroke-linejoin="round"/><path d="M864.39 1444.48L864.39 1430.48A14 14 0 0 1 873.97 1434.28Z" fill="#F4D6D6" stroke="#000" stroke-width="1.1" stroke-linejoin="round"/><path d="M896.92 1444.48L896.92 1430.48A14 14 0 0 1 910.67 1441.86Z" fill="#F5C4C3" stroke="#000" stroke-width="1.1" stroke-linejoin="round"/><path d="M929.46 1444.48L929.46 1430.48A14 14 0 0 1 939.66 1454.07Z" fill="#F6B1B0" stroke="#000" stroke-width="1.1" stroke-linejoin="round"/><path d="M961.99 1444.48L961.99 1430.48A14 14 0 0 1 975.01 1449.64Z" fill="#F6B1B0" stroke="#000" stroke-width="1.1" stroke-linejoin="round"/><path d="M994.53 1444.48L994.53 1430.48A14 14 0 0 1 1005.31 1435.56Z" fill="#F4D6D6" stroke="#000" stroke-width="1.1" stroke-linejoin="round"/><path d="M1027.06 1444.48L1027.06 1430.48A14 14 0 0 1 1040.62 1447.96Z" fill="#F5C4C3" stroke="#000" stroke-width="1.1" stroke-linejoin="round"/><path d="M1059.6 1444.48L1059.6 1430.48A14 14 0 0 1 1070.92 1436.25Z" fill="#F4D6D6" stroke="#000" stroke-width="1.1" stroke-linejoin="round"/><path d="M1092.13 1444.48L1092.13 1430.48A14 14 0 1 1 1089.51 1458.23Z" fill="#F88C8A" stroke="#000" stroke-width="1.1" stroke-linejoin="round"/><path d="M1124.67 1444.48L1124.67 1430.48A14 14 0 1 1 1116.44 1455.81Z" fill="#F88C8A" stroke="#000" stroke-width="1.1" stroke-linejoin="round"/><path d="M1157.2 1444.48L1157.2 1430.48A14 14 0 0 1 1170.52 1448.81Z" fill="#F5C4C3" stroke="#000" stroke-width="1.1" stroke-linejoin="round"/><circle cx="799.32" cy="1477.02" r="14" fill="#FD423E" stroke="#000" stroke-width="1.1"/><path d="M799.32 1477.02V1463.02" stroke="#000" stroke-width="1.1"/><path d="M831.85 1477.02L831.85 1463.02A14 14 0 0 1 843.67 1484.52Z" fill="#F6B1B0" stroke="#000" stroke-width="1.1" stroke-linejoin="round"/><path d="M864.39 1477.02L864.39 1463.02A14 14 0 0 1 871.13 1489.29Z" fill="#F79F9D" stroke="#000" stroke-width="1.1" stroke-linejoin="round"/><path d="M896.92 1477.02L896.92 1463.02A14 14 0 0 0 883.03 1475.26Z" fill="#C3CEEE" stroke="#000" stroke-width="1.1" stroke-linejoin="round"/><path d="M929.46 1477.02L929.46 1463.02A14 14 0 0 1 935.42 1489.69Z" fill="#F79F9D" stroke="#000" stroke-width="1.1" stroke-linejoin="round"/><path d="M961.99 1477.02L961.99 1463.02A14 14 0 0 0 957.67 1463.7Z" fill="#E9EBF1" stroke="#000" stroke-width="1.1" stroke-linejoin="round"/><path d="M994.53 1477.02L994.53 1463.02A14 14 0 0 1 1002.76 1465.69Z" fill="#F3E9E9" stroke="#000" stroke-width="1.1" stroke-linejoin="round"/><path d="M1027.06 1477.02L1027.06 1463.02A14 14 0 0 1 1040.95 1478.77Z" fill="#F5C4C3" stroke="#000" stroke-width="1.1" stroke-linejoin="round"/><path d="M1059.6 1477.02L1059.6 1463.02A14 14 0 0 1 1073.49 1475.26Z" fill="#F5C4C3" stroke="#000" stroke-width="1.1" stroke-linejoin="round"/><path d="M1092.13 1477.02L1092.13 1463.02A14 14 0 1 1 1082.55 1487.22Z" fill="#FA7A77" stroke="#000" stroke-width="1.1" stroke-linejoin="round"/><path d="M1124.67 1477.02L1124.67 1463.02A14 14 0 1 1 1117.17 1488.84Z" fill="#F88C8A" stroke="#000" stroke-width="1.1" stroke-linejoin="round"/><path d="M1157.2 1477.02L1157.2 1463.02A14 14 0 0 1 1161.53 1463.7Z" fill="#F3E9E9" stroke="#000" stroke-width="1.1" stroke-linejoin="round"/><circle cx="831.85" cy="1509.55" r="14" fill="#FD423E" stroke="#000" stroke-width="1.1"/><path d="M831.85 1509.55V1495.55" stroke="#000" stroke-width="1.1"/><path d="M864.39 1509.55L864.39 1495.55A14 14 0 1 1 850.64 1512.18Z" fill="#FB6764" stroke="#000" stroke-width="1.1" stroke-linejoin="round"/><path d="M896.92 1509.55L896.92 1495.55A14 14 0 0 1 907.71 1500.63Z" fill="#F4D6D6" stroke="#000" stroke-width="1.1" stroke-linejoin="round"/><path d="M929.46 1509.55L929.46 1495.55A14 14 0 1 1 915.9 1513.03Z" fill="#FB6764" stroke="#000" stroke-width="1.1" stroke-linejoin="round"/><path d="M961.99 1509.55L961.99 1495.55A14 14 0 0 1 967.15 1522.57Z" fill="#F79F9D" stroke="#000" stroke-width="1.1" stroke-linejoin="round"/><path d="M994.53 1509.55L994.53 1495.55A14 14 0 0 1 995.41 1523.52Z" fill="#F79F9D" stroke="#000" stroke-width="1.1" stroke-linejoin="round"/><path d="M1027.06 1509.55L1027.06 1495.55A14 14 0 1 1 1021.1 1522.22Z" fill="#F88C8A" stroke="#000" stroke-width="1.1" stroke-linejoin="round"/><path d="M1059.6 1509.55L1059.6 1495.55A14 14 0 1 1 1049.39 1519.14Z" fill="#FA7A77" stroke="#000" stroke-width="1.1" stroke-linejoin="round"/><path d="M1092.13 1509.55L1092.13 1495.55A14 14 0 0 1 1104.4 1516.3Z" fill="#F6B1B0" stroke="#000" stroke-width="1.1" stroke-linejoin="round"/><path d="M1124.67 1509.55L1124.67 1495.55A14 14 0 0 1 1136.49 1517.05Z" fill="#F6B1B0" stroke="#000" stroke-width="1.1" stroke-linejoin="round"/><path d="M1157.2 1509.55L1157.2 1495.55A14 14 0 0 1 1169.47 1502.81Z" fill="#F4D6D6" stroke="#000" stroke-width="1.1" stroke-linejoin="round"/><circle cx="864.39" cy="1542.09" r="14" fill="#FD423E" stroke="#000" stroke-width="1.1"/><path d="M864.39 1542.09V1528.09" stroke="#000" stroke-width="1.1"/><path d="M896.92 1542.09L896.92 1528.09A14 14 0 0 1 909.19 1535.34Z" fill="#F4D6D6" stroke="#000" stroke-width="1.1" stroke-linejoin="round"/><path d="M929.46 1542.09L929.46 1528.09A14 14 0 1 1 915.9 1545.57Z" fill="#FB6764" stroke="#000" stroke-width="1.1" stroke-linejoin="round"/><path d="M961.99 1542.09L961.99 1528.09A14 14 0 0 1 975.88 1540.33Z" fill="#F5C4C3" stroke="#000" stroke-width="1.1" stroke-linejoin="round"/><path d="M994.53 1542.09L994.53 1528.09A14 14 0 1 1 987.78 1554.36Z" fill="#F88C8A" stroke="#000" stroke-width="1.1" stroke-linejoin="round"/><path d="M1027.06 1542.09L1027.06 1528.09A14 14 0 1 1 1013.31 1539.46Z" fill="#FB6764" stroke="#000" stroke-width="1.1" stroke-linejoin="round"/><path d="M1059.6 1542.09L1059.6 1528.09A14 14 0 1 1 1047.33 1548.83Z" fill="#FA7A77" stroke="#000" stroke-width="1.1" stroke-linejoin="round"/><path d="M1092.13 1542.09L1092.13 1528.09A14 14 0 0 1 1106.13 1542.09Z" fill="#F5C4C3" stroke="#000" stroke-width="1.1" stroke-linejoin="round"/><path d="M1124.67 1542.09L1124.67 1528.09A14 14 0 0 1 1137.98 1537.76Z" fill="#F4D6D6" stroke="#000" stroke-width="1.1" stroke-linejoin="round"/><path d="M1157.2 1542.09L1157.2 1528.09A14 14 0 0 1 1159.83 1528.34Z" fill="#F3E9E9" stroke="#000" stroke-width="1.1" stroke-linejoin="round"/><circle cx="896.92" cy="1574.62" r="14" fill="#FD423E" stroke="#000" stroke-width="1.1"/><path d="M896.92 1574.62V1560.62" stroke="#000" stroke-width="1.1"/><path d="M929.46 1574.62L929.46 1560.62A14 14 0 0 1 941.28 1582.12Z" fill="#F6B1B0" stroke="#000" stroke-width="1.1" stroke-linejoin="round"/><path d="M961.99 1574.62L961.99 1560.62A14 14 0 0 1 973.32 1582.85Z" fill="#F6B1B0" stroke="#000" stroke-width="1.1" stroke-linejoin="round"/><path d="M994.53 1574.62L994.53 1560.62A14 14 0 0 1 1008.28 1572Z" fill="#F5C4C3" stroke="#000" stroke-width="1.1" stroke-linejoin="round"/><path d="M1027.06 1574.62L1027.06 1560.62A14 14 0 0 1 1039.33 1581.37Z" fill="#F6B1B0" stroke="#000" stroke-width="1.1" stroke-linejoin="round"/><path d="M1059.6 1574.62L1059.6 1560.62A14 14 0 0 1 1072.61 1579.78Z" fill="#F6B1B0" stroke="#000" stroke-width="1.1" stroke-linejoin="round"/><path d="M1092.13 1574.62L1092.13 1560.62A14 14 0 0 0 1078.82 1570.3Z" fill="#D6DCEF" stroke="#000" stroke-width="1.1" stroke-linejoin="round"/><path d="M1124.67 1574.62L1124.67 1560.62A14 14 0 0 1 1128.15 1561.06Z" fill="#F3E9E9" stroke="#000" stroke-width="1.1" stroke-linejoin="round"/><path d="M1157.2 1574.62L1157.2 1560.62A14 14 0 0 1 1171.09 1576.38Z" fill="#F5C4C3" stroke="#000" stroke-width="1.1" stroke-linejoin="round"/><circle cx="929.46" cy="1607.16" r="14" fill="#FD423E" stroke="#000" stroke-width="1.1"/><path d="M929.46 1607.16V1593.16" stroke="#000" stroke-width="1.1"/><path d="M961.99 1607.16L961.99 1593.16A14 14 0 0 1 962.87 1621.13Z" fill="#F79F9D" stroke="#000" stroke-width="1.1" stroke-linejoin="round"/><path d="M994.53 1607.16L994.53 1593.16A14 14 0 0 1 995.41 1621.13Z" fill="#F79F9D" stroke="#000" stroke-width="1.1" stroke-linejoin="round"/><path d="M1027.06 1607.16L1027.06 1593.16A14 14 0 1 1 1013.06 1607.16Z" fill="#FB6764" stroke="#000" stroke-width="1.1" stroke-linejoin="round"/><path d="M1059.6 1607.16L1059.6 1593.16A14 14 0 1 1 1055.27 1620.47Z" fill="#F88C8A" stroke="#000" stroke-width="1.1" stroke-linejoin="round"/><path d="M1092.13 1607.16L1092.13 1593.16A14 14 0 0 1 1106.1 1608.04Z" fill="#F5C4C3" stroke="#000" stroke-width="1.1" stroke-linejoin="round"/><path d="M1124.67 1607.16L1124.67 1593.16A14 14 0 0 1 1133.59 1617.94Z" fill="#F6B1B0" stroke="#000" stroke-width="1.1" stroke-linejoin="round"/><path d="M1157.2 1607.16L1157.2 1593.16A14 14 0 0 1 1169.87 1613.12Z" fill="#F6B1B0" stroke="#000" stroke-width="1.1" stroke-linejoin="round"/><circle cx="961.99" cy="1639.69" r="14" fill="#FD423E" stroke="#000" stroke-width="1.1"/><path d="M961.99 1639.69V1625.69" stroke="#000" stroke-width="1.1"/><path d="M994.53 1639.69L994.53 1625.69A14 14 0 0 1 1004.73 1649.28Z" fill="#F6B1B0" stroke="#000" stroke-width="1.1" stroke-linejoin="round"/><path d="M1027.06 1639.69L1027.06 1625.69A14 14 0 0 1 1030.54 1653.25Z" fill="#F79F9D" stroke="#000" stroke-width="1.1" stroke-linejoin="round"/><path d="M1059.6 1639.69L1059.6 1625.69A14 14 0 0 1 1073.49 1641.45Z" fill="#F5C4C3" stroke="#000" stroke-width="1.1" stroke-linejoin="round"/><path d="M1092.13 1639.69L1092.13 1625.69A14 14 0 0 1 1098.88 1627.42Z" fill="#F3E9E9" stroke="#000" stroke-width="1.1" stroke-linejoin="round"/><path d="M1124.67 1639.69L1124.67 1625.69A14 14 0 0 1 1137.34 1645.65Z" fill="#F6B1B0" stroke="#000" stroke-width="1.1" stroke-linejoin="round"/><path d="M1157.2 1639.69L1157.2 1625.69A14 14 0 1 1 1153.72 1653.25Z" fill="#F88C8A" stroke="#000" stroke-width="1.1" stroke-linejoin="round"/><circle cx="994.53" cy="1672.23" r="14" fill="#FD423E" stroke="#000" stroke-width="1.1"/><path d="M994.53 1672.23V1658.23" stroke="#000" stroke-width="1.1"/><path d="M1027.06 1672.23L1027.06 1658.23A14 14 0 1 1 1020.32 1684.5Z" fill="#F88C8A" stroke="#000" stroke-width="1.1" stroke-linejoin="round"/><path d="M1059.6 1672.23L1059.6 1658.23A14 14 0 0 1 1064.75 1685.24Z" fill="#F79F9D" stroke="#000" stroke-width="1.1" stroke-linejoin="round"/><path d="M1092.13 1672.23L1092.13 1658.23A14 14 0 0 1 1093.01 1658.26Z" fill="#F3E9E9" stroke="#000" stroke-width="1.1" stroke-linejoin="round"/><path d="M1124.67 1672.23L1124.67 1658.23A14 14 0 0 0 1122.04 1658.48Z" fill="#E9EBF1" stroke="#000" stroke-width="1.1" stroke-linejoin="round"/><path d="M1157.2 1672.23L1157.2 1658.23A14 14 0 0 1 1169.02 1664.73Z" fill="#F4D6D6" stroke="#000" stroke-width="1.1" stroke-linejoin="round"/><circle cx="1027.06" cy="1704.76" r="14" fill="#FD423E" stroke="#000" stroke-width="1.1"/><path d="M1027.06 1704.76V1690.76" stroke="#000" stroke-width="1.1"/><path d="M1059.6 1704.76L1059.6 1690.76A14 14 0 1 1 1045.63 1705.64Z" fill="#FB6764" stroke="#000" stroke-width="1.1" stroke-linejoin="round"/><path d="M1092.13 1704.76L1092.13 1690.76A14 14 0 0 1 1102.92 1695.84Z" fill="#F4D6D6" stroke="#000" stroke-width="1.1" stroke-linejoin="round"/><path d="M1124.67 1704.76L1124.67 1690.76A14 14 0 0 1 1137.68 1699.61Z" fill="#F4D6D6" stroke="#000" stroke-width="1.1" stroke-linejoin="round"/><path d="M1157.2 1704.76L1157.2 1690.76A14 14 0 0 1 1171.17 1705.64Z" fill="#F5C4C3" stroke="#000" stroke-width="1.1" stroke-linejoin="round"/><circle cx="1059.6" cy="1737.3" r="14" fill="#FD423E" stroke="#000" stroke-width="1.1"/><path d="M1059.6 1737.3V1723.3" stroke="#000" stroke-width="1.1"/><path d="M1092.13 1737.3L1092.13 1723.3A14 14 0 0 1 1104.4 1730.55Z" fill="#F4D6D6" stroke="#000" stroke-width="1.1" stroke-linejoin="round"/><path d="M1124.67 1737.3L1124.67 1723.3A14 14 0 0 1 1137.98 1732.97Z" fill="#F4D6D6" stroke="#000" stroke-width="1.1" stroke-linejoin="round"/><path d="M1157.2 1737.3L1157.2 1723.3A14 14 0 0 1 1170.95 1734.67Z" fill="#F5C4C3" stroke="#000" stroke-width="1.1" stroke-linejoin="round"/><circle cx="1092.13" cy="1769.83" r="14" fill="#FD423E" stroke="#000" stroke-width="1.1"/><path d="M1092.13 1769.83V1755.83" stroke="#000" stroke-width="1.1"/><path d="M1124.67 1769.83L1124.67 1755.83A14 14 0 1 1 1112.4 1776.58Z" fill="#FA7A77" stroke="#000" stroke-width="1.1" stroke-linejoin="round"/><path d="M1157.2 1769.83L1157.2 1755.83A14 14 0 0 1 1158.96 1755.94Z" fill="#F3E9E9" stroke="#000" stroke-width="1.1" stroke-linejoin="round"/><circle cx="1124.67" cy="1802.37" r="14" fill="#FD423E" stroke="#000" stroke-width="1.1"/><path d="M1124.67 1802.37V1788.37" stroke="#000" stroke-width="1.1"/><path d="M1157.2 1802.37L1157.2 1788.37A14 14 0 0 1 1167.41 1811.95Z" fill="#F6B1B0" stroke="#000" stroke-width="1.1" stroke-linejoin="round"/><circle cx="1157.2" cy="1834.9" r="14" fill="#FD423E" stroke="#000" stroke-width="1.1"/><path d="M1157.2 1834.9V1820.9" stroke="#000" stroke-width="1.1"/></g>
<g class="se b" font-size="13.2" text-anchor="middle" fill="#333" stroke="#333" stroke-width="0.45" opacity="0.8"><text x="473.97" y="1158.27">***</text><text x="539.04" y="1158.27">***</text><text x="571.57" y="1158.27">***</text><text x="636.64" y="1158.27">***</text><text x="669.18" y="1158.27">***</text><text x="766.78" y="1158.27">*</text><text x="799.32" y="1158.27">***</text><text x="896.92" y="1158.27">***</text><text x="1092.13" y="1158.27">***</text><text x="1124.67" y="1158.27">***</text><text x="506.5" y="1190.8">***</text><text x="604.11" y="1190.8">*</text><text x="701.71" y="1190.8">***</text><text x="734.25" y="1190.8">*</text><text x="766.78" y="1190.8">**</text><text x="831.85" y="1190.8">***</text><text x="864.39" y="1190.8">***</text><text x="896.92" y="1190.8">**</text><text x="929.46" y="1190.8">***</text><text x="961.99" y="1190.8">**</text><text x="994.53" y="1190.8">**</text><text x="1027.06" y="1190.8">***</text><text x="1059.6" y="1190.8">***</text><text x="539.04" y="1223.34">***</text><text x="571.57" y="1223.34">***</text><text x="636.64" y="1223.34">***</text><text x="669.18" y="1223.34">***</text><text x="766.78" y="1223.34">**</text><text x="799.32" y="1223.34">***</text><text x="896.92" y="1223.34">**</text><text x="1092.13" y="1223.34">***</text><text x="1124.67" y="1223.34">***</text><text x="571.57" y="1255.87">***</text><text x="636.64" y="1255.87">***</text><text x="669.18" y="1255.87">***</text><text x="766.78" y="1255.87">*</text><text x="799.32" y="1255.87">***</text><text x="896.92" y="1255.87">*</text><text x="1092.13" y="1255.87">***</text><text x="1124.67" y="1255.87">***</text><text x="604.11" y="1288.41">***</text><text x="734.25" y="1288.41">*</text><text x="831.85" y="1288.41">***</text><text x="864.39" y="1288.41">**</text><text x="929.46" y="1288.41">*</text><text x="994.53" y="1288.41">*</text><text x="1027.06" y="1288.41">**</text><text x="1059.6" y="1288.41">***</text><text x="636.64" y="1320.94">***</text><text x="669.18" y="1320.94">***</text><text x="766.78" y="1320.94">*</text><text x="799.32" y="1320.94">***</text><text x="896.92" y="1320.94">**</text><text x="1092.13" y="1320.94">***</text><text x="1124.67" y="1320.94">***</text><text x="669.18" y="1353.48">***</text><text x="799.32" y="1353.48">***</text><text x="896.92" y="1353.48">**</text><text x="1092.13" y="1353.48">**</text><text x="1124.67" y="1353.48">***</text><text x="701.71" y="1386.01">***</text><text x="734.25" y="1386.01">***</text><text x="766.78" y="1386.01">**</text><text x="831.85" y="1386.01">**</text><text x="864.39" y="1386.01">***</text><text x="929.46" y="1386.01">***</text><text x="961.99" y="1386.01">*</text><text x="994.53" y="1386.01">**</text><text x="1027.06" y="1386.01">***</text><text x="1059.6" y="1386.01">**</text><text x="734.25" y="1418.55">***</text><text x="799.32" y="1418.55">***</text><text x="831.85" y="1418.55">***</text><text x="864.39" y="1418.55">***</text><text x="929.46" y="1418.55">***</text><text x="994.53" y="1418.55">*</text><text x="1027.06" y="1418.55">**</text><text x="1059.6" y="1418.55">**</text><text x="1092.13" y="1418.55">*</text><text x="766.78" y="1451.08">***</text><text x="1092.13" y="1451.08">**</text><text x="1124.67" y="1451.08">***</text><text x="799.32" y="1483.62">***</text><text x="896.92" y="1483.62">**</text><text x="1092.13" y="1483.62">***</text><text x="1124.67" y="1483.62">***</text><text x="831.85" y="1516.15">***</text><text x="864.39" y="1516.15">***</text><text x="929.46" y="1516.15">***</text><text x="994.53" y="1516.15">***</text><text x="1027.06" y="1516.15">***</text><text x="1059.6" y="1516.15">***</text><text x="864.39" y="1548.69">***</text><text x="929.46" y="1548.69">***</text><text x="994.53" y="1548.69">***</text><text x="1027.06" y="1548.69">***</text><text x="1059.6" y="1548.69">***</text><text x="896.92" y="1581.22">***</text><text x="929.46" y="1581.22">*</text><text x="961.99" y="1581.22">**</text><text x="994.53" y="1581.22">*</text><text x="1027.06" y="1581.22">**</text><text x="1059.6" y="1581.22">*</text><text x="1092.13" y="1581.22">**</text><text x="929.46" y="1613.76">***</text><text x="961.99" y="1613.76">**</text><text x="994.53" y="1613.76">***</text><text x="1027.06" y="1613.76">***</text><text x="1059.6" y="1613.76">***</text><text x="961.99" y="1646.29">***</text><text x="994.53" y="1646.29">*</text><text x="1027.06" y="1646.29">**</text><text x="1157.2" y="1646.29">***</text><text x="994.53" y="1678.83">***</text><text x="1027.06" y="1678.83">***</text><text x="1059.6" y="1678.83">***</text><text x="1027.06" y="1711.36">***</text><text x="1059.6" y="1711.36">***</text><text x="1059.6" y="1743.9">***</text><text x="1092.13" y="1776.43">***</text><text x="1124.67" y="1776.43">***</text><text x="1124.67" y="1808.97">***</text><text x="1157.2" y="1841.5">***</text></g>
<rect x="1187" y="1135.4" width="26.6" height="36.19" fill="#FD423E" shape-rendering="crispEdges"/>
<rect x="1187" y="1171.19" width="26.6" height="36.19" fill="#FC5551" shape-rendering="crispEdges"/>
<rect x="1187" y="1206.98" width="26.6" height="36.19" fill="#FB6764" shape-rendering="crispEdges"/>
<rect x="1187" y="1242.77" width="26.6" height="36.19" fill="#FA7A77" shape-rendering="crispEdges"/>
<rect x="1187" y="1278.55" width="26.6" height="36.19" fill="#F88C8A" shape-rendering="crispEdges"/>
<rect x="1187" y="1314.34" width="26.6" height="36.19" fill="#F79F9D" shape-rendering="crispEdges"/>
<rect x="1187" y="1350.13" width="26.6" height="36.19" fill="#F6B1B0" shape-rendering="crispEdges"/>
<rect x="1187" y="1385.92" width="26.6" height="36.19" fill="#F5C4C3" shape-rendering="crispEdges"/>
<rect x="1187" y="1421.71" width="26.6" height="36.19" fill="#F4D6D6" shape-rendering="crispEdges"/>
<rect x="1187" y="1457.5" width="26.6" height="36.19" fill="#F3E9E9" shape-rendering="crispEdges"/>
<rect x="1187" y="1493.29" width="26.6" height="36.19" fill="#E9EBF1" shape-rendering="crispEdges"/>
<rect x="1187" y="1529.07" width="26.6" height="36.19" fill="#D6DCEF" shape-rendering="crispEdges"/>
<rect x="1187" y="1564.86" width="26.6" height="36.19" fill="#C3CEEE" shape-rendering="crispEdges"/>
<rect x="1187" y="1600.65" width="26.6" height="36.19" fill="#B1C0EC" shape-rendering="crispEdges"/>
<rect x="1187" y="1636.44" width="26.6" height="36.19" fill="#9EB1EA" shape-rendering="crispEdges"/>
<rect x="1187" y="1672.23" width="26.6" height="36.19" fill="#8CA3E8" shape-rendering="crispEdges"/>
<rect x="1187" y="1708.02" width="26.6" height="36.19" fill="#7994E6" shape-rendering="crispEdges"/>
<rect x="1187" y="1743.8" width="26.6" height="36.19" fill="#6686E5" shape-rendering="crispEdges"/>
<rect x="1187" y="1779.59" width="26.6" height="36.19" fill="#5477E3" shape-rendering="crispEdges"/>
<rect x="1187" y="1815.38" width="26.6" height="36.19" fill="#4169E1" shape-rendering="crispEdges"/>
<rect x="1187" y="1135.4" width="26.6" height="715.77" fill="none" stroke="#000" stroke-width="1.1"/>
<g class="se" font-size="13" text-anchor="middle" fill="#000">
<path d="M1213.6 1135.4H1219.2" stroke="#000" stroke-width="1.1"/>
<text x="1247.3" y="1139.8">1</text>
<path d="M1213.6 1171.19H1219.2" stroke="#000" stroke-width="1.1"/>
<text x="1247.3" y="1175.59">0.9</text>
<path d="M1213.6 1206.98H1219.2" stroke="#000" stroke-width="1.1"/>
<text x="1247.3" y="1211.38">0.8</text>
<path d="M1213.6 1242.77H1219.2" stroke="#000" stroke-width="1.1"/>
<text x="1247.3" y="1247.17">0.7</text>
<path d="M1213.6 1278.55H1219.2" stroke="#000" stroke-width="1.1"/>
<text x="1247.3" y="1282.95">0.6</text>
<path d="M1213.6 1314.34H1219.2" stroke="#000" stroke-width="1.1"/>
<text x="1247.3" y="1318.74">0.5</text>
<path d="M1213.6 1350.13H1219.2" stroke="#000" stroke-width="1.1"/>
<text x="1247.3" y="1354.53">0.4</text>
<path d="M1213.6 1385.92H1219.2" stroke="#000" stroke-width="1.1"/>
<text x="1247.3" y="1390.32">0.3</text>
<path d="M1213.6 1421.71H1219.2" stroke="#000" stroke-width="1.1"/>
<text x="1247.3" y="1426.11">0.2</text>
<path d="M1213.6 1457.5H1219.2" stroke="#000" stroke-width="1.1"/>
<text x="1247.3" y="1461.9">0.1</text>
<path d="M1213.6 1493.29H1219.2" stroke="#000" stroke-width="1.1"/>
<text x="1247.3" y="1497.69">0</text>
<path d="M1213.6 1529.07H1219.2" stroke="#000" stroke-width="1.1"/>
<text x="1247.3" y="1533.47">−0.1</text>
<path d="M1213.6 1564.86H1219.2" stroke="#000" stroke-width="1.1"/>
<text x="1247.3" y="1569.26">−0.2</text>
<path d="M1213.6 1600.65H1219.2" stroke="#000" stroke-width="1.1"/>
<text x="1247.3" y="1605.05">−0.3</text>
<path d="M1213.6 1636.44H1219.2" stroke="#000" stroke-width="1.1"/>
<text x="1247.3" y="1640.84">−0.4</text>
<path d="M1213.6 1672.23H1219.2" stroke="#000" stroke-width="1.1"/>
<text x="1247.3" y="1676.63">−0.5</text>
<path d="M1213.6 1708.02H1219.2" stroke="#000" stroke-width="1.1"/>
<text x="1247.3" y="1712.42">−0.6</text>
<path d="M1213.6 1743.8H1219.2" stroke="#000" stroke-width="1.1"/>
<text x="1247.3" y="1748.2">−0.7</text>
<path d="M1213.6 1779.59H1219.2" stroke="#000" stroke-width="1.1"/>
<text x="1247.3" y="1783.99">−0.8</text>
<path d="M1213.6 1815.38H1219.2" stroke="#000" stroke-width="1.1"/>
<text x="1247.3" y="1819.78">−0.9</text>
<path d="M1213.6 1851.17H1219.2" stroke="#000" stroke-width="1.1"/>
<text x="1247.3" y="1855.57">−1</text>
</g>
<text x="6.4" y="1908.5" class="pl" textLength="47.6" lengthAdjust="spacingAndGlyphs">(D)</text>
<rect x="190.4" y="1906.8" width="1182.2" height="117.1" fill="#FFFFFF" stroke="#C4C4C4" stroke-width="1"/>
<g class="se b" font-size="8.6" text-anchor="end">
<text x="185.6" y="1942">PRKCA</text>
<text x="185.6" y="1994.9">IKBKB</text>
</g>
<g><circle cx="221.9" cy="1939.1" r="9.27" fill="#FAA0A0" stroke="#A0A0A0" stroke-width="0.7"/><circle cx="275.2" cy="1939.1" r="4.86" fill="#F0F1FB" stroke="#A0A0A0" stroke-width="0.7"/><circle cx="328.5" cy="1939.1" r="9.38" fill="#FA9D9D" stroke="#A0A0A0" stroke-width="0.7"/><circle cx="381.8" cy="1939.1" r="9.89" fill="#F98E8E" stroke="#A0A0A0" stroke-width="0.7"/><circle cx="435.1" cy="1939.1" r="5.02" fill="#EFF0FA" stroke="#A0A0A0" stroke-width="0.7"/><circle cx="488.4" cy="1939.1" r="8.64" fill="#FBB0B0" stroke="#A0A0A0" stroke-width="0.7"/><circle cx="541.7" cy="1939.1" r="7.05" fill="#FDD2D2" stroke="#A0A0A0" stroke-width="0.7"/><circle cx="595" cy="1939.1" r="6.06" fill="#FDE1E1" stroke="#A0A0A0" stroke-width="0.7"/><circle cx="648.3" cy="1939.1" r="3.34" fill="#FFF9F9" stroke="#A0A0A0" stroke-width="0.7"/><circle cx="701.6" cy="1939.1" r="8.05" fill="#FCBEBE" stroke="#A0A0A0" stroke-width="0.7"/><circle cx="754.9" cy="1939.1" r="8.05" fill="#FCBEBE" stroke="#A0A0A0" stroke-width="0.7"/><circle cx="808.2" cy="1939.1" r="3.01" fill="#FBFBFE" stroke="#A0A0A0" stroke-width="0.7"/><circle cx="861.5" cy="1939.1" r="6.17" fill="#E3E5F7" stroke="#A0A0A0" stroke-width="0.7"/><circle cx="914.8" cy="1939.1" r="3.34" fill="#FAFAFD" stroke="#A0A0A0" stroke-width="0.7"/><circle cx="968.1" cy="1939.1" r="4.86" fill="#FEEEEE" stroke="#A0A0A0" stroke-width="0.7"/><circle cx="1021.4" cy="1939.1" r="5.45" fill="#FEE8E8" stroke="#A0A0A0" stroke-width="0.7"/><circle cx="1074.7" cy="1939.1" r="5.71" fill="#E8EAF8" stroke="#A0A0A0" stroke-width="0.7"/><circle cx="1128" cy="1939.1" r="4.86" fill="#F0F1FB" stroke="#A0A0A0" stroke-width="0.7"/><circle cx="1181.3" cy="1939.1" r="4.32" fill="#F4F5FC" stroke="#A0A0A0" stroke-width="0.7"/><circle cx="1234.6" cy="1939.1" r="7.91" fill="#FCC1C1" stroke="#A0A0A0" stroke-width="0.7"/><circle cx="1287.9" cy="1939.1" r="8.99" fill="#FAA7A7" stroke="#A0A0A0" stroke-width="0.7"/><circle cx="1341.2" cy="1939.1" r="7.13" fill="#FDD0D0" stroke="#A0A0A0" stroke-width="0.7"/><circle cx="221.9" cy="1992" r="9.27" fill="#FAA0A0" stroke="#A0A0A0" stroke-width="0.7"/><circle cx="275.2" cy="1992" r="6.49" fill="#DFE1F6" stroke="#A0A0A0" stroke-width="0.7"/><circle cx="328.5" cy="1992" r="9.33" fill="#FA9E9E" stroke="#A0A0A0" stroke-width="0.7"/><circle cx="381.8" cy="1992" r="9.74" fill="#F99292" stroke="#A0A0A0" stroke-width="0.7"/><circle cx="435.1" cy="1992" r="5.45" fill="#FEE8E8" stroke="#A0A0A0" stroke-width="0.7"/><circle cx="488.4" cy="1992" r="8.82" fill="#FBACAC" stroke="#A0A0A0" stroke-width="0.7"/><circle cx="541.7" cy="1992" r="8.7" fill="#FBAFAF" stroke="#A0A0A0" stroke-width="0.7"/><circle cx="595" cy="1992" r="8.12" fill="#FBBDBD" stroke="#A0A0A0" stroke-width="0.7"/><circle cx="648.3" cy="1992" r="8.93" fill="#FAA9A9" stroke="#A0A0A0" stroke-width="0.7"/><circle cx="701.6" cy="1992" r="8.12" fill="#FBBDBD" stroke="#A0A0A0" stroke-width="0.7"/><circle cx="754.9" cy="1992" r="9.59" fill="#F99797" stroke="#A0A0A0" stroke-width="0.7"/><circle cx="808.2" cy="1992" r="6.78" fill="#FDD6D6" stroke="#A0A0A0" stroke-width="0.7"/><circle cx="861.5" cy="1992" r="7.38" fill="#FCCCCC" stroke="#A0A0A0" stroke-width="0.7"/><circle cx="914.8" cy="1992" r="3.88" fill="#F7F8FD" stroke="#A0A0A0" stroke-width="0.7"/><circle cx="968.1" cy="1992" r="7.91" fill="#FCC1C1" stroke="#A0A0A0" stroke-width="0.7"/><circle cx="1021.4" cy="1992" r="5.71" fill="#FEE5E5" stroke="#A0A0A0" stroke-width="0.7"/><circle cx="1074.7" cy="1992" r="6.17" fill="#FDDFDF" stroke="#A0A0A0" stroke-width="0.7"/><circle cx="1128" cy="1992" r="7.46" fill="#FCCACA" stroke="#A0A0A0" stroke-width="0.7"/><circle cx="1181.3" cy="1992" r="5.95" fill="#FDE2E2" stroke="#A0A0A0" stroke-width="0.7"/><circle cx="1234.6" cy="1992" r="9.43" fill="#FA9B9B" stroke="#A0A0A0" stroke-width="0.7"/><circle cx="1287.9" cy="1992" r="9.49" fill="#FA9A9A" stroke="#A0A0A0" stroke-width="0.7"/><circle cx="1341.2" cy="1992" r="6.06" fill="#FDE1E1" stroke="#A0A0A0" stroke-width="0.7"/></g>
<g class="se" font-size="7.7" text-anchor="middle" fill="#000"><text x="221.9" y="1941.7">0.63</text><text x="275.2" y="1941.7">−0.11</text><text x="328.5" y="1941.7">0.65</text><text x="381.8" y="1941.7">0.75</text><text x="435.1" y="1941.7">−0.12</text><text x="488.4" y="1941.7">0.52</text><text x="541.7" y="1941.7">0.3</text><text x="595" y="1941.7">0.2</text><text x="648.3" y="1941.7">0.04</text><text x="701.6" y="1941.7">0.43</text><text x="754.9" y="1941.7">0.43</text><text x="808.2" y="1941.7">−0.03</text><text x="861.5" y="1941.7">−0.21</text><text x="914.8" y="1941.7">−0.04</text><text x="968.1" y="1941.7">0.11</text><text x="1021.4" y="1941.7">0.15</text><text x="1074.7" y="1941.7">−0.17</text><text x="1128" y="1941.7">−0.11</text><text x="1181.3" y="1941.7">−0.08</text><text x="1234.6" y="1941.7">0.41</text><text x="1287.9" y="1941.7">0.58</text><text x="1341.2" y="1941.7">0.31</text><text x="221.9" y="1994.6">0.63</text><text x="275.2" y="1994.6">−0.24</text><text x="328.5" y="1994.6">0.64</text><text x="381.8" y="1994.6">0.72</text><text x="435.1" y="1994.6">0.15</text><text x="488.4" y="1994.6">0.55</text><text x="541.7" y="1994.6">0.53</text><text x="595" y="1994.6">0.44</text><text x="648.3" y="1994.6">0.57</text><text x="701.6" y="1994.6">0.44</text><text x="754.9" y="1994.6">0.69</text><text x="808.2" y="1994.6">0.27</text><text x="861.5" y="1994.6">0.34</text><text x="914.8" y="1994.6">−0.06</text><text x="968.1" y="1994.6">0.41</text><text x="1021.4" y="1994.6">0.17</text><text x="1074.7" y="1994.6">0.21</text><text x="1128" y="1994.6">0.35</text><text x="1181.3" y="1994.6">0.19</text><text x="1234.6" y="1994.6">0.66</text><text x="1287.9" y="1994.6">0.67</text><text x="1341.2" y="1994.6">0.2</text></g>
<path d="M269.7 1933.6L280.7 1944.6M269.7 1944.6L280.7 1933.6M589.5 1933.6L600.5 1944.6M589.5 1944.6L600.5 1933.6M642.8 1933.6L653.8 1944.6M642.8 1944.6L653.8 1933.6M962.6 1933.6L973.6 1944.6M962.6 1944.6L973.6 1933.6M1015.9 1933.6L1026.9 1944.6M1015.9 1944.6L1026.9 1933.6M1335.7 1933.6L1346.7 1944.6M1335.7 1944.6L1346.7 1933.6M269.7 1986.5L280.7 1997.5M269.7 1997.5L280.7 1986.5M429.6 1986.5L440.6 1997.5M429.6 1997.5L440.6 1986.5M802.7 1986.5L813.7 1997.5M802.7 1997.5L813.7 1986.5M856 1986.5L867 1997.5M856 1997.5L867 1986.5M962.6 1986.5L973.6 1997.5M962.6 1997.5L973.6 1986.5M1015.9 1986.5L1026.9 1997.5M1015.9 1997.5L1026.9 1986.5M1069.2 1986.5L1080.2 1997.5M1069.2 1997.5L1080.2 1986.5M1122.5 1986.5L1133.5 1997.5M1122.5 1997.5L1133.5 1986.5M1175.8 1986.5L1186.8 1997.5M1175.8 1997.5L1186.8 1986.5M1335.7 1986.5L1346.7 1997.5M1335.7 1997.5L1346.7 1986.5" stroke="#111" stroke-width="1.25" fill="none"/>
<g class="se b" font-size="9.05" text-anchor="end">
<text transform="translate(226.9 2033.5) rotate(-45)">Activated CD8 T cell</text>
<text transform="translate(280.2 2033.5) rotate(-45)">CD56bright natural killer cell</text>
<text transform="translate(333.5 2033.5) rotate(-45)">CD56dim natural killer cell</text>
<text transform="translate(386.8 2033.5) rotate(-45)">Central memory CD4 T cell</text>
<text transform="translate(440.1 2033.5) rotate(-45)">Central memory CD8 T cell</text>
<text transform="translate(493.4 2033.5) rotate(-45)">Effector memory CD4 T cell</text>
<text transform="translate(546.7 2033.5) rotate(-45)">Effector memory CD8 T cell</text>
<text transform="translate(600 2033.5) rotate(-45)">Eosinophil</text>
<text transform="translate(653.3 2033.5) rotate(-45)">Gamma delta T cell</text>
<text transform="translate(706.6 2033.5) rotate(-45)">Immature  B cell</text>
<text transform="translate(759.9 2033.5) rotate(-45)">Immature dendritic cell</text>
<text transform="translate(813.2 2033.5) rotate(-45)">MDSC</text>
<text transform="translate(866.5 2033.5) rotate(-45)">Macrophage</text>
<text transform="translate(919.8 2033.5) rotate(-45)">Memory B cell</text>
<text transform="translate(973.1 2033.5) rotate(-45)">Monocyte</text>
<text transform="translate(1026.4 2033.5) rotate(-45)">Natural killer T cell</text>
<text transform="translate(1079.7 2033.5) rotate(-45)">Natural killer cell</text>
<text transform="translate(1133 2033.5) rotate(-45)">Neutrophil</text>
<text transform="translate(1186.3 2033.5) rotate(-45)">Plasmacytoid dendritic cell</text>
<text transform="translate(1239.6 2033.5) rotate(-45)">Regulatory T cell</text>
<text transform="translate(1292.9 2033.5) rotate(-45)">T follicular helper cell</text>
<text transform="translate(1346.2 2033.5) rotate(-45)">Type 1 T helper cell</text>
</g>
<text class="se b" x="1380.4" y="1929.2" font-size="10.6">Cor</text>
<defs><linearGradient id="gD" x1="0" y1="0" x2="0" y2="1"><stop offset="0" stop-color="#F3686A"/><stop offset="0.5" stop-color="#FFFFFF"/><stop offset="1" stop-color="#5C8EF0"/></linearGradient></defs>
<rect x="1380.5" y="1934.5" width="15.6" height="76.8" fill="url(#gD)"/>
<g class="se b" font-size="9.1">
<text x="1400.6" y="1938.1">1.0</text>
<text x="1400.6" y="1957.15">0.5</text>
<text x="1400.6" y="1976.2">0.0</text>
<text x="1400.6" y="1995.25">−0.5</text>
<text x="1400.6" y="2014.3">−1.0</text>
</g>
</svg>
</body>
</html>
